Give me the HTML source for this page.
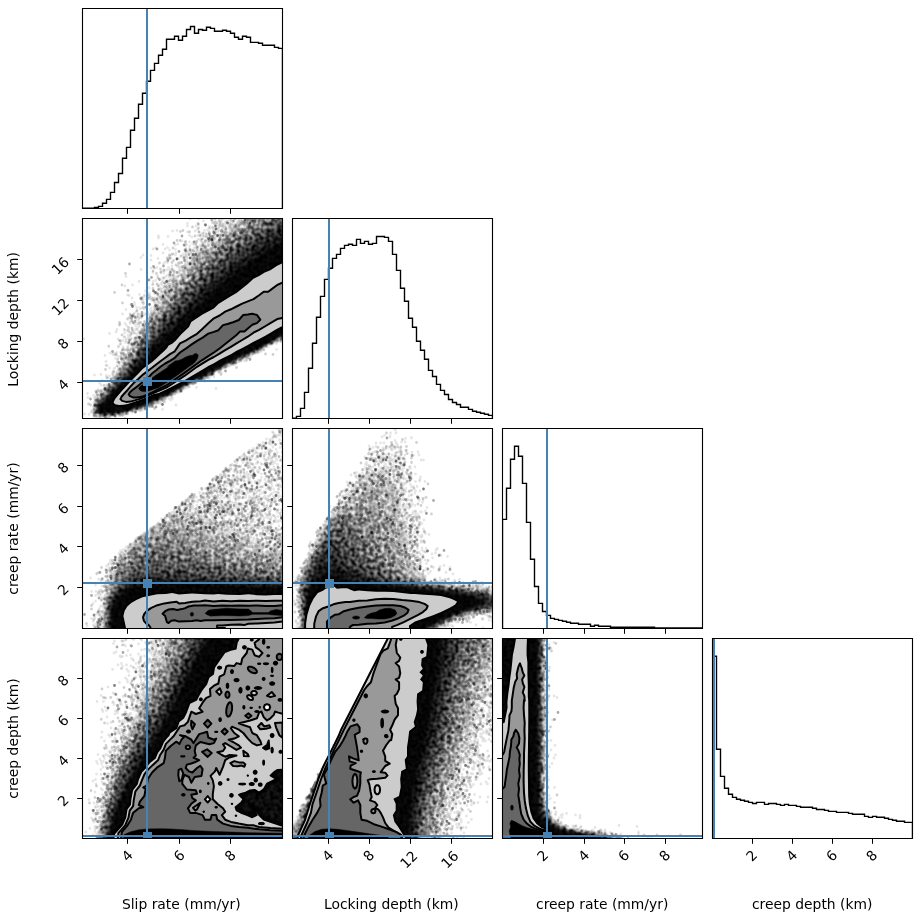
<!DOCTYPE html>
<html lang="en"><head><meta charset="utf-8"><title>Corner plot</title>
<style>html,body{margin:0;padding:0;background:#fff}body{width:922px;height:920px;overflow:hidden}svg{display:block}</style>
</head><body>
<svg width="922" height="920" viewBox="0 0 922 920" font-family="'DejaVu Sans','Liberation Sans',sans-serif" font-size="13.889px">
<rect width="922" height="920" fill="#fff"/>
<defs>
<clipPath id="cp00"><rect x="82.5" y="8.5" width="200" height="200"/></clipPath>
<clipPath id="cp10"><rect x="82.5" y="218.5" width="200" height="200"/></clipPath>
<clipPath id="cp11"><rect x="292.5" y="218.5" width="200" height="200"/></clipPath>
<clipPath id="cp20"><rect x="82.5" y="428.5" width="200" height="200"/></clipPath>
<clipPath id="cp21"><rect x="292.5" y="428.5" width="200" height="200"/></clipPath>
<clipPath id="cp22"><rect x="502.5" y="428.5" width="200" height="200"/></clipPath>
<clipPath id="cp30"><rect x="82.5" y="638.5" width="200" height="200"/></clipPath>
<clipPath id="cp31"><rect x="292.5" y="638.5" width="200" height="200"/></clipPath>
<clipPath id="cp32"><rect x="502.5" y="638.5" width="200" height="200"/></clipPath>
<clipPath id="cp33"><rect x="712.5" y="638.5" width="200" height="200"/></clipPath>
<filter id="bl" filterUnits="userSpaceOnUse" x="70" y="200" width="650" height="650" color-interpolation-filters="sRGB"><feGaussianBlur in="SourceGraphic" stdDeviation="1.1" result="b"/><feTurbulence type="fractalNoise" baseFrequency=".27" numOctaves="1" seed="3" result="t"/><feColorMatrix in="t" type="matrix" values="0 0 0 0 0  0 0 0 0 0  0 0 0 0 0  2.2 0 0 0 -0.6" result="n"/><feComposite in="b" in2="b" operator="arithmetic" k1="-1" k2="1" k3="0" k4="0" result="q"/><feComposite in="q" in2="n" operator="arithmetic" k1="1" k2="0" k3="0" k4="0" result="m"/><feComposite in="b" in2="b" operator="arithmetic" k1="1.20" k2="-0.20" k3="0" k4="0" result="p"/><feComposite in="p" in2="m" operator="arithmetic" k1="0" k2="1" k3="2.40" k4="0"/></filter><clipPath id="sc20"><path d="M78 636.5L78 584.8 295 414.2 295 636.5Z"/></clipPath><clipPath id="hc30"><path d="M235.4 807.2L241 802.7 243.3 799.3 238.8 794.8 241 793.7 245.6 792.5 250.1 790.3 254.6 789.7 259.1 792.5 263.7 789.1 267 783.5 271.6 781.2 276.1 779 270.4 775.6 273.8 772.2 277.2 769.9 288.5 769.3 288.5 826.4 282.5 825.9 277.2 824.2 270.4 821.9 263.7 819.7 259.1 815.1 255.7 809.5 253.5 808.3 256.9 815.1 252.3 817.4 246.7 815.1 241 812.9 236.5 810.6Z"/></clipPath><clipPath id="sc31"><path d="M407.7 600L274.5 860 520 860 520 600Z"/></clipPath>
</defs>
<g clip-path="url(#cp10)">
<g fill="#000" fill-rule="evenodd" filter="url(#bl)"><path d="M113 417.5L101 417.8 94 415.5 92.6 414 92 411 92.4 407 93.4 404 97.6 396 100.5 392 105.3 387 111.1 382 113 379.5 139.8 330 150.4 312 171.4 282 180.4 271 193 257.1 209.5 241 220 231.6 231 223 254 212.5 262 212.5 288 212.5 288.5 212.5 288.5 217 288.5 239 288.5 331 288.5 333 288.5 335 287 336.9 261 350.8 237 362 211 375.8 192.8 384 176 393.7 172.9 395 169 397.7 154.8 404 148 407.7 143.6 409 143 409.6 136.8 411 136 411.7 130.2 413 129 413.8 126.7 414 126 414.7 118.4 416 117 416.7 113.5 417Z" fill-opacity="0.055"/><path d="M112 417.3L102 417.5 97 416.3 94 414.8 92.6 413 92.2 411 92.6 408 94.5 403 100 393.5 104.8 388 110.6 383 113.2 380 140.4 331 151.9 312 173 282.3 184.1 269 200 252.3 220 233.6 230.9 225 250 214 255 212.5 259 212.5 286 212.5 288 212.5 288.5 212.5 288.5 213 288.5 217 288.5 240 288.5 258 288.5 331 288.5 333 288.5 334.9 287 336.6 259 351.6 236.7 362 213 374.6 192.5 384 170 396.7 150 406.4 145 408.6 125 414.6Z" fill-opacity="0.058"/><path d="M111 417.1L102 417.1 98 416.3 94 414.4 93 413 92.5 411 94.4 404 100 394.3 105.4 388 111.1 383 113.7 380 141 332.2 153 312.9 174 283.8 186 269.5 200.8 254 221 235.1 231.4 227 252 214 256.8 212.5 259 212.5 286 212.5 288 212.5 288.5 212.5 288.5 217 288.5 245 288.5 330 288.5 332 288.5 334.8 287 336.3 259 351.3 236.3 362 213 374.3 192.1 384 168 397.5 147 407.5 125 414.3Z" fill-opacity="0.073"/><path d="M115 416.1L110 416.9 103 416.9 95.5 415 93.4 413 92.8 411 94.4 405 100.1 395 106 388.2 111.8 383 114.3 380 142 333 151 318.8 168 295 178.9 281 197 261 221.3 238 232.8 229 255.4 214 257.5 213 261 212.6 285 212.5 288.4 212.5 288.5 216 288.5 233 288.5 243 288.5 329 288.5 332 288.5 334.5 260 350.5 236 362 212 374.5 192 383.9 168 397.3 147 407.2 124 414.3Z" fill-opacity="0.091"/><path d="M114 416L110 416.6 102 416.6 95 414.3 93.8 413 93.2 411 95 404.6 101 394.9 115 380 143.1 334 152.2 320 164 303.8 179 284.6 198 263.9 216 246.5 230 234.8 244 225.1 257 216.5 260 215 281 212.5 288 212.5 288.5 216 288.5 234 288.5 243 288.5 329 288.5 332 288.5 334.3 260 350.2 236 361.7 212 374.2 192 383.6 169 396.5 148 406.5 144 408.1 124 414.1Z" fill-opacity="0.113"/><path d="M112 416.1L102 416.3 98 415.3 95.3 414 93.6 411 95.3 405 101.8 395 115 381 154 320.7 171 298.3 180 287.5 200.1 266 215.6 251 226 241.9 238 232.9 261 218.3 281 213 286 212.6 288 213.1 288.5 217 288.5 233 288.5 244 288.5 329 288.5 331 288.5 334 286 336.1 260 350 236 361.5 213 373.5 192 383.4 169 396.2 148 406.3 124 413.8Z" fill-opacity="0.135"/><path d="M110 416.1L102 416 96 414 94.9 413 94 411 94.5 408 95.8 405 102 395.8 115.8 381 154 323.8 177 294.6 209 261.2 222 249.2 234.8 239 249 229.3 262 221.4 281 214.4 286 213.6 288 214.3 288.5 218 288.5 234 288.5 244 288.5 328 288.5 331 288.5 333.7 285.7 336 259.5 350 237 360.7 213 373.3 191 383.7 169 396 148 406 124 413.6Z" fill-opacity="0.157"/><path d="M115 415L106 415.8 99.1 415 96 413.5 94.7 412 94.4 410 94.9 408 96.9 404 102 396.9 117.4 380 156.8 323 178 297 213 261.4 224 251.5 235 242.7 250 232.4 264 224 281.2 216 286 214.9 287 214.9 288 215.7 288.5 244 288.5 328 288.5 333.4 287 335 259 350 237 360.5 213 373 191 383.4 168.5 396 149.6 405 145 407.1 125.2 413Z" fill-opacity="0.186"/><path d="M113 415L103 415.4 97.6 414 96 412.9 94.9 411 96 406.4 103 396.7 117.6 381 157 326 179.5 299 214.5 264 225.8 254 235.9 246 252 235 265.2 227 281.8 218 285 216.9 287 216.9 288 219.6 288.5 232 288.5 244 288.5 327 288.5 333 286.5 335 260.4 349 236 360.7 212.5 373 192 382.6 168 396 146.9 406 124.3 413Z" fill-opacity="0.228"/><path d="M110 415L102 414.9 96.9 413 95.9 412 95.4 410 97 405.7 103 397.9 119.6 380 159 327.6 182.1 301 216 267.8 237.4 250 254 238.6 271.4 228 283 221.7 285 221.3 286 221.8 287 224.8 288.5 244 288.5 328 288.5 332 288 333.7 259.8 349 236 360.3 211.8 373 192 382.3 169.2 395 146.2 406 123.1 413Z" fill-opacity="0.279"/><path d="M113 414.1L104 414.5 100 413.9 96.8 412 96.1 410 96.5 408 98 405.4 104 398.1 122.2 379 153 339.9 176 313.7 186 303 213 277 232.8 260 250.7 247 273 232.8 280 229.1 282 229 283 229.6 287 234.1 288.5 238.8 288.5 242 288.5 328 288.5 331.9 288 333.2 259 349 237 359.4 213 372 191 382.4 168.5 395 147.4 405 125.3 412Z" fill-opacity="0.341"/><path d="M117 413L109 413.9 102 413.7 97.8 412 97 410.9 96.9 409 98 406.6 103 400.6 124.2 379 153 344.3 179.4 316 189 306.3 220 277.1 244 258 275 237.8 277 237.1 280 236.8 286 237.2 288 238.2 288.5 241 288.5 259 288.5 328 288.5 330.8 288 332.6 260 348 236 359.4 212 372 192 381.4 169.4 394 159.2 399 143.7 406 123.6 412Z" fill-opacity="0.448"/><path d="M110 413.1L103 413 101 412.6 98.4 411 98 408.8 100 405.6 108 397 127.7 378 156 345.8 182 320.1 223 282.2 246 264.3 273 246.5 284 240.8 287 239.8 288 240.2 288.5 248 288.5 326 288.5 330 287.7 332 258.5 348 236 358.6 212.5 371 192 380.6 168.1 394 146.9 404 124.7 411Z" fill-opacity="0.688"/></g>
<g transform="translate(82.5 218.5) scale(.5)" fill="none" stroke="#000" stroke-width="5.56" stroke-linecap="round"><g stroke-opacity="0.10"><path d="M0 0m117 78h0m63-53h0m-19 27h0m38-7h0m-8 6h0m-5 2h0m28-6h0m24-16h0m4-1h0m-18 17h0m4 1h0m10-4h0m7 3h0m-5 4h0m5-1h0m-1 4h0m1 1h0m-108 19h0m33-16h0m4 5h0m0 13h0m2 4h0m-27 18h0m-8 10h0m21-18h0m2 13h0m6-15h0m-7 21h0m10 2h0m3-1h0m-5 3h0m11 5h0m4-56h0m1 7h0m-3 2h0m2 2h0m3 8h0m18-9h0m0 5h0m-2 2h0m2 3h0m-1 4h0m3-6h0m-1 4h0m15-25h0m8-1h0m0 2h0m6-3h0m1 3h0m0 2h0m5-2h0m-3 7h0m6 0h0m-17 6h0m2 10h0m-1 1h0m4-10h0m0 6h0m-2 7h0m15-6h0m-6 4h0m-46 3h0m3 0h0m-6 5h0m1 0h0m0 2h0m5 2h0m14-8h0m-9 7h0m-3 3h0m7 0h0m-13 6h0m4-1h0m-5 4h0m-7 9h0m25-11h0m2-1h0m-8 9h0m10-1h0m8-25h0m-2 14h0m9-2h0m2-12h0m2 0h0m5 5h0m-7 7h0m-4 8h0m6-4h0m1 3h0m-1 2h0m3 5h0m-144 40h0m6 5h0m-96 82h0m77-50h0m-5 20h0m20-20h0m0 8h0m13-13h0m4 18h0m0 10h0m-43 8h0m41-3h0m-4 3h0m8-6h0m-10 13h0m8-3h0m-16 7h0m1 9h0m7 5h0m10-3h0m32-120h0m-5 7h0m-8 8h0m15 10h0m9-18h0m1 1h0m9 0h0m15-7h0m0 5h0m-2 4h0m-24 5h0m-4 4h0m15-7h0m-1 6h0m-9 5h0m8 4h0m10-8h0m0 7h0m1 1h0m-48 5h0m1 4h0m4 0h0m2 0h0m15-7h0m-5 6h0m-9 1h0m4 4h0m3 0h0m3-2h0m-20 16h0m-3 3h0m28-13h0m-5 11h0m3-2h0m12-22h0m-3 6h0m2 4h0m21-9h0m-11 6h0m10-2h0m-28 9h0m3 1h0m4 3h0m14 5h0m4 1h0m10-47h0m14-8h0m0 1h0m-15 15h0m6 5h0m5 4h0m24-23h0m-90 62h0m-3 2h0m5 2h0m5-2h0m6 0h0m-4 4h0m1 3h0m0 1h0m8 1h0m-19 11h0m5-1h0m-7 3h0m9-4h0m6 2h0m-3 2h0m-16 4h0m1 2h0m11 2h0m-14 13h0m4 7h0m131-237h0m12-4h0m9 7h0m-25 13h0m12-11h0m0 3h0m4-1h0m5 3h0m4 3h0m-6 4h0m15-20h0m7 2h0m-3 4h0m-5 5h0m-4 1h0m-2 5h0m6-1h0m-6 4h0m16-6h0m9 2h0m-51 12h0m-6 4h0m0 4h0m1 1h0m13-2h0m1 4h0m1-14h0m9-1h0m5 3h0m-13 5h0m3 1h0m2 1h0m-22 11h0m4-1h0m-1 4h0m1 6h0m23-13h0m4 3h0m-15 8h0m22-24h0m24 3h0m-24 21h0m12-4h0m15-46h0m4 0h0m-1 2h0m2 3h0m9-7h0m-5 5h0m-2 1h0m13-8h0m1 0h0m4 8h0m5-2h0m-31 11h0m9-5h0m11 3h0m11-3h0m-10 9h0m6 2h0m18-24h0m-1 4h0m6-1h0m2 1h0m9 2h0m-14 12h0m-39 15h0m3 10h0m1 0h0m2 5h0m-69 15h0m4 1h0m2 9h0m-1 1h0m3-10h0m11 5h0m-16 6h0m-7 12h0m1 15h0m124-99h0m10 2h0m15 234h0m1 2h0m-4 3h0m-348 14h0m3 14h0m31-21h0m-18 20h0m-5 5h0m19 6h0m9-30h0m3 0h0m3-1h0m1 4h0m3 2h0m-11 7h0m4 2h0m9-3h0m-8 5h0m-4 5h0m1 1h0m4-3h0m-3 10h0m1 0h0m1 1h0m4-7h0m-1 5h0m6-12h0m-38 15h0m4 2h0m8 4h0m4-6h0m0 5h0m0 1h0m-3 8h0m5-5h0m-21 11h0m2-1h0m-5 12h0m10-6h0m1 1h0m2 4h0m4-1h0m-29 9h0m-14 11h0m-24 21h0m16-5h0m1 3h0m0 2h0m3 7h0m4-4h0m4 0h0m1 1h0m5-7h0m-13 16h0m-7 4h0m0 4h0m37-56h0m0 2h0m7-3h0m-2 2h0m5 2h0m-11 5h0m3-1h0m-4 3h0m9-5h0m-2 9h0m85 39h0m-1 1h0m16-9h0m-1 7h0m34-25h0m8-4h0m4-1h0m-3 2h0m37-20h0m-24 12h0m-23 15h0m-11 27h0m-183 18h0m23 3h0m20 10h0m19-10h0m1 0h0m18 7h0m30-19h0m161-79h0m-2 4h0m27-15h0m3 0h0m29-20h0m-1 7h0m3-1h0m28-15h0m-6 3h0m-44 21h0m3-2h0m-68 33h0m19 22h0"/><path d="M0 0m87 116h0m65-81h0m19 1h0m44-35h0m19-2h0m11 13h0m-56 12h0m25 10h0m-8 18h0m-2 2h0m10 1h0m11-30h0m-6 12h0m22-8h0m6 1h0m-1 7h0m-26 14h0m15-9h0m2 4h0m8 0h0m-3 8h0m0 1h0m-101 6h0m-4 22h0m24-14h0m5 18h0m12-14h0m-9 8h0m4 0h0m-23 34h0m9-10h0m-3 2h0m17 10h0m1 0h0m9-3h0m-7 2h0m38-56h0m-2 6h0m-23 14h0m3 0h0m10-1h0m16-16h0m11-5h0m9 2h0m9 1h0m-14 5h0m5-1h0m-1 3h0m-1 1h0m3-1h0m1 2h0m-21 4h0m-1 5h0m11-5h0m0 4h0m-1 3h0m1 4h0m6-9h0m6 3h0m-5 1h0m8 7h0m-45 1h0m-9 8h0m4 3h0m5 0h0m6-6h0m-21 16h0m20-1h0m2 5h0m5 5h0m8-22h0m0 3h0m5-1h0m13-7h0m8 5h0m-2 4h0m3 3h0m-27 1h0m1 9h0m13-3h0m2 0h0m-150 25h0m28-9h0m1 26h0m5 6h0m0 9h0m-11 11h0m6 1h0m2 1h0m-23 18h0m3-4h0m5 2h0m3-7h0m3 10h0m11 0h0m-19 7h0m-4 4h0m14 0h0m-2 2h0m-1 3h0m-23 7h0m-12 19h0m10 3h0m21-18h0m1 3h0m6-7h0m-1 9h0m-17 2h0m1 5h0m-4 3h0m10-1h0m11-3h0m-4 10h0m5-2h0m-1 1h0m6-5h0m3 4h0m23-113h0m-1 1h0m-14 12h0m22 5h0m11-22h0m10-5h0m1 4h0m7-6h0m3-1h0m1 3h0m0 2h0m1 9h0m-29 7h0m12-4h0m-3 3h0m5 3h0m-10 2h0m9 3h0m2-12h0m2 13h0m6-3h0m-52 7h0m-3 10h0m8 0h0m9-5h0m0 4h0m4 1h0m7-1h0m-27 15h0m3 0h0m19-9h0m7 7h0m0 3h0m-6 5h0m13-31h0m2 6h0m0 1h0m13-6h0m1-1h0m5 0h0m-27 25h0m10-1h0m-2 6h0m6-1h0m13-2h0m7-54h0m13-2h0m-3 3h0m-12 3h0m13 10h0m-5 3h0m6 6h0m31-23h0m7-2h0m-51 34h0m4 0h0m5 4h0m-59 37h0m6-7h0m-17 20h0m20-8h0m2 4h0m7-10h0m1 15h0m-31 4h0m3 1h0m-3 7h0m-1 5h0m-1 4h0m8 3h0m-6 5h0m3 0h0m123-242h0m29-2h0m-12 7h0m13-3h0m-19 8h0m2 1h0m-8 6h0m-4 7h0m19-15h0m0 1h0m6 2h0m2 0h0m-5 4h0m7-2h0m-5 4h0m8-19h0m6 8h0m13 0h0m4-6h0m-12 12h0m-11 5h0m3 0h0m1 4h0m10-11h0m3 2h0m7 4h0m1 7h0m-54 3h0m2 4h0m6-5h0m-5 8h0m10-6h0m5-1h0m-20 15h0m8 2h0m-7 11h0m23-14h0m-9 14h0m21-21h0m-2 1h0m14-9h0m0 9h0m-15 8h0m5-1h0m-4 9h0m7 4h0m13-13h0m8-34h0m21-9h0m-3 3h0m3 2h0m-22 5h0m1 9h0m2 3h0m19-10h0m5 10h0m7-23h0m12 0h0m-11 10h0m26-9h0m-24 16h0m6 7h0m-1 1h0m-40 12h0m27-7h0m-27 16h0m0 1h0m-52 12h0m0 13h0m15-11h0m-10 13h0m-5 5h0m0 2h0m-9 2h0m0 7h0m5-2h0m3 1h0m7 1h0m20-31h0m1 2h0m8-1h0m8 4h0m-48 29h0m127-84h0m15-4h0m-10 242h0m5 1h0m-347 41h0m2 8h0m23-37h0m10 3h0m-22 11h0m4-1h0m12-2h0m1 11h0m5-1h0m11-28h0m2 1h0m3 2h0m-8 6h0m0 3h0m5 1h0m23-13h0m-1 3h0m1 4h0m-26 12h0m4 0h0m-1 8h0m4-5h0m-28 9h0m3 11h0m-10 15h0m5 4h0m3-13h0m7 1h0m-7 12h0m11-5h0m0 1h0m13-22h0m-7 7h0m-52 20h0m0 21h0m11 0h0m4 0h0m-5 8h0m-25 13h0m3 2h0m0 6h0m5 6h0m31-56h0m4 3h0m3-1h0m-8 13h0m2 1h0m116 29h0m35-24h0m1 4h0m32-21h0m-2 5h0m-22 10h0m6 7h0m-192 56h0m-5 7h0m14-5h0m4 3h0m3 0h0m1 0h0m-13 2h0m0 2h0m24 1h0m16-10h0m5 6h0m34-19h0m-2 1h0m-1 3h0m3-1h0m7-6h0m130-67h0m17-3h0m5 0h0m24-17h0m31-17h0m-3 3h0m0 2h0m24-16h0m-2 5h0m-37 13h0m13-1h0m0 4h0m-70 29h0m5 1h0m0 3h0m125-55h0"/><path d="M0 0m117 102h0m35-63h0m58-29h0m0 5h0m22-15h0m10 5h0m-15 10h0m3 7h0m-20 5h0m-4 19h0m0 8h0m2-2h0m23-18h0m2-7h0m11-3h0m-8 11h0m-5 7h0m-7 9h0m0 1h0m16-11h0m-5 13h0m-89 5h0m-25 14h0m30 7h0m14-19h0m-28 38h0m42-4h0m-7 3h0m-3 5h0m4-3h0m1 3h0m6-1h0m-20 17h0m7-3h0m8-8h0m0 2h0m1-6h0m7 3h0m-3 7h0m25-48h0m-3 5h0m7-3h0m-8 5h0m5 1h0m-3 5h0m6-3h0m-5 5h0m6 6h0m17-28h0m3-2h0m-8 9h0m4 5h0m14-10h0m-3 3h0m-2 7h0m3-3h0m-16 5h0m1 2h0m-4 1h0m-1 3h0m5-1h0m18-2h0m2 1h0m-8 4h0m4 0h0m-2 6h0m-40 2h0m-3 14h0m12-13h0m-1 4h0m3-3h0m-5 6h0m4 6h0m8-5h0m0 3h0m-31 4h0m9 9h0m18-4h0m-11 9h0m10-7h0m8-21h0m9 4h0m2-2h0m-11 6h0m2 1h0m7-1h0m6-8h0m2 8h0m2-2h0m-19 10h0m13-2h0m-9 13h0m-122 15h0m-13 49h0m3-29h0m14 15h0m0 5h0m-50 57h0m31-20h0m11-18h0m9 7h0m4-3h0m6-3h0m2 4h0m-22 9h0m-7 8h0m19-12h0m7 6h0m-47 19h0m18-4h0m-1 6h0m3 15h0m12-25h0m-10 6h0m10 6h0m18-1h0m-22 5h0m18 0h0m-9 5h0m0 2h0m12 0h0m3 2h0m22-118h0m-9 23h0m2 1h0m10 0h0m16-26h0m-7 10h0m20-9h0m6 1h0m-21 16h0m18-3h0m0 9h0m-53 8h0m-2 11h0m30-11h0m-8 8h0m8 0h0m-31 15h0m15 3h0m11-13h0m-9 10h0m6-2h0m-6 6h0m12-1h0m5-26h0m-1 2h0m1 0h0m5-1h0m1-2h0m-8 6h0m13-1h0m5-4h0m-9 13h0m2-1h0m-1 3h0m4 0h0m-14 9h0m10-3h0m16-8h0m2-1h0m3 2h0m-7 10h0m21-55h0m-9 5h0m5-1h0m-5 17h0m-4 3h0m19-13h0m16-11h0m3 7h0m4-1h0m-40 25h0m0 2h0m-60 33h0m-3 2h0m14-7h0m6 2h0m3 9h0m-13 6h0m1 4h0m-9 8h0m12-9h0m11-5h0m-8 10h0m5-2h0m10-4h0m-32 21h0m2-1h0m-3 3h0m15-3h0m113-227h0m10 5h0m0 3h0m16-3h0m-15 5h0m-6 12h0m8-1h0m-1 3h0m2-14h0m2 1h0m9 5h0m4 0h0m-9 6h0m12-19h0m4 6h0m10-8h0m4 2h0m7-1h0m-26 11h0m0 3h0m14-4h0m-1 5h0m14-2h0m-5 5h0m0 1h0m4-1h0m2 1h0m-61 16h0m12 1h0m4-10h0m2 2h0m-2 4h0m2 6h0m4-2h0m-9 10h0m2 5h0m2-11h0m10 0h0m-6 9h0m-4 6h0m18-28h0m2 4h0m8 4h0m2 3h0m5-11h0m2 0h0m-6 12h0m9-6h0m-22 8h0m4 2h0m1-1h0m1 13h0m20-13h0m25-45h0m6 1h0m-9 7h0m10 0h0m-14 14h0m2-11h0m9 5h0m12-16h0m6 1h0m-12 4h0m9 3h0m8 1h0m1 1h0m7-2h0m-11 8h0m11-3h0m2 3h0m-56 22h0m1 0h0m3 1h0m1 4h0m-58 28h0m9-9h0m5-2h0m-8 7h0m0 7h0m11-1h0m-28 2h0m1 1h0m0 5h0m5-2h0m-6 8h0m17-11h0m2 0h0m0 7h0m12-23h0m-1 1h0m5 5h0m0 6h0m10-11h0m82-47h0m19 229h0m-344 16h0m-8 18h0m2 20h0m7 5h0m18-44h0m9 2h0m-13 14h0m14-2h0m-10 7h0m14-3h0m16-22h0m-11 5h0m20-7h0m-1 4h0m8-4h0m-31 38h0m-18 23h0m3-8h0m7 8h0m-55 3h0m15 11h0m9-10h0m6 1h0m0 15h0m0 5h0m-8 7h0m2-4h0m-37 20h0m25-13h0m-11 14h0m-1 1h0m1 2h0m6-1h0m-2 6h0m42-53h0m4-1h0m-16 17h0m92 34h0m0 4h0m2-1h0m3 3h0m18-9h0m3 2h0m3-3h0m62-43h0m-5 6h0m5-3h0m-47 27h0m-177 37h0m-1 3h0m-4 5h0m16 4h0m5 3h0m2 5h0m12-5h0m3 2h0m2 1h0m10-8h0m3 3h0m9-3h0m15-3h0m22-8h0m22-7h0m26 6h0m181-111h0m-10 7h0m14-9h0m5-1h0m-33 17h0m3-4h0m4 4h0m4-4h0m0 2h0m-69 30h0m-5 7h0m134-70h0"/></g><g stroke-opacity="0.19"><path d="M0 0m86 110h0m146-98h0m0 7h0m-31 5h0m-6 20h0m30-9h0m10-1h0m6 15h0m-60 10h0m-7 14h0m-4 6h0m5 0h0m7 5h0m-38 15h0m-3 6h0m7 5h0m31-22h0m0 13h0m-16 3h0m19 1h0m25-44h0m-10 14h0m6 3h0m26-21h0m17 0h0m-13 14h0m-3 4h0m-11 10h0m4 0h0m-36 8h0m13 3h0m11 6h0m4 1h0m-13 1h0m14-16h0m9 6h0m11-6h0m-6 27h0m-166 33h0m16 21h0m36-10h0m-42 49h0m0 5h0m28-21h0m9 5h0m2 2h0m-23 2h0m23 9h0m4-2h0m-41 37h0m16-27h0m0 5h0m7-3h0m-6 6h0m26-4h0m-1 3h0m-25 22h0m25 0h0m31-116h0m-8 9h0m42-19h0m-3 3h0m3 0h0m0 3h0m-17 22h0m2-12h0m2 3h0m-36 15h0m7 5h0m1 2h0m7-2h0m-27 10h0m5 8h0m22-3h0m-2 2h0m11-15h0m25-8h0m-13 13h0m1 1h0m-2 2h0m39-40h0m2 1h0m5 1h0m-27 5h0m-3 11h0m18 1h0m27-25h0m-43 39h0m-48 29h0m-15 14h0m-3 6h0m11-1h0m25-26h0m-33 37h0m13 8h0m-14 5h0m1 8h0m135-240h0m6-3h0m8 4h0m24 0h0m4 1h0m4-5h0m-18 20h0m20-6h0m-43 15h0m10 18h0m14-11h0m0 2h0m8-7h0m5 4h0m-4 2h0m-12 7h0m12 1h0m25-24h0m14-12h0m29-11h0m-18 23h0m-35 4h0m4 13h0m-65 26h0m-3 4h0m20 0h0m14-11h0m-34 39h0m131-95h0m22 238h0m-3 3h0m-1 4h0m6-2h0m-357 58h0m39-39h0m-18 10h0m11-4h0m3 1h0m3 3h0m2 0h0m14-21h0m2 0h0m-1 9h0m-22 20h0m-18 26h0m1-1h0m19-5h0m20-17h0m-53 57h0m-32 32h0m18-27h0m4-2h0m-8 16h0m-1 2h0m33-43h0m6 3h0m91 39h0m2 2h0m1 3h0m22-15h0m-163 50h0m3-11h0m64-1h0m48-13h0m8 4h0m164-82h0m49-37h0m-107 58h0m9-7h0m18 0h0m104-40h0"/><path d="M0 0m231 10h0m-11 7h0m-24 9h0m18 1h0m-25 17h0m17 3h0m27-20h0m9 8h0m-14 11h0m-1 6h0m12-11h0m7 3h0m-66 27h0m-29 48h0m3-30h0m2 12h0m1 7h0m6 11h0m18-6h0m48-50h0m-8 1h0m2 1h0m-6 3h0m11 0h0m16-12h0m-21 20h0m1 3h0m5 0h0m-8 2h0m7 0h0m19-2h0m0 4h0m-55 6h0m-1 27h0m7-3h0m14-6h0m12-6h0m14-2h0m-3 3h0m-15 3h0m-4 4h0m-137 24h0m40 26h0m0 1h0m-22 12h0m0 23h0m12-11h0m2 7h0m-12 14h0m-20 28h0m5 4h0m-10 7h0m26-20h0m-3 5h0m15 9h0m18-115h0m21 12h0m19-9h0m5-2h0m-3 7h0m3 1h0m5-2h0m-28 12h0m11-6h0m-2 11h0m6 2h0m7-4h0m-44 8h0m2 6h0m-3 2h0m19 1h0m2 12h0m0 7h0m5-24h0m12-4h0m-3 6h0m-1 3h0m-2 6h0m27-43h0m-1 15h0m26 1h0m-8 6h0m-20 7h0m11-2h0m2 4h0m-63 43h0m14-4h0m1 0h0m-20 7h0m6-2h0m2 6h0m11-1h0m-11 3h0m15-4h0m-27 19h0m5-7h0m-5 15h0m16-12h0m121-222h0m-3 21h0m15-10h0m16-9h0m12 6h0m-16 18h0m-23 7h0m12 3h0m-16 7h0m0 9h0m29-21h0m2 11h0m9-15h0m3 6h0m2-5h0m0 5h0m-2 6h0m-16 12h0m37-51h0m6 3h0m0 4h0m-14 6h0m-3 4h0m0 7h0m20-8h0m8-4h0m-11 8h0m0 1h0m29-14h0m3-5h0m-10 9h0m7 7h0m-8 6h0m-90 48h0m-1 2h0m-10 6h0m27-4h0m-201 178h0m2 20h0m4 0h0m-5 5h0m5-3h0m10-25h0m24 2h0m2 1h0m-6 1h0m-22 12h0m3 13h0m1 0h0m-24 10h0m-1 8h0m14-13h0m2-1h0m-1 9h0m-34 29h0m-19 24h0m12-9h0m2 9h0m-33 28h0m54-53h0m104 36h0m75-29h0m-19 4h0m-200 67h0m10 0h0m51-6h0m174-80h0m101-48h0m4 9h0m13-21h0"/></g><g stroke-opacity="0.34"><path d="M0 0m94 91h0m89-42h0m40-2h0m17 7h0m-91 7h0m22 23h0m-29 12h0m-4 22h0m24-23h0m31-29h0m12-3h0m10 0h0m14 19h0m-14 9h0m-10 8h0m-16 9h0m-98 36h0m26 17h0m2 27h0m0 2h0m-14 7h0m-7 3h0m17 29h0m18-106h0m21-1h0m10 7h0m-14 53h0m53-52h0m17-10h0m-99 93h0m7-2h0m8-6h0m-16 38h0m16-8h0m157-237h0m8-1h0m-46 38h0m0 7h0m-2 2h0m6-2h0m1 11h0m20 2h0m50-57h0m10 7h0m-90 65h0m29-11h0m-7 1h0m19-3h0m106 185h0m-337 24h0m27 12h0m25-18h0m-19 14h0m-18 27h0m-47 46h0m2 6h0m7-1h0m-11 21h0m31-52h0m8 73h0m60-13h0m182-92h0m-21 16h0m49-23h0"/><path d="M0 0m199 35h0m4 18h0m-27 54h0m-1 6h0m32-48h0m6 7h0m-9 12h0m33-22h0m5 4h0m5 0h0m-36 49h0m27-24h0m6 0h0m-145 81h0m3 37h0m3-3h0m-11 37h0m12-4h0m2 8h0m43-96h0m14-5h0m9-10h0m-1 10h0m-12 9h0m28-24h0m8 0h0m4-7h0m7 17h0m-60 54h0m105-164h0m9-3h0m-6 11h0m4-3h0m18-12h0m0 1h0m1 0h0m-21 16h0m45-7h0m0 12h0m4-5h0m17-34h0m2 15h0m19-16h0m22 5h0m-287 252h0m19-12h0m13 2h0m-10 13h0m-5 5h0m-19 10h0m-5 7h0m-20 44h0m-9 10h0m-28 19h0m11 3h0m1 0h0m-4 10h0m214-52h0m-215 60h0m-18 21h0m18-9h0m23 6h0m94-24h0m7 1h0"/></g><g stroke-opacity="0.52"><path d="M0 0m221 72h0m5 0h0m-2 19h0m-124 85h0m0 19h0m42-50h0m4 3h0m32-5h0m-44 29h0m12 2h0m15-17h0m105-142h0m24-6h0m-31 34h0m76-34h0m-19 20h0m12 10h0m-269 287h0m13-6h0m88 52h0m73-50h0m-36 23h0m62-35h0m43-22h0"/><path d="M0 0m246 13h0m-57 68h0m26-2h0m0 12h0m31 10h0m-9 4h0m-118 90h0m-5 43h0m54-112h0m10 37h0m-39 38h0m27-6h0m101-174h0m3 13h0m-18 6h0m22 3h0m7-9h0m13 8h0m31-39h0m-59 54h0m23 6h0m-185 187h0m-59 90h0m61 47h0"/></g></g>
<path d="M113.5 402.6L115.2 399.1 118.3 395.2 121.7 391.3 126.1 386.5 130.4 381.7 134.3 377.8 138.3 373.7 143 368.7 147 365.7 152 362.2 156.5 358.3 160.4 354.6 164.3 351.1 167 348.3 168.7 345.4 172.2 343.7 175.7 340.7 181.1 334.4 189 327 191.3 322 202.6 314.6 213.9 308.4 218.4 303.9 225.2 299.7 230.9 296.3 236.5 292.9 242.2 288.4 247.8 283.9 253.5 278.8 259.1 275.9 264.8 272.6 270.4 270.3 277.2 265.8 284 262.5 284 325 282.3 325.9 276.1 329.3 270.4 332.7 264.8 336.1 259.1 338.9 253.5 341.7 247.8 345.1 242.2 348 236.5 350.8 230.9 354.2 225.2 357 219.6 359.8 213.9 363.2 208.3 366 202.6 369.4 184.8 380 167.4 389.1 158.7 393 153.9 393.9 148.7 396.3 143.5 398.4 138.3 400.4 133 402.2 127.8 403.9 123.5 404.8 119.1 405 115.2 404.3Z" fill="#fff" fill-rule="evenodd"/>
<path d="M113.5 402.6L115.2 399.1 118.3 395.2 121.7 391.3 126.1 386.5 130.4 381.7 134.3 377.8 138.3 373.7 143 368.7 147 365.7 152 362.2 156.5 358.3 160.4 354.6 164.3 351.1 167 348.3 168.7 345.4 172.2 343.7 175.7 340.7 181.1 334.4 189 327 191.3 322 202.6 314.6 213.9 308.4 218.4 303.9 225.2 299.7 230.9 296.3 236.5 292.9 242.2 288.4 247.8 283.9 253.5 278.8 259.1 275.9 264.8 272.6 270.4 270.3 277.2 265.8 284 262.5 284 325 282.3 325.9 276.1 329.3 270.4 332.7 264.8 336.1 259.1 338.9 253.5 341.7 247.8 345.1 242.2 348 236.5 350.8 230.9 354.2 225.2 357 219.6 359.8 213.9 363.2 208.3 366 202.6 369.4 184.8 380 167.4 389.1 158.7 393 153.9 393.9 148.7 396.3 143.5 398.4 138.3 400.4 133 402.2 127.8 403.9 123.5 404.8 119.1 405 115.2 404.3Z" fill="#cccccc" fill-rule="evenodd" stroke="#000" stroke-width="4" stroke-linejoin="round" paint-order="stroke"/>
<path d="M120.4 399.1L121.7 396.5 124.3 393.5 127.8 389.7 131.3 385.7 134.3 382.4 138.3 378.9 143 374.6 147 371.5 152 367.8 156.5 364.3 160.4 361.3 165.2 357.7 170 354.1 174.8 351.3 180 343.4 185.7 340.6 191.3 337.2 197 333.8 202.6 328.7 208.3 323.3 213.9 318.3 219.6 315.5 225.2 311.6 230.9 309.3 236.5 306.5 242.2 303.6 247.8 301.4 253.5 299.1 259.1 295.2 263.7 291.8 268.2 291.8 272.7 288.4 277.2 285 282.3 282.7 284 281 284 317 282.3 318 277.2 319.1 270.4 323.1 264.8 326.5 259.1 329.9 253.5 332.7 247.8 336.7 242.2 340 236.5 343.4 230.9 346.8 225.2 350.2 219.6 353.6 213.9 357 208.3 359.8 202.6 363.4 197 366.8 184.8 375.7 167.4 387 158.7 390.9 153.9 392.8 148.7 395.2 143.5 397.4 139.1 399.1 134.8 400.4 130.4 401.6 126.1 401.9 122.2 400.9Z" fill="#999999" fill-rule="evenodd" stroke="#000" stroke-width="2" stroke-linejoin="round"/>
<path d="M128.7 394.3L130 392.2 133 389.6 136.5 387 140.9 383.5 145.2 380 148.7 377.2 152 373.5 156.5 370 160.4 366.8 165.2 363.5 170 360.9 174.8 357.8 180 352.5 185.7 348.7 191.3 344.6 197 340.8 202.6 337.6 208.3 333.6 213.9 331.9 218.4 330.2 223 325.1 227.5 324 233.1 322.3 238.8 320 243.3 314.9 247.8 314.6 252.3 313.8 256.9 314.9 260.3 319.7 256.9 323.1 252.3 324.8 249 327.6 244.4 331.6 239.9 331.6 236.5 335 230.9 339.5 225.2 344 219.6 348.5 213.9 352.5 208.3 356.1 202.6 359.8 197 363.8 184.8 372.6 167.4 384.8 158.7 389.1 153.9 391.7 148.7 394.1 143.5 396.1 140 397 136.5 397.6 133 397.4 130 396.1Z" fill="#666666" fill-rule="evenodd" stroke="#000" stroke-width="2" stroke-linejoin="round"/>
<path d="M138.7 388.3L140 386.5 142.6 384.8 147 382.2 152 378.1 156.5 374.8 160.4 372.2 165.2 369.1 170 366.1 167.4 366.5 171.7 363.5 175.2 360.9 178.7 360.4 182.2 359.1 185.7 357 189.1 355.7 192.6 355.2 195.2 353.5 197.4 353.9 198.3 355.7 197.4 358.7 195.2 361.7 192.6 364.3 189.1 366.5 184.8 369.7 180.4 373 176.1 376.1 171.7 379.1 167.4 382.2 163 384.8 158.7 387.4 156.5 388.3 152.2 389.7 148.7 390.9 145.2 391.5 141.7 391.3 139.6 390Z" fill="#000000" fill-rule="evenodd" stroke="#000" stroke-width="0.5" stroke-linejoin="round"/>
<path d="M147 218.5V418.5M82.5 381H282.5" stroke="#4682b4" stroke-width="2" fill="none"/>
<rect x="143" y="377" width="9" height="9" fill="#4682b4"/>
</g>
<g clip-path="url(#cp20)">
<g clip-path="url(#sc20)"><g fill="#000" fill-rule="evenodd" filter="url(#bl)"><path d="M288.5 634.5L108 634.5 106.3 634.5 104 634.5 101.6 634 101.3 633 102.7 604 106.7 587 108.8 582 114.9 569 127.8 546 131 542.4 132 542.3 136 538.2 137 538.2 141 534.2 142 534.2 145 531.2 146 531.2 150 527.2 151 527.2 160 519.2 161 519.2 164 516.3 165 516.3 169 512.3 170 512.3 174 508.7 176.5 508 192 511.4 223 523.8 251.5 537 269 543.6 288.5 549.7 288.5 552 288.5 564 288.5 573 288.5 587.2 288.5 590 288.5 633 288.5 634.5Z" fill-opacity="0.055"/><path d="M288.5 634.5L108 634.5 104 634.5 102.3 634 101.9 633 103.4 604 107.5 587 112.8 575 123.6 555 131.4 543 136 538.6 137 538.5 141 534.5 142 534.4 145 531.5 146 531.4 150 527.5 151 527.4 155 523.5 156 523.5 160 519.6 161 519.6 164 516.7 165 516.7 169 512.9 172 512.4 190 516.2 221 528.5 247 540 268 547.4 287 551.8 288.5 553 288.5 555.7 288.5 570 288.5 590 288.5 632 288.5 634Z" fill-opacity="0.058"/><path d="M288.5 634.5L109 634.5 104.2 634.5 102.8 634 102.5 633 104 604 108.1 588 114.7 573 124.9 555 136.4 539 141 534.8 142 534.8 145 531.8 146 531.8 150 527.8 151 527.8 155 523.9 156 523.8 159 521.1 169 518.5 173 518.5 188 521.7 244 544.2 267 551.6 284 555.2 287 557 288.5 563.6 288.5 569 288.5 583 288.5 592 288.5 632 288.5 634.5Z" fill-opacity="0.073"/><path d="M288.5 634.5L110 634.5 105 634.5 103.4 634 103.1 633 104.7 604 109 588 116.2 572 126 555.4 139 539.2 143 535.5 156 527 169 525.1 174 525.2 186 527.8 229 544.9 243 549.7 265 556.1 281 559.4 283 560.4 288.5 566.2 288.5 568.3 288.5 571 288.5 589 288.5 633 288.5 634.5Z" fill-opacity="0.091"/><path d="M288.5 634.5L110 634.5 105.3 634.5 104.1 634 103.8 633 105.4 604 109.9 588 118 570.9 127 556.2 141 540.6 144 538.3 157 532 162 531.7 175 532.5 184 534.6 228 551.6 251 558.1 277 563.8 288 567.8 288.5 569.8 288.5 572 288.5 591 288.5 633 288.5 634.5Z" fill-opacity="0.113"/><path d="M288.5 634.5L110 634.5 106 634.5 104.7 634 104.4 633 106.1 604 110.6 589 117 575.5 129 556.7 142 543.7 145 541.6 157 537.4 166 538.5 181 541.5 202 549.7 226 558.1 250.7 564 270.9 568 288 570.1 288.5 571.4 288.5 575 288.5 591 288.5 633 288.5 634.5Z" fill-opacity="0.135"/><path d="M288.5 634.5L111 634.5 106.6 634.5 105.4 634 105.1 633 106.8 604 111.3 590 119 575.5 132.1 559 145 548.8 148 547.2 158 544.8 170 546.5 179 548.3 199.2 555 226.6 563 269 570.9 288.5 572.8 288.5 573.8 288.5 584 288.5 591 288.5 633 288.5 634.5Z" fill-opacity="0.157"/><path d="M288.5 634.5L116 634.5 110 634.5 107.2 634.5 106 634 105.7 633 107.4 605 112 590.8 118 581.2 123 574.6 136 562.8 147 556.1 154 553.5 160 553 175 555 227 567.5 263 573.1 288 575 288.5 576 288.5 580.7 288.5 585.4 288.5 595 288.5 634 288.5 634.5Z" fill-opacity="0.186"/><path d="M288.5 634.5L118 634.5 110 634.5 107.9 634.5 106.6 634 106.3 633 108.1 605 113 591.1 123 578.6 142 565.9 146 564.3 156 561.5 161 561.3 175 562.8 222 571.2 240 573.8 264 576.4 287 577.7 288.5 578.7 288.5 580.2 288.5 582 288.5 587 288.5 633 288.5 634.5Z" fill-opacity="0.228"/><path d="M288.5 634.5L117 634.5 109 634.5 107.3 634 107 633 108.9 605 114 592 124 581.6 137 575.6 147 572 159 571 167 571.1 239 578.3 288.5 581.1 288.5 581.8 288.5 583.3 288.5 589 288.5 633 288.5 634.2Z" fill-opacity="0.279"/><path d="M288.5 634.5L109.9 634.5 108.3 634 107.9 633 109.9 606 115 593.4 125 584.2 128 582.6 147 576.8 167 576.7 212 579.2 239 581.4 288.5 583 288.5 583.5 288.5 585.2 288.5 591.5 288.5 632.4Z" fill-opacity="0.341"/><path d="M288.5 634.5L111.5 634.5 109.3 634 108.9 633 110.4 610 111.8 604 116 595.2 124 588 129 585 147 580 181 580.2 239 583.6 288.5 584.8 288.5 585.3 288.5 586.9 288.5 592 288.5 632 288.5 634Z" fill-opacity="0.448"/><path d="M288.5 634L288.5 634.5 288 634.5 113 634.5 110.8 634 110.3 633 111.8 610 113 605.7 117 597.6 119.5 595 126 589.8 130 587.7 146 583.7 188 583.3 239 586 288.5 586.9 288.5 587.3 288.5 589 288.5 591Z" fill-opacity="0.688"/></g></g>
<g transform="translate(82.5 428.5) scale(.5)" fill="none" stroke="#000" stroke-width="5.56" stroke-linecap="round"><g stroke-opacity="0.10"><path d="M0 0m82 242h0m35-25h0m-2 4h0m-7 5h0m2 1h0m-8 12h0m-11 3h0m1-2h0m7 3h0m13-11h0m-7 9h0m5 0h0m48-60h0m22-6h0m-1 4h0m3-3h0m1 1h0m-6 6h0m35-44h0m2 1h0m-14 8h0m9-4h0m5 5h0m6-14h0m14-7h0m3 7h0m8-5h0m-27 9h0m4-1h0m2 0h0m4-1h0m-5 7h0m15-8h0m0 2h0m-4 5h0m12-4h0m-57 28h0m5-1h0m20-5h0m-3 5h0m-27 2h0m3 10h0m-1 3h0m2 1h0m3 1h0m2-5h0m2 2h0m3 1h0m7-7h0m6-4h0m-1 4h0m-3 3h0m8 4h0m1-28h0m2 6h0m4 2h0m4 1h0m11-9h0m6 5h0m-4 2h0m-6 5h0m7-5h0m3 5h0m-23 5h0m-3 3h0m5 0h0m1 10h0m10-15h0m11 7h0m-12 1h0m-82 17h0m-27 16h0m-2 6h0m10-6h0m-1 4h0m10-11h0m0 1h0m3 3h0m0 3h0m4 0h0m-2 1h0m4-1h0m4-16h0m1 0h0m1 1h0m-3 3h0m29-7h0m-9 3h0m3 4h0m-18 3h0m-1 11h0m13-3h0m2 3h0m4 0h0m-5 4h0m10-3h0m3 2h0m-62 14h0m1 2h0m18-11h0m-1 5h0m10 1h0m-23 22h0m21-9h0m-9 2h0m18-18h0m8-1h0m1 6h0m-2 4h0m7-13h0m0 5h0m-18 11h0m25 5h0m2 0h0m-7 8h0m24-61h0m-11 10h0m7-4h0m15-2h0m-5 5h0m-16 9h0m17-2h0m10 2h0m-9 9h0m11-5h0m3-21h0m7-1h0m4 12h0m5-14h0m1 4h0m4 2h0m3 6h0m4 1h0m-29 9h0m11-6h0m-10 8h0m1 6h0m7-5h0m-1 3h0m9-9h0m12 0h0m-8 8h0m5-3h0m-2 2h0m3 1h0m-58 9h0m4 3h0m21-2h0m-3 6h0m-11 6h0m-6 8h0m7 3h0m7-6h0m1 0h0m9 4h0m2-21h0m8 4h0m10-5h0m0 3h0m1-1h0m-13 17h0m5-5h0m-12 6h0m11 7h0m6-13h0m6 9h0m6-1h0m96-202h0m15-8h0m-9 16h0m12 1h0m14 0h0m-68 16h0m-23 22h0m11-7h0m-3 6h0m3-2h0m1 2h0m14-3h0m-46 17h0m-6 13h0m5-1h0m-2 5h0m10-11h0m1 0h0m2 0h0m2 2h0m10-19h0m-3 6h0m6-2h0m5 2h0m8 6h0m2 2h0m7-5h0m1 3h0m-28 12h0m12-1h0m5-6h0m2 0h0m3 0h0m6-1h0m-9 7h0m1 4h0m20-56h0m13 0h0m3 2h0m-2 8h0m1 1h0m-21 4h0m7 7h0m9-3h0m6 1h0m3 3h0m5-22h0m17-3h0m2 11h0m4-5h0m-25 14h0m15-6h0m-4 10h0m12-5h0m4-2h0m-2 2h0m-52 12h0m6 0h0m2 3h0m-2 4h0m-2 3h0m3-2h0m-3 3h0m1 1h0m-1 1h0m13-10h0m9-4h0m-4 5h0m-9 4h0m-12 7h0m5 0h0m-3 9h0m12-6h0m-2 12h0m22-31h0m16 7h0m-3 7h0m8 0h0m-18 15h0m11-8h0m35-107h0m-19 7h0m2 6h0m-4 5h0m14-7h0m2 0h0m3 2h0m4-4h0m-9 11h0m0 1h0m-13 14h0m13-13h0m5 6h0m3-1h0m-7 9h0m-5 10h0m12-6h0m-23 25h0m2-2h0m0 6h0m12-14h0m4 5h0m4-6h0m0 10h0m1 0h0m-19 11h0m7-5h0m-10 10h0m5 1h0m17-6h0m-7 3h0m0 9h0m-3 5h0m11-4h0m-10 6h0m3 1h0m-20 8h0m2 5h0m1 5h0m8-1h0m3-2h0m4-1h0m4 3h0m-145 12h0m9-3h0m-4 1h0m-6 9h0m13-10h0m-1 1h0m-15 14h0m1 3h0m4 9h0m5-6h0m2 4h0m17-12h0m-7 11h0m2 3h0m16-23h0m10-3h0m8-3h0m-4 10h0m-9 8h0m-2 12h0m11-14h0m2 2h0m2 12h0m3 0h0m-58 2h0m-4 5h0m11-6h0m-2 5h0m-8 7h0m1 2h0m7-5h0m13-5h0m4-2h0m2-1h0m1 5h0m0 7h0m-14 11h0m-1 4h0m7-6h0m5-4h0m2 3h0m-12 9h0m18-23h0m7-7h0m0 3h0m-9 11h0m16-10h0m1 9h0m3 1h0m-13 7h0m15-3h0m-6 5h0m12 1h0m1 3h0m7-59h0m11 14h0m12-13h0m4 8h0m-31 10h0m0 3h0m10-4h0m5 0h0m12 2h0m-4 10h0m1-1h0m13-23h0m4-2h0m7 5h0m4 0h0m1 6h0m9 0h0m-30 5h0m7 1h0m2-3h0m3 1h0m-4 2h0m-8 6h0m6 3h0m3-2h0m9-10h0m1 10h0m8-2h0m3-2h0m-61 18h0m16-8h0m-10 17h0m3 7h0m3-1h0m5-5h0m12 4h0m2-23h0m6 2h0m3 3h0m-9 5h0m25-10h0m-2 7h0m-7 5h0m13 2h0m-27 8h0m7-2h0m2-1h0m11-2h0m0 1h0m7 0h0m-115 20h0m2-1h0m-9 8h0m15-7h0m3 3h0m2 5h0m1-5h0m-12 10h0m1 1h0m18 4h0m-7 4h0m15-27h0m-3 3h0m-3 7h0m2 0h0m12-3h0m-3 6h0m16-12h0m2-1h0m-6 3h0m-1 9h0m-13 4h0m2 0h0m-2 10h0m14-12h0m6 12h0m-61 5h0m10 2h0m-2 3h0m6 0h0m-2 3h0m3-6h0m4 4h0m9 3h0m-28 6h0m1 3h0m6 2h0m1 8h0m17-12h0m-8 14h0m11-6h0m1 0h0m14-24h0m-9 7h0m4 2h0m16-6h0m-2 6h0m7 1h0m1 1h0m-21 6h0m1 8h0m5-1h0m-2 4h0m10-6h0m2-6h0m3 2h0m-9 7h0m7 1h0m6 4h0m2-60h0m8-3h0m6 15h0m3-9h0m9-6h0m-24 16h0m1 1h0m-1 7h0m13-8h0m8 1h0m7 4h0m-10 3h0m-2 4h0m-3 2h0m23-30h0m1 5h0m2 0h0m5 2h0m-7 2h0m21-6h0m-3 3h0m-16 11h0m5-1h0m2 6h0m4 7h0m10-2h0m-60 8h0m9-1h0m1 2h0m0 1h0m-6 9h0m10-4h0m-1 1h0m-16 10h0m15-4h0m-7 6h0m-7 1h0m13 4h0m2-11h0m0 2h0m11 1h0m3 8h0m33-26h0m0 2h0m-8 8h0m-21 7h0m2 0h0m0 2h0m0 6h0m6 4h0m7-13h0m3 4h0m12-115h0m6-2h0m-3 9h0m15 5h0m-12 12h0m5-3h0m12 1h0m1-1h0m-8 8h0m9 2h0m-3 12h0m-16 8h0m9 2h0m13 5h0m-27 9h0m1 1h0m-2 8h0m18-15h0m9 3h0m-1 11h0m-24 9h0m3-3h0m6-4h0m0 6h0m2-2h0m5-1h0m9-1h0m-8 13h0m2 0h0m-17 8h0m9-1h0m-1 9h0m12-9h0m-7 3h0m5 6h0m1 0h0m4-6h0m-20 8h0m6 4h0m-7 6h0m18-9h0m2 5h0m-9 8h0m2 0h0m5-3h0m-384 55h0m12-9h0m27-10h0m-4 14h0m-13 11h0m28-47h0m11-4h0m2 0h0m-3 3h0m-2 3h0m5 2h0m4-2h0m2 0h0m-26 12h0m1 1h0m10 3h0m5-12h0m-1 2h0m3 5h0m0 1h0m16-24h0m2 0h0m4 9h0m0 6h0m10-10h0m7-1h0m-1 6h0m1 5h0m-22 4h0m5 0h0m3 3h0m1 9h0m2-1h0m14-2h0m-63 7h0m5-3h0m-4 10h0m10 4h0m19-7h0m-13 4h0m-9 7h0m2 1h0m3 0h0m-2 2h0m-3 3h0m31-14h0m-56 25h0m5 0h0m-1 10h0m7-5h0m-15 8h0m4 0h0m-2 3h0m8 3h0m5-4h0m-5 10h0m-19 5h0m8 28h0m14-7h0m9-54h0m-1 4h0m2 9h0m2 1h0m78-69h0m13 0h0m-10 13h0m17-19h0m6 0h0m17-2h0m-2 14h0m9-5h0m22-10h0m2 11h0m-23 10h0m38-21h0m4 2h0m7 5h0m-15 10h0m8 3h0m5-4h0m-213 132h0m2-18h0m14-2h0m-7 5h0m8-2h0m4-3h0m-15 18h0m6 4h0m224-143h0m-11 3h0m13-2h0m8 6h0m-4 9h0m14 1h0m12-19h0m2 22h0m21-16h0m13 8h0m-5 8h0m8-10h0m11 13h0m-1 1h0m5-30h0m0 2h0m10 4h0m0 5h0m19-7h0m-3 5h0m-1 2h0m1 2h0m-12 7h0m-8 3h0m-3 3h0m18-4h0m5-7h0m1 5h0m-51 25h0m42-12h0m2-1h0m7 16h0m10-45h0m-1 11h0m11-11h0m6 1h0m1 1h0m2-3h0m-18 16h0m-6 2h0m1 1h0m7-5h0m-1 2h0m1 1h0m-7 8h0m10-4h0m1 7h0m3-3h0m4 3h0m-7 6h0m-13 3h0m2 2h0m22-7h0m-6 13h0"/><path d="M0 0m79 247h0m16-16h0m11-8h0m8-6h0m0 3h0m-1 3h0m-6 4h0m10 1h0m-23 6h0m-2 2h0m5 0h0m6 4h0m-6 5h0m14-7h0m5-5h0m44-51h0m13-5h0m3 1h0m36-37h0m-10 6h0m4-3h0m33-21h0m-18 13h0m-3 4h0m19-4h0m1 3h0m-6 4h0m-34 11h0m-5 4h0m-9 4h0m7 2h0m-2 3h0m17-8h0m0 5h0m-9 8h0m-8 4h0m12-8h0m0 3h0m-1 7h0m21-22h0m8-2h0m2 12h0m1-9h0m2 7h0m2 1h0m1 2h0m8-1h0m-24 10h0m0 1h0m1 3h0m14-5h0m11-7h0m-9 13h0m-107 26h0m-11 5h0m16 3h0m30-28h0m-11 6h0m7 4h0m10-6h0m8-7h0m3 2h0m-12 8h0m12 2h0m-18 12h0m8-6h0m6 2h0m-53 14h0m3 2h0m-5 7h0m5 2h0m7-12h0m4 13h0m11 1h0m-27 12h0m18-11h0m-5 7h0m14-2h0m-14 9h0m1 1h0m10-1h0m16-29h0m2 1h0m2-2h0m12 11h0m1 3h0m-20 8h0m-5 5h0m2-1h0m-6 5h0m17-6h0m3-1h0m15-56h0m3 2h0m6 0h0m-2 4h0m-2 6h0m8-12h0m6 0h0m-6 15h0m-2 2h0m-9 9h0m5 2h0m2 2h0m4-14h0m0 4h0m7 2h0m8 1h0m3-17h0m13-4h0m2 3h0m12 9h0m-18 4h0m4-2h0m0 1h0m-3 2h0m-10 9h0m8-4h0m9 0h0m-2 3h0m4 2h0m5 0h0m-56 8h0m-2 1h0m3 2h0m0 2h0m6 3h0m6 2h0m1-12h0m6-2h0m0 6h0m8-6h0m-5 6h0m5-2h0m-6 8h0m4 0h0m0 2h0m-23 6h0m2-1h0m7-1h0m-4 6h0m16-1h0m3 6h0m7-26h0m5-4h0m2 5h0m-9 7h0m1 2h0m13-8h0m8 1h0m5 0h0m-19 13h0m-4 6h0m17-7h0m129-214h0m7 1h0m-49 33h0m10-11h0m1 1h0m6 6h0m10-12h0m20-10h0m-25 19h0m2 1h0m1 5h0m15-6h0m0 3h0m-61 16h0m4 1h0m-29 19h0m8-5h0m18-7h0m-3 11h0m8 0h0m-46 13h0m8-1h0m-2 13h0m5-6h0m-12 8h0m4 6h0m20-20h0m15-4h0m-18 12h0m5-1h0m5-2h0m-4 4h0m-10 5h0m20-4h0m7 2h0m-9 2h0m26-55h0m9-1h0m4 13h0m-22 7h0m0 7h0m7-2h0m0 3h0m10-10h0m-2 3h0m4-2h0m15-9h0m-2 3h0m19-7h0m6-3h0m-27 18h0m4 6h0m0 2h0m1 0h0m-36 3h0m2 6h0m6-7h0m-4 10h0m-7 4h0m20 1h0m-8 3h0m-5 8h0m39-23h0m13 6h0m1 3h0m-21 4h0m-5 5h0m10-5h0m-2 5h0m16-3h0m1 8h0m1 4h0m8-111h0m17-7h0m3 4h0m-14 9h0m-9 12h0m20 5h0m3 9h0m-13 3h0m-8 16h0m7-1h0m1 4h0m2 2h0m-13 7h0m27-4h0m-17 18h0m4 1h0m-4 6h0m17 10h0m-27 7h0m24-1h0m-7 9h0m-142 7h0m3-2h0m2 0h0m-6 7h0m-2 2h0m11 0h0m11-8h0m0 5h0m5-1h0m1-2h0m2 3h0m-2 5h0m-26 4h0m4 2h0m8-1h0m-3 6h0m-6 3h0m-1 1h0m7-1h0m17-5h0m3 9h0m-1 1h0m2-19h0m9 2h0m9-14h0m3 7h0m-5 6h0m-13 6h0m-3 12h0m5 0h0m4-3h0m13 1h0m-52 5h0m4 1h0m6 1h0m-5 5h0m-5 3h0m27-5h0m-3 3h0m5-2h0m-24 10h0m1-2h0m0 2h0m5-1h0m-4 4h0m-3 10h0m25-9h0m-15 4h0m0 4h0m13-6h0m6-19h0m-2 1h0m3 1h0m5-6h0m0 2h0m0 7h0m5-1h0m-5 5h0m8-12h0m10 2h0m2 4h0m1 4h0m1 1h0m-31 10h0m23-4h0m-2 2h0m6 4h0m6-50h0m-1 2h0m3-1h0m-2 7h0m8-4h0m8-10h0m6 6h0m-4 2h0m11 6h0m-30 2h0m3 1h0m4 1h0m15 1h0m0 1h0m3-2h0m5-2h0m-4 5h0m14-18h0m-5 6h0m6 5h0m-6 2h0m8 5h0m-1 7h0m12-9h0m5-4h0m-1 7h0m2 0h0m-58 9h0m-2 6h0m5-2h0m9-1h0m-7 12h0m4-2h0m1 1h0m19-10h0m-3 3h0m2-1h0m-6 9h0m-21 2h0m-2 1h0m3 1h0m-2 2h0m7 2h0m11-4h0m3 10h0m14-18h0m6 2h0m1-1h0m2 1h0m4-11h0m2 4h0m6 1h0m1 2h0m-23 14h0m8-5h0m12 7h0m3 2h0m-121 5h0m-2 5h0m4 0h0m2 2h0m2-6h0m3 6h0m2 0h0m-10 6h0m-2 2h0m15-9h0m1 0h0m12-3h0m-4 3h0m-10 15h0m16-5h0m4-9h0m3-3h0m0 1h0m1 0h0m3-3h0m-1 9h0m8-11h0m-1 2h0m2 1h0m3-1h0m-3 3h0m10-4h0m-3 4h0m-4 4h0m1 1h0m-12 9h0m-9 9h0m22-10h0m8 1h0m0 11h0m-60 4h0m0 12h0m17-10h0m0 7h0m-16 12h0m0 2h0m3 5h0m11-7h0m19-17h0m-2 5h0m2-3h0m2 2h0m-5 2h0m5 3h0m12-12h0m-1 4h0m5-2h0m4 4h0m-25 11h0m3 2h0m6-1h0m4 1h0m-14 4h0m0 3h0m4 1h0m19-10h0m0 4h0m1 1h0m5 1h0m9-55h0m-3 1h0m7-3h0m-10 8h0m2 6h0m8-6h0m0 1h0m6-7h0m8 1h0m-9 4h0m2 1h0m0 4h0m0 1h0m10-3h0m0 1h0m-24 5h0m9 5h0m-6 4h0m12-5h0m7 0h0m4-1h0m-5 9h0m17-27h0m8 6h0m7 4h0m-25 12h0m15 2h0m0 5h0m2-11h0m10-3h0m-58 17h0m-1 13h0m12-7h0m8-6h0m-3 4h0m8-5h0m6 2h0m-15 12h0m-10 2h0m-3 5h0m10-5h0m10 3h0m-5 7h0m1 3h0m4-2h0m0 1h0m18-18h0m5-3h0m-2 4h0m4-7h0m9-1h0m6 7h0m-29 5h0m7 3h0m6-1h0m-8 7h0m-5 3h0m15-12h0m1 5h0m8-4h0m1 0h0m-3 3h0m16-109h0m3 1h0m0 6h0m2 0h0m3-12h0m8 2h0m1 0h0m-9 5h0m-10 7h0m9 2h0m-12 7h0m7 4h0m13-12h0m-21 17h0m10-2h0m-12 12h0m22-2h0m-16 12h0m8-6h0m-14 14h0m9-6h0m17-4h0m-19 15h0m-6 12h0m21-13h0m3-1h0m2 4h0m-5 11h0m-2 11h0m-11 6h0m3 9h0m2 1h0m-5 4h0m13-13h0m-4 2h0m1 1h0m2 0h0m4 1h0m-4 2h0m1 3h0m-10 9h0m0 3h0m-7 1h0m0 4h0m-1 3h0m4-7h0m5 0h0m-4 4h0m9-11h0m-1 4h0m10-3h0m-8 12h0m-1 1h0m-343 26h0m-3 2h0m-16 13h0m23-1h0m-23 14h0m7 0h0m-3 2h0m15-6h0m-1 5h0m6-39h0m14 0h0m1 0h0m2-13h0m3 0h0m-2 8h0m5 1h0m-7 4h0m6-3h0m1 0h0m-23 5h0m5 3h0m7-4h0m-1 6h0m4 0h0m5-1h0m11 10h0m13-30h0m-31 36h0m-9 4h0m1 0h0m-3 7h0m-2 2h0m19 3h0m-3 1h0m17-18h0m-71 42h0m9 0h0m7-2h0m13-9h0m8-1h0m-8 9h0m6-3h0m-1 2h0m-13 16h0m11-9h0m-8 11h0m7 1h0m-4 11h0m-9 15h0m-8 4h0m4 0h0m1 2h0m14-7h0m-6 4h0m3 0h0m3 2h0m10-53h0m2 12h0m83-82h0m-14 16h0m44-12h0m-19 15h0m26-4h0m12 6h0m18-4h0m-5 7h0m1 5h0m15-30h0m1 7h0m6-3h0m15 14h0m-233 129h0m13-2h0m4-2h0m22-13h0m-22 19h0m10-4h0m212-144h0m15 1h0m6 1h0m2 26h0m16-21h0m0 5h0m12-9h0m-2 5h0m3 1h0m-15 7h0m-2 10h0m-20 6h0m34 0h0m6 7h0m12-34h0m0 1h0m4-2h0m2 2h0m0 4h0m7-8h0m6 8h0m-2 1h0m5-4h0m5 5h0m-25 4h0m6-1h0m-2 10h0m6-2h0m6 5h0m1 1h0m6-6h0m19-22h0m-4 5h0m4 0h0m-11 4h0m14-11h0m0 3h0m13 3h0m-12 5h0m4-2h0m8 5h0m-17 7h0m1 3h0m2 2h0m-1 2h0m-39 12h0m41-7h0m14-30h0m12 3h0m-1 7h0m3 1h0m4-13h0m7 10h0m3-2h0m-24 13h0m9-6h0m-8 8h0m-4 5h0m17-11h0m-2 11h0m2 0h0m-12 9h0m8 8h0m8-14h0m-6 4h0m6 7h0"/><path d="M0 0m87 237h0m-11 7h0m0 1h0m11 1h0m21-26h0m0 2h0m10-4h0m-5 3h0m5 1h0m-13 3h0m1 1h0m1 5h0m-12 2h0m-5 4h0m5-1h0m-2 2h0m6-4h0m4 0h0m-4 4h0m3 1h0m-9 5h0m0 1h0m1 0h0m0 1h0m13-9h0m7-1h0m2 1h0m-11 3h0m4 0h0m57-62h0m3-5h0m1 1h0m5-1h0m-1 1h0m9 4h0m-7 4h0m38-45h0m-6 5h0m-4 9h0m33-31h0m-1 13h0m-13 3h0m-2 3h0m-1 10h0m1 0h0m4-3h0m5 1h0m14-4h0m2 6h0m-50 5h0m-12 6h0m20-2h0m-2 7h0m-7 9h0m-6 7h0m28-29h0m2 0h0m-1 1h0m-2 2h0m0 5h0m14 2h0m-4 4h0m5 0h0m5 1h0m-20 6h0m12-1h0m-9 4h0m5 6h0m5-2h0m4-12h0m14 5h0m-15 3h0m7 0h0m-6 4h0m12-4h0m-1 5h0m-108 18h0m4-1h0m-13 14h0m10-12h0m11 4h0m1 0h0m-8 8h0m20-24h0m2 3h0m4-3h0m5 8h0m4-4h0m-17 10h0m-3 9h0m7 4h0m5-10h0m7 0h0m3-2h0m-3 7h0m5 0h0m-2 2h0m-54 6h0m4 3h0m0 1h0m3 3h0m0 12h0m1 8h0m9-2h0m-2 4h0m18-28h0m-3 3h0m8-5h0m-9 10h0m7 0h0m-7 10h0m11 0h0m-3 4h0m11-9h0m-4 7h0m4 3h0m21-55h0m5 0h0m-12 12h0m14-13h0m6-1h0m-2 5h0m-4 8h0m8-4h0m7 1h0m-29 9h0m4 1h0m15 0h0m7-2h0m-9 8h0m9-3h0m9-17h0m10-7h0m-3 3h0m-10 7h0m0 1h0m27-8h0m-6 11h0m-14 5h0m6 0h0m7 0h0m3-2h0m-2 10h0m6-2h0m-5 6h0m5-3h0m-54 18h0m18-12h0m1 4h0m-9 6h0m9-4h0m-18 10h0m-2 13h0m12-15h0m1 9h0m22-25h0m4 7h0m-7 7h0m14-14h0m1 2h0m-1 5h0m8-6h0m2-1h0m-6 11h0m-24 18h0m8-3h0m3 0h0m15-6h0m77-181h0m5 0h0m9-11h0m18-12h0m8 6h0m2-10h0m14-3h0m0 6h0m-31 12h0m27 0h0m4-1h0m-90 39h0m-2 5h0m8 0h0m8-14h0m8 2h0m0 8h0m-2 3h0m-34 12h0m0 1h0m-2 5h0m3-1h0m6-2h0m-19 11h0m-6 1h0m1 2h0m9 4h0m1-4h0m9-2h0m1 1h0m-2 2h0m4-1h0m16-20h0m9 0h0m8 1h0m0 4h0m2-1h0m-6 2h0m2 0h0m-17 9h0m5 0h0m-13 6h0m6 0h0m12-10h0m0 3h0m15-49h0m6 4h0m0 5h0m18-12h0m-11 9h0m-15 11h0m8 6h0m11-6h0m19-9h0m0 1h0m6 2h0m7-8h0m7-3h0m-5 10h0m-22 9h0m-30 22h0m8-3h0m3 1h0m4-10h0m1 4h0m11 1h0m-8 6h0m1 1h0m0 2h0m4-6h0m-13 19h0m-5 3h0m6-2h0m11-9h0m0 1h0m-9 10h0m30-20h0m-13 8h0m10-2h0m10 7h0m-4 5h0m14 2h0m22-120h0m1 3h0m-15 13h0m8 0h0m-13 17h0m19-1h0m-19 30h0m-1 3h0m1 4h0m7 1h0m15-11h0m2 14h0m-26 1h0m9 11h0m13 20h0m2-4h0m-21 6h0m8 0h0m10 12h0m-148 12h0m8 1h0m1 4h0m11-6h0m-11 19h0m5 2h0m3-13h0m-1 5h0m0 2h0m13 4h0m7-25h0m-1 4h0m9 2h0m0 2h0m6-3h0m-3 4h0m14-1h0m-20 10h0m4 4h0m17-6h0m-5 2h0m-8 7h0m8 0h0m-56 6h0m8 2h0m-6 9h0m1 2h0m13-13h0m5 5h0m2 1h0m-8 3h0m0 5h0m7 0h0m7-3h0m-29 5h0m6 1h0m3 4h0m-9 4h0m9-1h0m6-4h0m2 7h0m0 2h0m5-4h0m22-24h0m-11 6h0m1 2h0m6 1h0m4 2h0m2-13h0m0 6h0m7 1h0m-7 8h0m4 0h0m10-7h0m-24 13h0m9-5h0m9 5h0m4 8h0m7-57h0m5 7h0m5 0h0m7-10h0m3 1h0m-6 3h0m10 1h0m-25 12h0m12 10h0m8-12h0m7 5h0m0 4h0m0 5h0m3-26h0m12 0h0m-1 7h0m8-5h0m5-5h0m-21 18h0m4 4h0m-6 1h0m6 0h0m1 1h0m5 0h0m2 6h0m9-10h0m4 1h0m-10 8h0m-49 3h0m7-1h0m-7 10h0m6 4h0m20-10h0m-8 5h0m7 3h0m-24 19h0m11-7h0m11-7h0m1 5h0m8-8h0m5-1h0m1 0h0m12-11h0m5 2h0m6 2h0m0 9h0m-16 5h0m-8 4h0m0 7h0m3-1h0m3-1h0m19-6h0m-12 5h0m12 3h0m-113 1h0m-2 5h0m-6 6h0m1 0h0m12-10h0m2 2h0m7 0h0m2 4h0m-12 3h0m-18 7h0m1 2h0m6 4h0m8-6h0m-14 14h0m12-2h0m6-12h0m-3 6h0m12-7h0m-5 14h0m8-5h0m-7 3h0m8-26h0m5 0h0m-4 4h0m0 1h0m0 3h0m3 2h0m15-10h0m-4 22h0m-7 6h0m7-2h0m3-9h0m0 1h0m6 0h0m-8 8h0m-41 17h0m1-4h0m2 1h0m2-1h0m-4 6h0m13-8h0m4-7h0m0 12h0m5 3h0m-19 8h0m-6 4h0m13-10h0m6-1h0m-5 10h0m4 5h0m16-28h0m-3 3h0m3 0h0m0 3h0m11-7h0m6 7h0m-23 17h0m13-2h0m1 7h0m8-15h0m0 4h0m8-2h0m-2 5h0m-11 3h0m16-54h0m8 11h0m15-13h0m2 1h0m-11 6h0m-12 12h0m2 3h0m-6 6h0m9-3h0m12-8h0m2 4h0m3-5h0m-7 10h0m13-25h0m7 5h0m-2 3h0m-3 1h0m6 0h0m8-7h0m11-1h0m4 1h0m-13 9h0m-17 8h0m1 0h0m3 8h0m9-4h0m-3 4h0m11-12h0m9-1h0m-3 8h0m-59 19h0m15-6h0m2 3h0m-2 2h0m1 3h0m8 1h0m4-1h0m-27 4h0m-2 6h0m13 3h0m16-7h0m8-18h0m3 5h0m-4 3h0m3 0h0m3 0h0m12-7h0m2 3h0m6-1h0m-1 6h0m-20 5h0m1 8h0m-1 5h0m7-11h0m1 4h0m6-1h0m6-4h0m-13 8h0m8 6h0m3-1h0m5-114h0m15-4h0m1-7h0m-14 21h0m0 8h0m23-7h0m-25 33h0m1 3h0m9 1h0m0 6h0m3-1h0m2 2h0m2 8h0m-14 8h0m-3 1h0m15-1h0m-13 11h0m12-4h0m1 1h0m-2 2h0m8-12h0m3 1h0m3 5h0m-9 8h0m-11 2h0m-3 1h0m10 9h0m-2 4h0m6-11h0m6-1h0m-2 18h0m4-4h0m2 1h0m0 8h0m-351 28h0m0 9h0m-24 12h0m1-1h0m9 10h0m5 7h0m1 4h0m34-62h0m2 0h0m-8 10h0m5-2h0m-3 6h0m-17 7h0m12 8h0m8-10h0m-1 2h0m-5 6h0m23-19h0m4 1h0m9-8h0m4 4h0m-11 16h0m4 1h0m-47 12h0m-1 2h0m12-3h0m-7 11h0m-2 1h0m15-9h0m-3 10h0m-14 10h0m33-13h0m-65 21h0m11 10h0m10-11h0m3 4h0m-24 18h0m4-2h0m4 1h0m3 10h0m-16 7h0m15 5h0m4 0h0m5 3h0m-12 3h0m1-1h0m1 11h0m12 0h0m16-49h0m67-73h0m-5 8h0m18-9h0m-22 31h0m33-23h0m20 6h0m8-3h0m-25 11h0m41-21h0m13 4h0m4-1h0m-22 16h0m37-7h0m11-13h0m3 6h0m-25 19h0m16-7h0m-217 114h0m3 6h0m12-4h0m2 8h0m1-1h0m6-1h0m-17 10h0m7-5h0m6 6h0m-14 3h0m16-4h0m210-142h0m1 0h0m-1 6h0m19-12h0m-3 2h0m13-3h0m-15 14h0m4-1h0m11 1h0m-5 7h0m-9 4h0m12 0h0m11-26h0m4 2h0m7-1h0m6 6h0m-3 6h0m4-2h0m5 3h0m-25 10h0m-5 4h0m19-6h0m1 5h0m8 0h0m2 0h0m-31 12h0m45-28h0m2 1h0m8-8h0m3-1h0m3-2h0m2 1h0m-20 23h0m2 4h0m8-7h0m20-18h0m-5 7h0m19-9h0m1-1h0m5 2h0m-5 4h0m-7 1h0m3 4h0m-14 4h0m-1 3h0m-2 3h0m5-3h0m6-2h0m-13 13h0m3-1h0m15-8h0m1 9h0m7-1h0m-55 3h0m9 15h0m11-13h0m-5 8h0m10 5h0m8-12h0m2 0h0m3-3h0m13 2h0m-7 6h0m10 11h0m16-50h0m-2 4h0m9-1h0m10-1h0m-11 7h0m7 4h0m-14 6h0m-4 4h0m13-7h0m3 10h0m1 16h0"/></g><g stroke-opacity="0.19"><path d="M0 0m117 215h0m-31 30h0m25-27h0m5-1h0m-9 9h0m-11 6h0m7 7h0m77-64h0m32-30h0m12-13h0m15-12h0m2 10h0m1 7h0m-5 7h0m5 3h0m-47 17h0m0 3h0m20-3h0m-5 7h0m17-11h0m-5 13h0m4-4h0m5 5h0m2-4h0m6-1h0m7 2h0m-10 12h0m-98 18h0m1 1h0m16-10h0m12 4h0m11-8h0m-13 14h0m-7 13h0m22-10h0m-60 17h0m15 9h0m14-8h0m0 14h0m28-10h0m-10 15h0m4 4h0m42-58h0m-11 10h0m-1 4h0m10 0h0m12-11h0m18-3h0m-25 14h0m5 2h0m0 8h0m7-1h0m-40 10h0m7 0h0m4 11h0m4 5h0m5 9h0m28-21h0m-20 12h0m23-5h0m84-181h0m11-2h0m15-11h0m11-3h0m-1 5h0m15 14h0m-87 25h0m-1 5h0m11-3h0m-37 21h0m16-9h0m-8 3h0m1 4h0m-11 18h0m17-4h0m8-22h0m10 3h0m-8 1h0m24-8h0m-23 19h0m-1 2h0m38-48h0m8 8h0m-19 7h0m5 10h0m24-14h0m-1 12h0m9-28h0m21 23h0m-47 17h0m3 21h0m8-9h0m16 4h0m43-109h0m-12 25h0m15 2h0m4 17h0m-18 9h0m14 8h0m-5 31h0m2-7h0m6 12h0m1 7h0m-143 19h0m-7 9h0m18-10h0m10-4h0m-13 14h0m6-1h0m-18 4h0m10-1h0m-12 8h0m6 3h0m13-10h0m-2 13h0m23-15h0m0 1h0m3 9h0m13-4h0m-58 22h0m7-4h0m7 7h0m-8 16h0m28-16h0m14-9h0m2 4h0m0 4h0m-9 3h0m3 2h0m6 1h0m13-49h0m8 3h0m15-5h0m8 10h0m-22 7h0m-8 12h0m14-1h0m16-1h0m3-27h0m28 1h0m-55 39h0m2-1h0m7-4h0m12 10h0m-28 5h0m7 0h0m-7 1h0m7 4h0m5 7h0m15-9h0m3 0h0m2-21h0m0 13h0m10 1h0m-5 4h0m9 4h0m-5 8h0m7-8h0m15-4h0m-119 16h0m1 0h0m-2 5h0m0 5h0m12-11h0m-2 3h0m12-1h0m2 6h0m-13 7h0m13-1h0m0 3h0m25-10h0m4 1h0m-22 9h0m-27 14h0m0 3h0m-7 5h0m3 1h0m18-8h0m6 11h0m-10 14h0m4 3h0m1 0h0m0 1h0m19-31h0m12 6h0m3 0h0m-12 4h0m4-2h0m8 6h0m-19 4h0m3 0h0m-12 10h0m49-59h0m1-1h0m4 9h0m4 6h0m-11 7h0m-15 9h0m11-6h0m19-9h0m-3 11h0m3-2h0m16-20h0m-8 10h0m5-4h0m7-10h0m-1 6h0m4 7h0m5 1h0m-22 14h0m22-13h0m2 3h0m-8 8h0m-46 10h0m15 3h0m33-5h0m-6 3h0m7-2h0m2-2h0m2 0h0m1 1h0m2 0h0m-12 11h0m8-2h0m-21 7h0m-3 1h0m30-116h0m8 19h0m-7 9h0m8-2h0m6 17h0m6 12h0m-20 22h0m2 7h0m14 8h0m7-3h0m-8 12h0m11 5h0m-20 9h0m-6 9h0m19-9h0m-358 43h0m12 6h0m-10 17h0m9-5h0m-1 10h0m5 1h0m12-50h0m10-4h0m9-1h0m-16 18h0m-9 8h0m11 1h0m7-14h0m2 1h0m11-15h0m18-3h0m-4 4h0m4 3h0m0 16h0m6-5h0m-55 17h0m6 3h0m3 6h0m4-9h0m6 5h0m-21 9h0m1-1h0m-1 13h0m41-29h0m-43 32h0m-9 12h0m-14 4h0m6 15h0m-20 18h0m29-17h0m1 7h0m10-38h0m81-57h0m19-6h0m8-1h0m27 1h0m17 5h0m7-4h0m14 9h0m11-11h0m2-1h0m-11 16h0m-225 126h0m29-13h0m5 13h0m215-135h0m17 23h0m6-27h0m18 2h0m7-3h0m-4 11h0m-2 9h0m0 8h0m-33 11h0m66-34h0m7 0h0m3 7h0m-23 12h0m20-9h0m-9 13h0m27-24h0m4-2h0m-16 25h0m20-10h0m-5 3h0m9-3h0m4 6h0m2 6h0m-29 7h0m10 4h0m23-36h0m8-2h0m-6 9h0m9 31h0m9-4h0"/><path d="M0 0m114 218h0m-16 26h0m2 3h0m73-77h0m6 13h0m28-36h0m40-27h0m-10 16h0m4 3h0m0 9h0m-53 10h0m5-1h0m14-4h0m4 1h0m-3 5h0m7-2h0m-27 17h0m4 8h0m12-12h0m-4 2h0m34-6h0m3-1h0m8-2h0m-22 16h0m11 1h0m12-4h0m-6 7h0m-111 23h0m10-1h0m-1 3h0m-2 4h0m24-13h0m15-3h0m-11 9h0m0 6h0m13-3h0m-49 9h0m10 2h0m10 12h0m-14 6h0m47-20h0m-3 3h0m5 3h0m-9 11h0m20-35h0m13-15h0m-21 18h0m0 5h0m3-3h0m23 10h0m9-27h0m10-2h0m-6 5h0m-9 3h0m7 1h0m14 3h0m-19 8h0m8-1h0m-9 6h0m17-10h0m1 8h0m0 3h0m-46 7h0m2 8h0m12-7h0m1 2h0m0 3h0m-8 8h0m-2 13h0m9-6h0m29-9h0m9-5h0m99-170h0m26-25h0m-17 10h0m26 6h0m-12 8h0m10-5h0m0 1h0m-64 12h0m-26 24h0m13-12h0m7 0h0m5 1h0m-1 4h0m-2 3h0m-28 20h0m-1 1h0m-16 1h0m-5 14h0m17-9h0m30-15h0m-18 13h0m12-3h0m3 3h0m-3 3h0m1 1h0m12-5h0m2 5h0m3-53h0m5 5h0m10-5h0m-1 12h0m1 3h0m22-16h0m24 13h0m-21 8h0m18 0h0m1 9h0m-5 9h0m-10 21h0m15-11h0m-1 12h0m25-112h0m-15 11h0m5 0h0m9-9h0m4 27h0m-22 10h0m9 8h0m-1 1h0m7 2h0m-17 27h0m15 2h0m9-10h0m-23 17h0m4 6h0m-2 4h0m11-1h0m2-9h0m12 3h0m-5 7h0m-8 12h0m13 3h0m-155 14h0m11-3h0m4-3h0m12 2h0m-18 18h0m3-1h0m6-5h0m2 5h0m3 2h0m16-23h0m11 2h0m8 9h0m-20 2h0m-24 20h0m-9 6h0m9-2h0m4-7h0m13 3h0m15 1h0m-14 4h0m4 4h0m5-4h0m-1 5h0m7-12h0m-12 21h0m-2 7h0m12 0h0m18-55h0m23-2h0m3-1h0m-7 21h0m4 2h0m14-11h0m-37 27h0m26-8h0m1 6h0m-25 9h0m9 4h0m-11 5h0m27-7h0m-7 5h0m4 3h0m5 2h0m7-28h0m-1 4h0m12 7h0m-4 15h0m15-7h0m-103 18h0m1-2h0m8 1h0m0 3h0m-17 8h0m4 4h0m19-19h0m6 4h0m3 0h0m6-3h0m8 4h0m-7 1h0m13 3h0m-2 9h0m2 4h0m-59 18h0m17-8h0m-6 15h0m-1 6h0m23-14h0m3 20h0m40-52h0m-2 8h0m10 6h0m-5 8h0m9-4h0m13-27h0m0 5h0m7 3h0m11 6h0m2-2h0m-18 14h0m13-4h0m-48 13h0m6-2h0m-12 12h0m18-9h0m-2 5h0m-1 4h0m4-1h0m-2 18h0m19-24h0m9-2h0m-3 4h0m5 8h0m10 3h0m32-105h0m-1 5h0m-14 28h0m7 7h0m3 10h0m-15 5h0m-4 22h0m8-7h0m0 9h0m3 5h0m5-2h0m-7 6h0m7 7h0m5 2h0m-22 13h0m8 1h0m3 2h0m10 0h0m-344 41h0m-9 12h0m5 8h0m26-48h0m2 5h0m-19 3h0m14 1h0m10-1h0m-5 10h0m12-24h0m7 8h0m-7 12h0m-1 9h0m-31 2h0m-3 12h0m13 1h0m-11 6h0m-15 16h0m-3 10h0m-22 28h0m5 20h0m27-30h0m-6 8h0m2 0h0m-13 13h0m6 1h0m103-99h0m24-18h0m1 4h0m11 3h0m30-8h0m19 3h0m-2 8h0m5 15h0m-207 108h0m12-1h0m1 4h0m-4 3h0m4 2h0m9-11h0m-19 20h0m4-1h0m225-142h0m17-7h0m3 7h0m-5 19h0m33-26h0m-3 2h0m6 20h0m-3 4h0m-20 5h0m2 3h0m6 6h0m32-37h0m15-2h0m-19 19h0m5-3h0m0 13h0m11-8h0m16-20h0m2-3h0m-1 4h0m-2 5h0m-6 5h0m31-9h0m-15 6h0m7-3h0m-41 37h0m34 3h0m23-38h0m17-10h0m-13 27h0m10 1h0m-7 15h0m-9 6h0"/></g><g stroke-opacity="0.34"><path d="M0 0m112 221h0m87-72h0m20-17h0m1 13h0m-4 6h0m-18 29h0m46-27h0m0 14h0m-83 17h0m4 6h0m18 0h0m-28 16h0m16-6h0m-41 21h0m6-2h0m15-1h0m-1 3h0m49-30h0m-15 11h0m36-15h0m10 25h0m-39 15h0m24 20h0m152-218h0m-4 6h0m-93 63h0m-3 5h0m12-5h0m13 4h0m13 1h0m24-42h0m6 2h0m-9 11h0m39-2h0m4 5h0m-27 18h0m-3 20h0m26-25h0m21-58h0m-2 19h0m10 35h0m-7 3h0m7 11h0m7-3h0m-150 25h0m3 7h0m23-6h0m-24 27h0m13-3h0m13-1h0m12 2h0m-42 6h0m17 8h0m4 5h0m3-2h0m-8 13h0m14 1h0m7-26h0m-4 12h0m10-4h0m11-7h0m-2 15h0m27-49h0m11 1h0m-23 30h0m12-2h0m-3 7h0m1 9h0m2 15h0m35-16h0m-109 34h0m9 0h0m8-3h0m-20 11h0m12 3h0m19-17h0m14-2h0m2 7h0m4 17h0m-35 14h0m16-8h0m12-2h0m11 6h0m-11 8h0m-12 8h0m16-1h0m23-45h0m-7 9h0m14 3h0m13-1h0m3-11h0m15-6h0m5 24h0m-14 16h0m24 0h0m13-76h0m-1 63h0m4 13h0m-6 4h0m-338 51h0m1 5h0m15-18h0m-3 9h0m11-5h0m13-1h0m8-16h0m8 22h0m12-10h0m-56 27h0m-9 22h0m-14 21h0m-2 28h0m-1 20h0m2-1h0m4 17h0m253-154h0m7 30h0m62-16h0m11 16h0m-21 2h0m10 4h0m24-6h0m13 5h0"/><path d="M0 0m169 174h0m14 1h0m33-39h0m-22 25h0m14-1h0m2 22h0m34-26h0m-82 28h0m-1 2h0m21-1h0m-14 24h0m22-21h0m24 1h0m-25 19h0m38-18h0m7-3h0m4 4h0m5 39h0m-14 4h0m111-189h0m-8 3h0m22-14h0m2 17h0m10-11h0m-56 23h0m-22 20h0m4 1h0m-29 31h0m14-9h0m-4 13h0m2-1h0m21-7h0m1 3h0m26-52h0m46 8h0m5 17h0m-57 16h0m25-4h0m-25 17h0m8-3h0m8-4h0m40-12h0m21-90h0m7 18h0m-10 53h0m-13 16h0m-122 57h0m7-3h0m1-8h0m20-19h0m5 13h0m18-5h0m-54 25h0m19 4h0m-24 19h0m36-10h0m15 4h0m8 12h0m28-32h0m2-6h0m2 4h0m27-21h0m-8 13h0m1 10h0m-36 10h0m17-2h0m1 6h0m-2 3h0m-2 10h0m7-18h0m6 2h0m-89 41h0m30-16h0m20 5h0m-2 2h0m-6 16h0m0 1h0m3 0h0m-26 6h0m2 10h0m14-10h0m2 3h0m7 14h0m22-49h0m23 8h0m-5 12h0m17 6h0m-39 22h0m-7 8h0m52-5h0m26-92h0m-18 11h0m25 25h0m-19 25h0m20 7h0m-26 14h0m8 19h0m-349 43h0m31-30h0m4 13h0m-6 8h0m29-12h0m-19 13h0m-17 20h0m-39 34h0m31-10h0m-5 17h0m-40 31h0m19 1h0m20-23h0m87-71h0m93-23h0m-190 127h0m-2 7h0m5-5h0m-5 10h0m4-2h0m233-139h0m43 6h0m15 0h0m4-11h0m-6 24h0m57 6h0"/></g><g stroke-opacity="0.52"><path d="M0 0m189 167h0m11-15h0m34 6h0m2 9h0m-18 11h0m-56 17h0m4 17h0m15-2h0m30-14h0m26-9h0m130-148h0m-116 80h0m85-33h0m27-3h0m-18 11h0m4 15h0m0 9h0m32-91h0m-85 99h0m-41 29h0m-4 5h0m-1 6h0m25 5h0m-9 8h0m57-49h0m-6 53h0m48-21h0m-110 37h0m45 13h0m11 12h0m63-36h0m5-46h0m18 0h0m1 37h0m-18 33h0m-1 7h0m-3 22h0m16-4h0m-327 26h0m7 10h0m26-2h0m29-16h0m-80 136h0m-15 9h0m313-148h0m30 12h0"/><path d="M0 0m205 151h0m-19 7h0m19 5h0m-9 7h0m4 7h0m9 24h0m1 11h0m19-22h0m18 8h0m-10 2h0m119-145h0m-101 56h0m17-4h0m96-33h0m-25 17h0m-18 21h0m42 1h0m17-10h0m-116 47h0m14-22h0m-14 45h0m12-6h0m32-4h0m26 12h0m-35 42h0m51 27h0m33-110h0m12 12h0m-15 15h0m16 38h0m-22 6h0m7 16h0m10 10h0m-309 28h0m-20 19h0m4 13h0m9-1h0m168-41h0m-208 132h0m246-109h0m85-7h0m-14 16h0m43-29h0m1-1h0m-4 8h0"/></g></g>
<path d="M126 628L124.7 622.1 123.4 616 124.7 610.8 127.3 606.4 131.2 603 136.4 599.9 142.5 597.3 140 597.8 148.7 596.1 157.4 594.3 166 593.9 172.1 593 179 594.6 185.1 593.9 192.1 593.4 200.7 593.9 205 594.3 213.7 594.6 218 593.9 226.7 594.8 239.7 594.9 248.4 594.3 257.1 595.2 265.7 595.4 274.4 594.9 282.5 594.9 290 595 290 640 126 640Z" fill="#fff" fill-rule="evenodd"/>
<path d="M126 628L124.7 622.1 123.4 616 124.7 610.8 127.3 606.4 131.2 603 136.4 599.9 142.5 597.3 140 597.8 148.7 596.1 157.4 594.3 166 593.9 172.1 593 179 594.6 185.1 593.9 192.1 593.4 200.7 593.9 205 594.3 213.7 594.6 218 593.9 226.7 594.8 239.7 594.9 248.4 594.3 257.1 595.2 265.7 595.4 274.4 594.9 282.5 594.9 290 595 290 640 126 640Z" fill="#cccccc" fill-rule="evenodd" stroke="#000" stroke-width="4" stroke-linejoin="round" paint-order="stroke"/>
<path d="M150.4 627.3L148.7 625.1 146.1 623.4 143.9 620.8 143 617.3 144.3 613.8 146.9 610.8 151.3 607.8 157.4 605.2 164.3 603.4 170.4 602.4 176.4 601.7 179 603.4 185.1 603 192.1 601.7 200.7 601.3 205 600.4 213.7 601.5 222.4 600.8 231 601.3 239.7 600.8 248.4 601.1 257.1 600.7 265.7 601 274.4 600.8 282.5 600.7 290 600.6 290 621 282.5 621.5 274.4 622.5 265.7 623 257.1 623.4 248.4 623.8 244 625.1 239.7 624.4 231 624.7 222.4 625.6 217.1 625.6 217.1 627.9 225 627.9 225 640 151 640Z" fill="#999999" fill-rule="evenodd" stroke="#000" stroke-width="2" stroke-linejoin="round"/>
<path d="M162.6 613.8L165.2 611.2 168.6 609.5 173 609.1 177.3 609.9 181.6 609.1 185.1 608.2 188.6 606.5 193.8 605.6 200.7 605.6 205 605.3 213.7 605.9 222.4 605.4 231 605.7 239.7 605.6 248.4 605.8 257.1 605.4 265.7 606 274.4 606 282.5 605.2 290 605 290 617 282.5 617.3 274.4 618.2 265.7 618.6 257.1 619 248.4 619.5 239.7 619.7 231 619.9 222.4 620.1 213.7 620.3 205 620.3 200.7 621 196.4 620.3 192.1 621 185.1 621.2 179 621.6 174.7 620.3 171.2 620.8 168.6 623 166.9 622.1 166 619 165.2 616Z" fill="#666666" fill-rule="evenodd" stroke="#000" stroke-width="2" stroke-linejoin="round"/>
<path d="M190.2 614.3L190.8 612.8 191.9 612.3 193.1 612.8 193.6 614.3 193.1 615.7 191.9 616.3 190.8 615.7ZM205.1 613.4L207.7 610.8 212 609.9 216.4 609.9 208.5 610.4 213.7 609.5 218 609.1 226.7 608.2 231 608.6 239.7 608.9 248.4 609.1 251.9 611.7 252.5 612.6 260.5 612.6 268.3 612.6 270.9 610.8 276.1 609.5 282.5 610.4 290 610 290 616 282.5 615.6 274.4 615.1 269.2 614.4 268.3 614.3 260.5 614.3 252.5 614.3 248.4 615.6 239.7 616 231 615.7 222.4 615.6 213.7 616 209.3 615.6 212 616 207.7 615.1Z" fill="#000000" fill-rule="evenodd" stroke="#000" stroke-width="0.5" stroke-linejoin="round"/>
<path d="M147 428.5V628.5M82.5 583H282.5" stroke="#4682b4" stroke-width="2" fill="none"/>
<rect x="143" y="579" width="9" height="9" fill="#4682b4"/>
</g>
<g clip-path="url(#cp21)">
<g fill="#000" fill-rule="evenodd" filter="url(#bl)"><path d="M420 634.5L306 634.5 304 634.5 301 634.5 300.2 634 299.5 626 299.2 601 297.3 583 298.5 579 303.5 567 322.6 529 326.6 522 332.5 514 355 485.3 365 476 376 470.7 383 470.9 387 471.7 389.5 474 395.1 482 399.4 496 404.7 530 408.5 549 411.8 561 415.2 570 422.5 578 427 581.3 444 584.1 473 586.5 498.5 589.5 498.5 591 498.5 594 498.5 595 498.5 606 498.5 609 498.5 610.6 480 612.8 461.1 618 455.8 620 443.4 626 428 634.5 424 634.5 420.6 634.5Z" fill-opacity="0.055"/><path d="M419 634.5L307 634.5 302 634.5 300.4 634 299.9 605 297.9 583 303.7 568 322.7 530 329 519.7 355 486.7 365 477.6 375 472.9 379 472.8 386 474.4 393.1 483 397.3 496 402.6 529 407.7 552 413.8 570 421.5 578 426 581.5 430 582.4 448.3 585 498.5 589.9 498.5 591.2 498.5 596 498.5 605 498.5 608 498.5 609.5 498.5 610.3 480 612.4 459.8 618 443 625.8 427 634.5Z" fill-opacity="0.058"/><path d="M419 634.5L413 634.5 308 634.5 305 634.5 302 634.5 300.7 634 300.2 604 298.5 583 304.2 568 324 528.5 327 523.5 333 515.5 356 489.3 366 481.5 374 478.5 377 478 382 479.3 386 482.8 388.8 487 392.6 498 398.6 529 404.2 550 411.4 569 414.3 573 422.7 580 427 582.4 447 585.2 498.5 590.6 498.5 592 498.5 596 498.5 604 498.5 608 498.5 608.9 479.6 612 459 617.8 443.6 625 427 634.1Z" fill-opacity="0.073"/><path d="M418 634.5L412 634.5 309 634.5 305 634.5 302 634.5 301.1 634 300.6 604 299 584 300 580 305.8 566 324 529.6 328 523.2 334 515.7 341 509.1 360 495 372 489.2 377 488.8 379 490.3 380.5 493 383.7 501 391.2 531 396 544 399.8 553 404.9 563 409.5 571 412 573.6 422.8 581 427 582.9 447 585.6 498.5 591.2 498.5 592 498.5 597 498.5 604 498.5 607.4 498.5 608.3 481 611.3 460 617 443 624.8 426.4 634Z" fill-opacity="0.091"/><path d="M417 634.5L309 634.5 304 634.5 302.4 634.5 301.5 634 301.1 604 299.7 587 300.1 582 305 569 324 531 329 523.4 337 514.6 356 505.9 366 503.3 372 502.7 373.6 504 374.6 506 383.8 535 389.6 547 400 564 406.2 572 409.4 575 426 583.3 498.5 591.9 498.5 592.7 498.5 594.1 498.5 598 498.5 603 498.5 606.7 498.5 607.6 480.3 611 459 616.9 443.6 624 425.5 634Z" fill-opacity="0.113"/><path d="M416 634.5L309 634.5 304 634.5 301.9 634 301.5 603 300.5 588 301.2 582 305.8 569 325 530.7 330 523.9 337 516.6 341 515.4 354 513.7 359.4 515 367 519.1 369.7 523 377.2 542 385.1 554 396.6 568 404.1 575 408 577.6 426 583.9 498.5 592.9 498.5 593.7 498.5 595 498.5 598.3 498.5 603 498.5 606.1 498.5 606.9 478.4 611 460 616 442.5 624 424.6 634Z" fill-opacity="0.135"/><path d="M415 634.5L309 634.5 304 634.5 302.4 634 302 603 301.2 588 302.2 582 306 570.5 325.9 531 330 525.8 337 518.7 340 517.9 348 518.3 351 518.9 352.7 520 363.7 534 370.9 548 380.2 559 393.9 572 406 579.7 426 584.5 468 589.5 498 593.7 498.5 594.2 498.5 595.8 498.5 599 498.5 603 498.5 605.5 498.5 606.4 477 610.9 459 615.9 443.4 623 423.8 634 421 634.5Z" fill-opacity="0.157"/><path d="M413 634.5L310 634.5 305 634.5 302.8 634 302.1 588 305 576 308 568.5 326 533.9 329 529.7 337 522.3 340 521.4 346 522.6 348.5 524 353 531 361.9 548 364.6 552 377.1 564 382.1 568 391.9 575 401.8 580 407.6 582 426 585.1 468 590.1 498.5 594.7 498.5 595.5 498.5 596.6 498.5 603 498.5 604.9 498.5 605.8 476 610.7 459 615.5 442.4 623 423 634 420 634.5Z" fill-opacity="0.186"/><path d="M419 634.5L411 634.5 311 634.5 305 634.5 303.3 634 303 632 303 589 303.6 585 308 571 323 542.9 328 536.8 332 533.6 338 530.9 341 530.3 342.8 531 348 537.5 356.4 552 362.3 558 373.4 567 381 572 391 577.4 402.8 582 408 583.2 468 590.8 489 594 498.5 595.9 498.5 597.7 498.5 603 498.5 604.1 498.5 605.2 475 610.5 457 615.7 442 622.7 422.3 634Z" fill-opacity="0.228"/><path d="M418 634.5L411 634.5 311 634.5 305 634.5 303.9 634 303.6 605 304.6 587 309 572.7 317 558.2 326 543.8 328 542.5 331 541.9 340 542.8 343 545.8 350 557 353.2 560 365 568.4 372 572.5 380 576.6 389 579.7 405 583.8 463.8 591 495.4 596 498.5 597 498.5 597.5 498.5 599 498.5 603 498.5 604.2 498.5 604.7 473 610.4 456 615.5 441 622.6 430 628.6 421.3 634Z" fill-opacity="0.279"/><path d="M417 634.5L311 634.5 305.9 634.5 304.6 634 304.2 632 304.2 605 306 588 311 573.9 319 560.7 327 549.3 329 548.5 334 551.2 343 563 346 565.5 363.1 575 378 580.4 403 584.7 423 586.8 469 592.7 496.1 598 498.5 599 498.5 600 498.5 602 498.5 603.1 470 610.5 454 615.6 430 627.8 420.3 634Z" fill-opacity="0.341"/><path d="M415 634.5L311 634.5 307.4 634.5 306 634.4 305.4 634 304.9 632 305 604 307 590.5 312 578.9 315 574.6 323 565.6 327 562.4 330 561.5 339 568.5 343 570.8 359 577.8 374 581.9 381 583.2 425.4 588 463.2 593 479 596.1 485.6 599 488.1 601 488.3 602 487.7 603 485 605 454 614.8 429 627.4 419.1 634Z" fill-opacity="0.448"/><path d="M417 634.1L409 634.5 313 634.5 307 634.1 306 632 306 605.7 308 593.5 309 590.4 314 582.6 316 580.3 324 574.1 326 573.2 328 573.1 357 582.4 380 585.2 423.7 589 453.1 593 465.5 595 476 597.7 478.9 599 480.8 601 480.9 603 478.3 605 452 614.3 430 625.6 419.3 633Z" fill-opacity="0.688"/></g>
<g transform="translate(292.5 428.5) scale(.5)" fill="none" stroke="#000" stroke-width="5.56" stroke-linecap="round"><g stroke-opacity="0.10"><path d="M0 0m119 119h0m34-84h0m14 1h0m16-7h0m-24 23h0m19 3h0m17-40h0m0 2h0m12-8h0m19 11h0m12-2h0m0 1h0m-51 18h0m9-1h0m3 2h0m3-3h0m7-3h0m-4 18h0m12-7h0m1 4h0m10-3h0m2 6h0m9-2h0m-91 20h0m2 5h0m-11 10h0m10-2h0m0 1h0m15-14h0m11-6h0m2-2h0m-9 6h0m14 1h0m-28 14h0m3 1h0m26-7h0m-4 4h0m3 0h0m1 3h0m-59 7h0m5 10h0m8-4h0m10-4h0m-8 6h0m2-1h0m1 2h0m1 1h0m-6 3h0m9-3h0m2-1h0m1 3h0m-20 6h0m-9 12h0m2 0h0m21-11h0m-1 2h0m-6 2h0m11 0h0m7-23h0m9 3h0m0 3h0m-9 1h0m2 7h0m7-1h0m11-9h0m2-2h0m-6 6h0m0 1h0m12 4h0m1 0h0m-28 2h0m5 3h0m2 4h0m-2 3h0m11-8h0m7 0h0m5-2h0m-1 3h0m-1 5h0m11-56h0m1 3h0m-7 12h0m8-4h0m-3 10h0m6-1h0m1 8h0m3-6h0m12-3h0m-13 6h0m5 3h0m8-4h0m2 2h0m7-22h0m1 9h0m-3 6h0m14 3h0m11-1h0m-10 3h0m1 0h0m-51 12h0m-1 2h0m8-5h0m12 7h0m-1 5h0m12 1h0m-20 7h0m-3 6h0m7-3h0m-6 6h0m11-13h0m8 4h0m-8 5h0m1 1h0m12-20h0m12-4h0m-13 6h0m30-6h0m-21 20h0m-6 2h0m14-7h0m-132 19h0m0 10h0m12-8h0m-3 4h0m9 2h0m-29 18h0m-11 16h0m3 3h0m-3 9h0m-5 3h0m14-24h0m10-1h0m3 0h0m7-3h0m7 1h0m2 1h0m-12 7h0m6 0h0m-5 2h0m-2 1h0m-15 8h0m4 6h0m21-3h0m4 1h0m-68 25h0m0 2h0m-14 22h0m11-4h0m1-1h0m-1 5h0m-6 8h0m4-3h0m23-47h0m-6 9h0m12-6h0m3 4h0m-19 11h0m1 3h0m4 1h0m18-1h0m12-20h0m14 2h0m2 8h0m0 6h0m10 30h0m2-109h0m2 8h0m8-3h0m0 2h0m3 3h0m3 1h0m5 0h0m-16 4h0m-1 3h0m-1 1h0m-1 6h0m13-7h0m12-3h0m5-8h0m0 1h0m11-1h0m6-9h0m-2 5h0m12-4h0m-13 14h0m11 11h0m3-3h0m-54 8h0m-3 5h0m10 0h0m13-4h0m-6 8h0m-2 4h0m5-5h0m3 1h0m-20 9h0m11-1h0m1 5h0m1-2h0m10 1h0m4-12h0m21-5h0m6-2h0m0 4h0m-28 10h0m2 15h0m12 0h0m8-15h0m2 2h0m-2 11h0m1-4h0m11-52h0m12 0h0m-10 9h0m11-14h0m2 3h0m5-3h0m5 6h0m-4 4h0m-22 7h0m4 1h0m1 3h0m1-1h0m15-2h0m-5 8h0m3 0h0m-4 2h0m1 0h0m-1 2h0m6-2h0m1-2h0m1 1h0m6 1h0m6-27h0m-1 6h0m4-2h0m-6 4h0m4 0h0m-3 3h0m5-1h0m22-6h0m-1 4h0m-29 12h0m2 2h0m5 0h0m-1 8h0m11-8h0m7 8h0m-54 14h0m16-9h0m8-2h0m-8 11h0m-16 10h0m5-3h0m2-3h0m5 2h0m-13 12h0m17-15h0m0 2h0m1 4h0m11-5h0m1 1h0m-2 5h0m-4 8h0m12-25h0m-5 5h0m18-9h0m7 13h0m1-1h0m-19 10h0m-2 3h0m9-1h0m3-4h0m13-2h0m-9 11h0m4-4h0m4-3h0m-118 10h0m0 11h0m16-10h0m5-2h0m-3 3h0m-12 13h0m-6 7h0m1 3h0m2-1h0m3 3h0m11-12h0m-3 7h0m9 5h0m11-23h0m10-6h0m1 5h0m-9 15h0m-8 5h0m19-2h0m2-1h0m-8 7h0m2-1h0m-1 2h0m-49 11h0m29-5h0m0 6h0m-14 8h0m15 13h0m11-28h0m14 2h0m3 0h0m-6 4h0m-11 17h0m11-6h0m7 11h0m11-59h0m-3 6h0m-1 1h0m2-3h0m8 7h0m6-15h0m-2 8h0m-9 13h0m2 0h0m11-3h0m-3 2h0m2 6h0m8 0h0m1-2h0m6-18h0m3 0h0m-4 2h0m8 5h0m17-10h0m-8 7h0m7 0h0m-25 9h0m4 0h0m11-3h0m-4 7h0m-11 6h0m11 0h0m8-7h0m-2 2h0m1 3h0m4 2h0m6-5h0m-55 15h0m10-2h0m-4 6h0m2-2h0m1 5h0m11-11h0m2 4h0m4-3h0m-12 10h0m8-4h0m-21 6h0m8 1h0m-8 12h0m7 2h0m5-8h0m7 7h0m13-26h0m1 3h0m7-5h0m-4 2h0m4 9h0m5-11h0m3 0h0m1 6h0m-1 3h0m-20 5h0m-2 7h0m1 7h0m22-12h0m1 4h0m11-191h0m2 6h0m3 44h0m-2 8h0m-5 11h0m16-10h0m-14 35h0m10 2h0m-7 1h0m14-6h0m-2 27h0m-16 6h0m-2 4h0m1 2h0m14 6h0m4-14h0m-13 19h0m1 5h0m8 14h0m-12 6h0m22-1h0m-16 16h0m7 0h0m26 12h0m-263 23h0m9 0h0m-2 10h0m6-7h0m-19 16h0m-14 28h0m5-12h0m0 2h0m-1 4h0m7 1h0m-13 9h0m2 0h0m12-1h0m-9 10h0m5 4h0m-15 13h0m11-12h0m4 9h0m-1 7h0m-3 5h0m3-1h0m-5 9h0m4 0h0m8-4h0m-5 3h0m1 1h0m-2 17h0m4-3h0m-3 1h0m3 2h0m124-103h0m39-23h0m-8 12h0m-11 6h0m12 7h0m5 4h0m12-25h0m6 5h0m-5 3h0m3 1h0m6-6h0m3 3h0m5 3h0m-24 13h0m4 1h0m7 4h0m5-15h0m5 1h0m2 0h0m4 1h0m-5 5h0m13-20h0m4-3h0m12 5h0m1 4h0m-20 9h0m12-2h0m12 5h0m-53 13h0m36-1h0m2 1h0m-3 12h0m15-9h0m1-4h0m6 0h0m-2 2h0m-9 5h0m6 4h0m0 2h0m-22 5h0m7 8h0m5 2h0m11-12h0m5 2h0m-237 92h0m-2 5h0m4 5h0m242-153h0m-5 9h0m9 4h0m-2 6h0m47 7h0m-53 16h0m13 5h0m5-15h0m0 4h0m-20 15h0m13 4h0m2-1h0m12 6h0m17-24h0m-7 19h0m1 1h0m-3 5h0m7-2h0m3 1h0m11-6h0m-4 3h0m15-27h0m9 26h0m0 4h0m50 3h0m-76 3h0m19-1h0m6 1h0m14 2h0m9-2h0m9 3h0m-1 2h0m5 3h0m1-10h0m2 6h0m8-4h0m-1 6h0m-1 47h0m-5 3h0m9-2h0m1 1h0m4-54h0m4 4h0m6 1h0m-10 51h0m16 4h0m-84 14h0m1 0h0m-16 9h0m-12 4h0m17-9h0m-1 4h0m8 2h0m29-18h0m3-5h0m-6 10h0m-20 8h0m6 0h0m32-14h0m1 0h0m13-4h0m27 0h0m6 2h0m-4 5h0"/><path d="M0 0m109 107h0m4 9h0m66-99h0m-12 12h0m9 0h0m5 10h0m-17 8h0m-3 1h0m8 6h0m5 1h0m22-46h0m0 27h0m1 6h0m-10 11h0m28-13h0m-1 5h0m11-18h0m-7 25h0m11-2h0m-4 3h0m-80 4h0m4 3h0m-1 23h0m3 4h0m6-30h0m9 4h0m10-2h0m7 1h0m-25 17h0m3 0h0m5 4h0m0 1h0m6-10h0m2 12h0m3-4h0m-49 8h0m6 3h0m-6 4h0m12-6h0m11-1h0m0 5h0m-12 5h0m-5 9h0m-9 7h0m20-4h0m1 4h0m2-2h0m4-22h0m5 4h0m11-1h0m12-2h0m-7 7h0m-7 7h0m-1 3h0m-7 4h0m1 6h0m24-14h0m-1 4h0m-8 6h0m-3 4h0m6-2h0m1 0h0m4 1h0m14-59h0m-4 7h0m5 0h0m7-9h0m-3 7h0m3-2h0m-2 6h0m5 0h0m1-2h0m1 0h0m3 3h0m-15 13h0m-3 5h0m8-13h0m-2 2h0m9 12h0m10-28h0m6 3h0m10 14h0m-47 12h0m5 7h0m-9 6h0m20-7h0m4-1h0m6-1h0m-1 3h0m-8 8h0m6-4h0m1 2h0m-14 17h0m14-12h0m-7 13h0m17-24h0m5 6h0m5-8h0m6 0h0m-5 5h0m-11 11h0m7-4h0m-1 3h0m-7 7h0m14-11h0m7 12h0m-148 14h0m-1 5h0m-4 2h0m5 11h0m13 0h0m6-4h0m-38 12h0m1 11h0m10-7h0m-1 4h0m1 15h0m-6 3h0m15-26h0m7 2h0m-14 2h0m19-6h0m-1 4h0m6 5h0m2-1h0m-1 5h0m-11 8h0m-10 3h0m7 0h0m17-8h0m1 9h0m-64 32h0m0 13h0m-20 11h0m6 9h0m1-11h0m2 0h0m-2 11h0m28-57h0m3 0h0m-6 6h0m10-3h0m2 2h0m-2 6h0m-19 4h0m11-1h0m19 1h0m-3 3h0m-7 8h0m25-27h0m2 14h0m-6 15h0m-37 2h0m5 3h0m53 7h0m12-107h0m-1 6h0m1 1h0m11-4h0m-1 8h0m3 2h0m3-3h0m-21 13h0m20-7h0m-1 11h0m22-16h0m14-3h0m1 3h0m-29 9h0m4 6h0m1 2h0m11-11h0m11 1h0m-1 2h0m1 4h0m3 7h0m-48 10h0m-5 3h0m7-12h0m0 9h0m14 2h0m-4 3h0m-22 14h0m13-8h0m2 0h0m5 6h0m7 0h0m2-26h0m18 5h0m3 2h0m5 8h0m-25 3h0m13-2h0m-1 2h0m-8 6h0m6 1h0m8-6h0m-1 3h0m-1 6h0m28-57h0m-7 10h0m-2 2h0m7-6h0m2 2h0m9-9h0m-5 2h0m2 1h0m8-2h0m-4 2h0m-5 6h0m7 0h0m-22 5h0m3 6h0m7-2h0m-8 6h0m11-4h0m3 1h0m6-5h0m4-1h0m-14 10h0m9 0h0m18-21h0m-10 4h0m16 5h0m-17 7h0m7 9h0m6 0h0m9-5h0m-45 16h0m6 4h0m3-12h0m9 1h0m-9 7h0m4 1h0m-21 12h0m14 2h0m7-5h0m-1 3h0m6 0h0m-5 8h0m17-16h0m22-13h0m-12 6h0m13 7h0m-28 6h0m1 2h0m8-6h0m16 8h0m-110 7h0m-2 8h0m4 1h0m1-2h0m-8 14h0m1 0h0m1 10h0m23-30h0m7 9h0m1 2h0m13-6h0m3 1h0m0 6h0m5 1h0m-19 4h0m3 2h0m-7 5h0m13-8h0m9 10h0m-51 16h0m2-3h0m12-2h0m0 1h0m-19 13h0m9 4h0m7-2h0m6 4h0m17-17h0m8-4h0m-19 11h0m15 1h0m14-1h0m-2 2h0m-11 10h0m8 3h0m16-62h0m3 3h0m-11 11h0m25-15h0m-10 9h0m3 2h0m9-1h0m-24 6h0m0 3h0m13 4h0m4 1h0m3 1h0m14-25h0m1 1h0m6-1h0m-11 8h0m1 7h0m8 0h0m8-4h0m2 4h0m-10 6h0m-4 3h0m0 3h0m-2 4h0m16-15h0m0 3h0m9-1h0m-12 8h0m7 3h0m-55 3h0m-1 11h0m3-1h0m18-9h0m-2 2h0m5 7h0m4 3h0m0 1h0m-26 3h0m8 1h0m-2 3h0m1 2h0m6-6h0m3 6h0m3-3h0m7-4h0m5-15h0m1 0h0m-3 1h0m3 2h0m6-3h0m3 6h0m0 1h0m0 4h0m7-2h0m4-2h0m-7 7h0m-4 4h0m-2 3h0m-5 7h0m8-4h0m0 1h0m0 5h0m16-15h0m-9 13h0m26-182h0m-7 39h0m0 23h0m14 33h0m-21 20h0m1 1h0m5 1h0m-5 5h0m1-1h0m-1 15h0m3 0h0m-3 5h0m0 3h0m4 0h0m6 6h0m-3 3h0m1 8h0m-8 11h0m10 4h0m0 4h0m8-3h0m20 3h0m-266 28h0m16-16h0m-10 7h0m8-1h0m-10 7h0m10-4h0m-15 17h0m2-1h0m-6 16h0m7 0h0m0 1h0m-12 9h0m-3 2h0m8-4h0m10-21h0m-8 29h0m-5 9h0m-2 4h0m6 5h0m-4 9h0m-4 4h0m10-5h0m-1 1h0m-1 6h0m-1 4h0m-5 6h0m1-1h0m4-1h0m4 6h0m-5 4h0m-2 2h0m1 3h0m3 2h0m134-120h0m20 8h0m4-2h0m-5 7h0m-13 6h0m4 4h0m16-5h0m2 1h0m-3 2h0m0 3h0m2 0h0m11-24h0m-3 3h0m15-4h0m11 2h0m3-1h0m-10 11h0m9 0h0m-2 2h0m0 2h0m1 6h0m3-15h0m4 1h0m6 6h0m16-13h0m2 6h0m-25 11h0m9-1h0m3 1h0m-2 5h0m9 3h0m-5 1h0m7-3h0m3 6h0m-46 16h0m11-10h0m7 2h0m-3 2h0m34-4h0m-13 6h0m0 3h0m5-1h0m-22 6h0m31 3h0m-240 85h0m10 1h0m-2 9h0m0 1h0m4 3h0m242-147h0m-9 6h0m9-3h0m4 6h0m-10 3h0m1 5h0m12-1h0m18-21h0m-6 10h0m17-5h0m13 2h0m-15 20h0m0 2h0m-44 2h0m3 10h0m7-1h0m-1 2h0m-2 1h0m2 3h0m16-9h0m-4 4h0m-9 17h0m3-6h0m7 8h0m22-10h0m-8 8h0m8-3h0m-4 4h0m-1 2h0m5-2h0m11 3h0m15-20h0m-7 19h0m11-3h0m9-5h0m1 8h0m32 1h0m-75 2h0m24 1h0m15-2h0m3 1h0m14 5h0m3 7h0m3-1h0m13-12h0m5 2h0m2 3h0m-13 4h0m7 2h0m6 4h0m-40 48h0m8-1h0m4-2h0m-2 2h0m6 1h0m9-3h0m9-10h0m1 4h0m-5 6h0m7-2h0m7-62h0m16 8h0m6 3h0m-6 6h0m2 0h0m-11 38h0m-2 7h0m20-9h0m-92 31h0m-10 10h0m23-20h0m-5 5h0m16-4h0m8-6h0m-7 4h0m-15 15h0m35-8h0m5-10h0m18 2h0m2 0h0m17-3h0"/><path d="M0 0m117 93h0m0 18h0m44-73h0m-8 6h0m14 2h0m13 0h0m24-44h0m2 1h0m-22 11h0m15 18h0m-6 6h0m12-14h0m2 4h0m-4 10h0m3 1h0m-14 12h0m7 2h0m1-10h0m5-3h0m0 15h0m1-1h0m6-6h0m6-21h0m24 27h0m-96 18h0m0 6h0m3 5h0m6-23h0m12 6h0m6-1h0m5 3h0m-24 10h0m-1 4h0m20-6h0m-4 6h0m14 4h0m-59 4h0m9 4h0m-7 2h0m21-3h0m-5 4h0m-5 3h0m-12 11h0m7-2h0m8-1h0m0 1h0m2 0h0m5 0h0m-1 4h0m2 3h0m15-26h0m-9 9h0m10-1h0m9-9h0m2 9h0m2 0h0m-1 4h0m-20 2h0m3 0h0m-1 7h0m2-2h0m-6 7h0m28-8h0m-8 8h0m8-4h0m0 1h0m-3 4h0m6-56h0m11 1h0m1 0h0m1 0h0m-4 8h0m17-11h0m-4 8h0m0 1h0m-20 9h0m-3 1h0m13 1h0m-8 1h0m5 0h0m-2 3h0m1 0h0m18-6h0m-7 6h0m2-1h0m-4 5h0m9-2h0m12-26h0m-5 14h0m5 6h0m-4 3h0m2 4h0m-32 2h0m2 0h0m16 15h0m-22 1h0m4 0h0m-1 2h0m2 9h0m1 0h0m15-11h0m2 1h0m4 0h0m-10 9h0m5-1h0m9-17h0m17-4h0m13 14h0m-10 6h0m2 5h0m-141 12h0m8-6h0m3 1h0m-2 9h0m12-1h0m-18 5h0m2 0h0m-3 14h0m7-14h0m8 6h0m2 1h0m-2 4h0m-34 17h0m-1 9h0m1-5h0m1 7h0m4 1h0m10-19h0m7 4h0m1 3h0m1-10h0m9-1h0m5 4h0m-10 5h0m-17 10h0m20 2h0m-4 4h0m-52 25h0m-5 8h0m2 10h0m-7 7h0m7-4h0m-3 3h0m-14 14h0m5-6h0m6 1h0m5 5h0m14-56h0m-3 6h0m4 1h0m5 4h0m2-11h0m3-1h0m-11 17h0m40-14h0m5 8h0m-6 6h0m2 4h0m13-5h0m-58 16h0m-4 5h0m13-2h0m-13 14h0m53-14h0m9 15h0m14-107h0m5 5h0m11-3h0m-2 3h0m-12 4h0m1 2h0m4-1h0m8-2h0m1 2h0m-2 2h0m15-20h0m0 3h0m-3 6h0m2-1h0m2 3h0m3 3h0m17-8h0m-8 2h0m3 2h0m3-2h0m1 4h0m-28 5h0m5 3h0m4-3h0m-2 6h0m0 8h0m-31 2h0m5 4h0m-1 5h0m4-7h0m10 6h0m-28 13h0m7 0h0m3 3h0m9-9h0m-3 11h0m20-23h0m6 6h0m18-8h0m-1 2h0m-19 20h0m17-7h0m6 6h0m-11 4h0m-4 3h0m14 1h0m6-56h0m4 0h0m10-2h0m10 1h0m-10 3h0m-15 8h0m4 1h0m6 6h0m2 0h0m8 1h0m-5 3h0m8 2h0m6-29h0m1 1h0m0 1h0m10-3h0m6 7h0m-11 12h0m0 3h0m7-1h0m-41 11h0m11 1h0m-11 8h0m16-4h0m11-4h0m-14 13h0m3 1h0m11-5h0m-7 3h0m4-1h0m3 3h0m-20 13h0m15-11h0m16-13h0m3 2h0m-4 5h0m12-8h0m1 0h0m8 10h0m-28 4h0m0 6h0m12-6h0m0 1h0m2 5h0m8-4h0m-7 6h0m-107 26h0m25 0h0m15-17h0m1 4h0m-15 4h0m3 2h0m0 2h0m8-5h0m4 0h0m2 0h0m3 0h0m11-1h0m-31 10h0m6 3h0m3-3h0m3 4h0m0 2h0m-3 4h0m-34 9h0m-2 4h0m21-8h0m4 5h0m-10 6h0m-18 6h0m2 2h0m24-1h0m14-15h0m-6 17h0m-1 10h0m6-6h0m2 0h0m10 1h0m22-48h0m2-1h0m4-4h0m1 2h0m3-3h0m6 7h0m-22 7h0m9 4h0m-8 3h0m15-7h0m-5 4h0m11-3h0m1 7h0m4-25h0m0 1h0m6 2h0m7 1h0m-10 8h0m17-13h0m-2 10h0m-2 5h0m-4 6h0m-5 4h0m-3 5h0m11-1h0m7-13h0m7 2h0m-12 12h0m-36 8h0m-3 5h0m9-1h0m1 3h0m-20 13h0m11-2h0m-1 7h0m7-13h0m3 0h0m-2 13h0m13 0h0m1-29h0m4 3h0m6 2h0m-10 3h0m2 0h0m3-2h0m0 2h0m9 0h0m4-8h0m13 0h0m-13 6h0m1 6h0m5-2h0m6 0h0m1 3h0m-30 2h0m1 2h0m-2 9h0m7 2h0m7-6h0m4-1h0m7-4h0m4-3h0m-10 12h0m12 2h0m10-183h0m3 85h0m6-10h0m-10 29h0m2 0h0m-10 11h0m6 0h0m1 10h0m4 2h0m-7 5h0m10 6h0m4 9h0m-18 12h0m11-5h0m2 9h0m3 2h0m-14 12h0m12 6h0m-243 33h0m12-27h0m3 2h0m5 3h0m-15 12h0m5 1h0m4-6h0m-9 13h0m-3 18h0m-14 9h0m3-7h0m-1 1h0m-1 8h0m20-20h0m-20 36h0m7-2h0m-3 4h0m3 0h0m3 2h0m-18 3h0m10 5h0m6 1h0m-3 2h0m-4 6h0m-6 3h0m4 4h0m7-1h0m3 14h0m111-113h0m17 6h0m0 5h0m-1 6h0m10-15h0m11-4h0m-2 9h0m10-8h0m-4 3h0m1 4h0m5 1h0m-5 6h0m13-6h0m-2 6h0m-27 3h0m1 5h0m21-6h0m-7 15h0m6 11h0m23-39h0m-13 7h0m23-9h0m3 2h0m2 1h0m-28 11h0m6 7h0m7-3h0m-11 10h0m19-8h0m3 1h0m-1 3h0m17-22h0m-4 10h0m5-6h0m13-4h0m1 3h0m-5 3h0m-2 2h0m13 0h0m-28 9h0m12 0h0m-4 9h0m10-12h0m2 1h0m2 0h0m7-2h0m-4 14h0m-45 6h0m2 1h0m22 7h0m21-12h0m2 8h0m-24 9h0m9-2h0m-8 8h0m20 0h0m5 2h0m-240 78h0m12-8h0m-7 14h0m5-6h0m-4 18h0m238-154h0m5 4h0m-6 5h0m5 6h0m24-12h0m-29 21h0m4 0h0m28 6h0m-28 2h0m7 7h0m-9 1h0m3 3h0m11 4h0m-18 2h0m2 4h0m1 0h0m10 1h0m2 1h0m-4 8h0m8-4h0m4 1h0m36-20h0m-21 13h0m0 10h0m2-6h0m19-3h0m-8 2h0m-1 4h0m3 2h0m18-2h0m-41 6h0m33-2h0m8 2h0m20 3h0m2 1h0m1 0h0m15 7h0m5-10h0m5-1h0m3 3h0m-17 55h0m10-4h0m12 1h0m5-60h0m8 8h0m2 2h0m-7 3h0m7 0h0m-8 44h0m5 2h0m-3 3h0m3-1h0m0 2h0m2 0h0m4-6h0m-1 2h0m4 1h0m-87 18h0m-14 5h0m7 3h0m6 0h0m5-12h0m13 0h0m-13 4h0m7-2h0m5 0h0m12-9h0m-9 11h0m2 0h0m16-8h0m4 4h0m2 2h0m15 8h0m13-11h0m19 3h0m-18 14h0"/></g><g stroke-opacity="0.19"><path d="M0 0m158 52h0m62-30h0m-22 6h0m7 9h0m6 0h0m-18 14h0m14 4h0m10-8h0m0 5h0m-67 8h0m0 20h0m5-17h0m5-3h0m6 1h0m6 10h0m-18 4h0m24 11h0m-44 12h0m6-1h0m-1 22h0m2-2h0m1 1h0m16-25h0m8-1h0m8 2h0m2-1h0m6 1h0m-6 3h0m0 2h0m2 4h0m-16 8h0m-3 8h0m12-10h0m-3 6h0m45-58h0m1 1h0m0 3h0m-4 16h0m4 2h0m-12 6h0m6-4h0m6-1h0m24-12h0m-16 4h0m8 12h0m-36 8h0m17 8h0m-17 4h0m8 8h0m-2 5h0m28-29h0m-118 34h0m-16 21h0m20 3h0m-30 12h0m2 5h0m-15 16h0m5 3h0m16-27h0m9 20h0m13-4h0m-6 5h0m-56 29h0m-4 3h0m6 2h0m10-3h0m-6 5h0m36-11h0m11 4h0m18-80h0m9-5h0m10 0h0m0 2h0m-10 19h0m0 1h0m8 7h0m18-27h0m0 6h0m12-2h0m9 1h0m-25 16h0m11-2h0m-9 3h0m14-6h0m-35 17h0m-6 25h0m11 0h0m14-14h0m1 0h0m0 1h0m1 0h0m11-6h0m13-3h0m-28 18h0m16-5h0m6 9h0m22-49h0m-4 4h0m8-4h0m0 3h0m-14 17h0m21-5h0m15-23h0m0 8h0m12-6h0m4-1h0m5-4h0m-5 13h0m-4 18h0m-43 7h0m12-3h0m-18 15h0m-1 13h0m9-4h0m4-2h0m27-15h0m11-5h0m-7 23h0m10 1h0m2-3h0m0 5h0m-108 2h0m-6 27h0m28-28h0m2 4h0m15 3h0m8-3h0m-8 17h0m4 9h0m-47 15h0m11-11h0m1 17h0m10-3h0m11-7h0m-8 7h0m14 9h0m4 2h0m13-54h0m4 8h0m9-5h0m-4 5h0m3 0h0m8 0h0m-4 4h0m5 0h0m7 4h0m7-15h0m6-2h0m-1 4h0m3 3h0m9-11h0m6 0h0m3 10h0m-26 6h0m8 7h0m10-3h0m-37 19h0m12-4h0m1 2h0m-18 22h0m-1 2h0m14-9h0m4 2h0m1 8h0m12-15h0m0 1h0m1 11h0m13-7h0m9-208h0m23 83h0m-10 29h0m-10 11h0m6 3h0m-9 28h0m30-11h0m-29 38h0m14 16h0m-13 10h0m16 12h0m-243 22h0m-7 10h0m17-30h0m4 4h0m-4 6h0m-8 7h0m4-1h0m0 9h0m6 0h0m-17 12h0m-5 8h0m-8 13h0m6-6h0m9 25h0m-15 26h0m0 15h0m151-119h0m27 23h0m-8 7h0m27-18h0m0 12h0m23-13h0m16-4h0m-8 1h0m1 5h0m-18 5h0m13 6h0m14-2h0m0 7h0m-32 8h0m4-1h0m-11 7h0m9 6h0m12 10h0m13-6h0m-6 4h0m-219 93h0m8-1h0m228-148h0m8 28h0m21-1h0m16-23h0m-39 28h0m7 3h0m-2 8h0m-7 11h0m11-4h0m15 9h0m14-27h0m-9 29h0m21-4h0m9 5h0m11-2h0m-43 3h0m37 6h0m7 4h0m26-9h0m-17 59h0m23 0h0m23-60h0m12 6h0m8 2h0m-21 51h0m-76 23h0m8-9h0m34-4h0m3 5h0m12-10h0m1 1h0m41 9h0"/><path d="M0 0m111 113h0m60-75h0m-18 12h0m-1 1h0m6 0h0m24-8h0m-12 9h0m10-2h0m8-41h0m0 27h0m11-3h0m-12 7h0m21 8h0m9-11h0m11-1h0m-1 8h0m-90 25h0m4 13h0m41-23h0m-5 8h0m-12 6h0m-5 13h0m1 1h0m-25 8h0m-16 16h0m8-3h0m8 8h0m9-3h0m5-1h0m-5 7h0m9-17h0m24-1h0m-12 4h0m3 5h0m44-49h0m1 17h0m8-17h0m3 7h0m13-9h0m-8 24h0m-36 17h0m8-9h0m0 6h0m-12 14h0m28-21h0m4 10h0m12-5h0m3 3h0m-20 11h0m12-3h0m-13 12h0m-118 8h0m-3 7h0m11-7h0m-17 10h0m4 10h0m-8 19h0m-13 12h0m32-21h0m-13 20h0m3 6h0m7-3h0m-66 53h0m-1 4h0m39-52h0m2 3h0m2 3h0m-5 5h0m6-2h0m-6 12h0m1 7h0m28-26h0m8 2h0m-53 48h0m72-115h0m1 5h0m-4 5h0m18-11h0m-3 9h0m4 10h0m3 7h0m11-19h0m0 8h0m20-6h0m-25 17h0m22-3h0m-33 15h0m2 12h0m8-15h0m10 1h0m-6 5h0m5 6h0m12-15h0m9 1h0m-27 15h0m9 2h0m-12 11h0m23-13h0m0 3h0m3 3h0m22-39h0m9-7h0m-1 4h0m-24 14h0m18-7h0m12 1h0m-2 4h0m16 0h0m10-1h0m-45 13h0m4 3h0m9-6h0m-4 14h0m2 0h0m5-4h0m-20 16h0m24-11h0m-6 12h0m14-26h0m5 9h0m7-11h0m-14 23h0m9-6h0m-3 4h0m11 1h0m2 8h0m-108 15h0m20-6h0m-3 21h0m15-23h0m3 5h0m7 3h0m-13 3h0m5 1h0m-11 14h0m9-5h0m19 1h0m-40 19h0m8 6h0m7-14h0m5-5h0m-6 14h0m18-11h0m5 11h0m-22 7h0m20-5h0m-2 10h0m23-46h0m15-9h0m2 0h0m-26 27h0m7-6h0m2 4h0m3-8h0m1 0h0m10-4h0m-10 10h0m0 1h0m22-13h0m16-8h0m-20 19h0m-30 7h0m10 8h0m-14 14h0m6 1h0m0 1h0m6 6h0m18-10h0m-3 1h0m12-17h0m21 10h0m-20 9h0m14-7h0m2 2h0m1 11h0m11-70h0m0 16h0m11 14h0m-14 25h0m-207 17h0m0 2h0m-2 5h0m-10 20h0m-11 14h0m-10 47h0m2 11h0m1 11h0m141-97h0m15-1h0m3 17h0m20-22h0m11-5h0m11 0h0m-20 23h0m26-21h0m3 0h0m7-1h0m14 3h0m2 5h0m0 4h0m-26 3h0m-2 11h0m2 1h0m11-1h0m10-11h0m-34 27h0m12-9h0m7-2h0m12 5h0m-7 12h0m-219 79h0m7 5h0m235-121h0m-5 15h0m22-13h0m-22 20h0m11 14h0m-11 6h0m1 2h0m5 2h0m39-25h0m9 27h0m3-3h0m6-6h0m29 8h0m-45 5h0m12 3h0m30-1h0m29 0h0m3 2h0m-15 50h0m11-4h0m12-39h0m5 0h0m17-9h0m-19 13h0m3 39h0m11-6h0m5 0h0m-122 38h0m22-11h0m21-8h0m19-4h0m-25 24h0m38-23h0m1 2h0m40-4h0"/></g><g stroke-opacity="0.34"><path d="M0 0m155 41h0m34-22h0m50 35h0m-78 10h0m12-7h0m-7 27h0m15-4h0m-39 15h0m-6 18h0m18-12h0m5 4h0m3 5h0m19-5h0m2 4h0m13-38h0m27 2h0m-39 40h0m25-7h0m7-13h0m1 5h0m20-9h0m-129 34h0m10 3h0m-15 13h0m-21 23h0m7-4h0m12 0h0m16 1h0m-17 20h0m-50 36h0m15-4h0m54-10h0m8-74h0m18-5h0m-4 7h0m-1 14h0m19-17h0m-7 13h0m16 2h0m3 3h0m-24 22h0m1 1h0m-9 7h0m35-16h0m5 8h0m8-33h0m8 49h0m7 0h0m-62 7h0m33 6h0m9-2h0m-13 16h0m2 17h0m21-40h0m12 6h0m-19 10h0m28 9h0m5-17h0m17 7h0m1 7h0m-45 10h0m6 3h0m5 1h0m-9 24h0m25-2h0m20-4h0m30-70h0m-19 29h0m-230 141h0m-3 33h0m116-118h0m42 14h0m7 6h0m-9 14h0m14-26h0m37 9h0m12-1h0m10 1h0m-1 30h0m17-45h0m-6 24h0m22 25h0m7-3h0m31-21h0m46 25h0m5-1h0m-74 9h0m83 50h0m15-43h0m0 44h0m10 0h0m-97 22h0m23-6h0m-8 2h0m22 4h0"/><path d="M0 0m170 47h0m6-3h0m6 7h0m-35 9h0m9 2h0m-22 41h0m15-15h0m22 8h0m-3 19h0m44-55h0m-25 25h0m8-1h0m29-11h0m-37 27h0m25-12h0m-17 20h0m1 0h0m9 11h0m14-28h0m16 12h0m2-2h0m-20 12h0m1 6h0m-119 28h0m-1 1h0m10-10h0m-16 22h0m16-6h0m0 13h0m-6 8h0m-3 21h0m47-76h0m-18 23h0m42-8h0m-31 19h0m-4 19h0m16-3h0m-7 11h0m31-8h0m13-40h0m23 10h0m9-10h0m6 9h0m-21 20h0m-22 36h0m-24 11h0m-5 4h0m-30 14h0m15-10h0m6 25h0m29-23h0m41-26h0m-7 17h0m8-16h0m23 3h0m-32 19h0m3 13h0m-24 7h0m7 3h0m43-23h0m9 1h0m-10 11h0m-11 7h0m20 10h0m8-106h0m30 5h0m-33 79h0m54 21h0m-284 41h0m-11 23h0m13 2h0m-8 56h0m181-116h0m-8 13h0m13-3h0m3 7h0m28-14h0m-4 3h0m7-4h0m2 5h0m0 2h0m-23 45h0m33-23h0m-2 27h0m50-54h0m-22 27h0m-7 23h0m71 17h0m34 51h0m13-6h0m7 0h0m-13 3h0m18-3h0m-60 16h0"/></g><g stroke-opacity="0.52"><path d="M0 0m172 58h0m-6 24h0m23-24h0m-2 5h0m20 2h0m0 11h0m-12 16h0m-102 59h0m-53 82h0m16-34h0m74-74h0m-8 7h0m51 18h0m31 13h0m-7 20h0m-39 25h0m-19 9h0m44 6h0m17-32h0m-9 19h0m45-15h0m-50 26h0m27 11h0m31-6h0m6-19h0m-211 51h0m-25 70h0m187-53h0m10 26h0m44-25h0m0 5h0m79 27h0m-15 9h0m35-3h0m-2 8h0m-11 60h0"/><path d="M0 0m115 109h0m48-44h0m18-2h0m-47 32h0m-13 19h0m38-21h0m21 3h0m-3 16h0m39-43h0m-6 24h0m2 0h0m22 5h0m-129 42h0m9 0h0m-45 41h0m31-1h0m-52 56h0m81-84h0m81-4h0m6-14h0m-27 46h0m-22 58h0m34-50h0m23 46h0m38-113h0m-12 16h0m20 108h0m-251 109h0m110-98h0m39-5h0m59-3h0m9 57h0m14-41h0m92 51h0m30 13h0"/></g></g>
<path d="M306.1 639.9L306.1 623.4 307.4 614.7 310 606 313.4 599.1 317.8 593 323 590.8 325.6 588.7 334 586.5 336.9 588.7 342.1 588.2 347.3 588.2 350 589.5 354.3 591.3 358.7 590.4 367.4 591.3 376 591.7 384.7 591.7 393.4 592.1 402.1 593 410.7 593.9 415 593.9 423.7 594.8 432.4 595.2 441 596.1 449.7 598.2 454 600 457.1 601.7 454.9 604.7 449.7 607.8 441 612.1 432.4 615.6 423.7 618.6 415 621.6 409 625.6 409 639.9Z" fill="#fff" fill-rule="evenodd"/>
<path d="M306.1 639.9L306.1 623.4 307.4 614.7 310 606 313.4 599.1 317.8 593 323 590.8 325.6 588.7 334 586.5 336.9 588.7 342.1 588.2 347.3 588.2 350 589.5 354.3 591.3 358.7 590.4 367.4 591.3 376 591.7 384.7 591.7 393.4 592.1 402.1 593 410.7 593.9 415 593.9 423.7 594.8 432.4 595.2 441 596.1 449.7 598.2 454 600 457.1 601.7 454.9 604.7 449.7 607.8 441 612.1 432.4 615.6 423.7 618.6 415 621.6 409 625.6 409 639.9Z" fill="#cccccc" fill-rule="evenodd" stroke="#000" stroke-width="4" stroke-linejoin="round" paint-order="stroke"/>
<path d="M313.9 639.9L314.3 623.4 316 616.4 318.6 611.2 323 608.2 328.2 606.5 333.4 604.3 338.6 603 345.5 602.1 350 602.1 358.7 600.8 367.4 600.4 376 599.3 384.7 598.7 393.4 598.9 402.1 600 410.7 600.8 419.4 602.1 424.6 603.9 427.7 606 426.4 609.1 422.9 612.1 417.7 615.1 410.7 618.6 403.8 622.1 396.9 625.1 392.1 626.9 392.1 639.9Z" fill="#999999" fill-rule="evenodd" stroke="#000" stroke-width="2" stroke-linejoin="round"/>
<path d="M327.3 639.9L326.9 621.6 330.8 617.3 335.1 614.7 338.6 614.3 343.8 611.2 350 609.5 358.7 607.8 367.4 606.5 376 605.6 384.7 605.2 393.4 605.2 400.3 606 405.5 607.8 408.6 609.9 407.3 613 403.8 615.6 398.6 618.2 391.6 620.8 384.7 622.5 376 623.4 367.4 623.8 358.7 624.7 352.6 625.1 350 626.9 349.9 627.3 349.9 639.9Z" fill="#666666" fill-rule="evenodd" stroke="#000" stroke-width="2" stroke-linejoin="round"/>
<path d="M352.2 617.6L353.5 616.4 356.1 616 358.7 616.4 360 617.6 358.7 618.8 356.1 619.2 353.5 618.8ZM364.3 617.7L367.4 614.7 371.7 613 376 612.1 379.5 609.9 384.7 608.6 389.9 608.2 395.1 609.9 396.9 613.4 395.1 615.6 390.8 617.7 384.7 619 377.8 619 371.7 618.6 367.4 618.6Z" fill="#000000" fill-rule="evenodd" stroke="#000" stroke-width="0.5" stroke-linejoin="round"/>
<path d="M329 428.5V628.5M292.5 583H492.5" stroke="#4682b4" stroke-width="2" fill="none"/>
<rect x="325" y="579" width="9" height="9" fill="#4682b4"/>
</g>
<g clip-path="url(#cp30)">
<g fill="#000" fill-rule="evenodd" filter="url(#bl)"><path d="M288.5 844.5L107 844.5 103 844.5 101.4 844.5 98 844.5 96.3 844 96.5 839 101.5 812 107.7 785 114.7 761 130 728.9 163.6 641 166.6 634 169 632.5 193 632.5 195 632.5 213 632.5 288.5 632.5 288.5 634 288.5 842 288.5 844Z" fill-opacity="0.055"/><path d="M288.5 844.5L109 844.5 104 844.5 99 844.5 96.8 844 96.8 841 102.2 812 108.6 785 115.4 762 132.5 726 162 650.9 167.6 634 169.1 632.5 196 632.5 214 632.5 288.5 632.5 288.5 634 288.5 841 288.5 844Z" fill-opacity="0.058"/><path d="M288.5 844.5L110 844.5 100 844.5 97.3 844 97.3 841 102.7 813 109.2 786 116.2 763 132.3 730 139.4 713 147 692.8 164.6 650 168.9 634 170 632.5 172 632.5 185 632.5 194 632.5 215 632.5 288.5 632.5 288.5 635 288.5 841 288.5 844Z" fill-opacity="0.073"/><path d="M288.5 844.5L110 844.5 102 844.5 99.5 844.5 98 844 98 841 103.5 813 110 787 117.6 763 133.6 731 141 714 149.2 693 167.4 650 171.1 635 172.8 633 194 632.5 216 632.5 288.5 632.5 288.5 841 288.5 844.5Z" fill-opacity="0.091"/><path d="M288.5 844.5L111 844.5 102 844.5 98.8 844 98.7 841 104.4 813 111.3 787 118.9 764 140.3 721 170.4 651 174 638 176 635.4 182.7 633 193 632.5 209 632.5 215 632.5 288.5 632.5 288.5 842 288.5 844.5Z" fill-opacity="0.113"/><path d="M288.5 844.5L111 844.5 102 844.5 99.6 844 99.5 841 105.5 813 112.5 788 120.8 764 142 722.9 173.6 652 177.7 640 179.8 638 187.3 633 194 632.5 208 632.5 216 632.5 288.5 632.5 288.5 842 288.5 844.5Z" fill-opacity="0.135"/><path d="M288.5 844.5L112 844.5 103 844.5 100.5 844 100.4 841 106.6 813 113.6 789 122.3 765 132 746 142.5 727 176.4 654 180.8 643 188.5 634 191 632.5 194.3 632.5 208 632.5 217 632.5 288.5 632.5 288.5 842 288.5 844.5Z" fill-opacity="0.157"/><path d="M288.5 844.5L112 844.5 103.1 844.5 101.3 844 101.3 841 107.7 813 115 789.3 123.3 767 133.5 747 144.5 728 184.2 645 189.7 635 192.3 632.5 196 632.5 217 632.5 288.5 632.5 288.5 842 288.5 844.5Z" fill-opacity="0.186"/><path d="M288.5 844.5L113 844.5 104.4 844.5 102.2 844 102 841.8 108.5 814 116 790.7 124.8 768 135 748.1 147 728 186.2 649 192 634 193.9 632.5 218 632.5 288.5 632.5 288.5 842 288.5 844.5Z" fill-opacity="0.228"/><path d="M288.5 844.5L113 844.5 105.8 844.5 103.4 844 103 843.2 110 813.4 118 790.2 126.2 770 137 749.3 148.3 731 160.3 708 189.2 650 194.1 635 195.3 633 217 632.5 288.5 632.5 288.5 842 288.5 844.3Z" fill-opacity="0.279"/><path d="M288.5 844.5L112 844.5 107.2 844.5 105 844 104.4 843 111.1 815 119 793.6 129 770.6 140 750.2 151.4 732 162.7 711 192.6 651 197.8 637 199 635.5 201.8 634 212.3 632.5 217 632.5 288.5 632.5 288.5 842 288.5 844Z" fill-opacity="0.341"/><path d="M288.5 844.5L112 844.5 108.8 844.5 106.5 844 105.9 843 113 815 121 794.8 132 771.3 143 751.6 157.7 728 165.8 713 176 691.4 196.2 652 201.5 640 207.8 634 210.9 632.5 214 632.5 226 632.5 288.5 632.5 288.5 841 288.5 844Z" fill-opacity="0.448"/><path d="M288.5 844.1L288.5 844.5 288 844.5 115 844.5 109 844.2 107.7 843 114.4 817 127 788.4 139 766 148.3 750 161.2 730 169 716 179 694.3 190.7 671 207.2 640 210.8 634 212.8 632.5 217 632.5 227 632.5 288.5 632.5Z" fill-opacity="0.688"/></g>
<g transform="translate(82.5 638.5) scale(.5)" fill="none" stroke="#000" stroke-width="5.56" stroke-linecap="round"><g stroke-opacity="0.10"><path d="M0 0m84 13h0m2 2h0m10-1h0m-21 21h0m2 1h0m-1 1h0m-5 16h0m25-20h0m16-2h0m-10 13h0m5 6h0m-70 64h0m75-57h0m3 5h0m-10 4h0m12 0h0m-24 8h0m14 4h0m-46 31h0m-4 9h0m51-24h0m8 16h0m-3 4h0m-1 4h0m2 1h0m2-2h0m21-120h0m6 6h0m2 0h0m6-2h0m-11 7h0m3 3h0m0 2h0m4-5h0m-2 7h0m-5 1h0m17-18h0m8 1h0m-8 3h0m11-1h0m6 1h0m-4 4h0m7-4h0m-19 10h0m3-3h0m0 1h0m-1 12h0m10-11h0m3-3h0m4 0h0m2 6h0m4 0h0m-6 3h0m-53 18h0m13-5h0m3 4h0m3 1h0m-11 12h0m2 0h0m6-4h0m-4 4h0m4-1h0m4-1h0m-3 10h0m4-3h0m4 0h0m3-23h0m15 6h0m9-4h0m-8 6h0m4 2h0m-15 12h0m2 0h0m0 3h0m1-3h0m0 4h0m20-3h0m12-53h0m-1 1h0m10 7h0m7-4h0m-21 7h0m1 8h0m6 20h0m4 1h0m-8 9h0m-60 22h0m6-4h0m8 5h0m-15 5h0m2 11h0m7-12h0m5 1h0m1 0h0m-4 10h0m7 0h0m6-24h0m10-2h0m-9 5h0m17-7h0m0 4h0m-19 14h0m1 2h0m11 5h0m4-8h0m-46 16h0m-2 2h0m2 0h0m0 6h0m8-2h0m10-6h0m8-1h0m-2 4h0m0 8h0m-24 6h0m-2 3h0m23-7h0m8 5h0m1-10h0m16 2h0m-15 18h0m-112 27h0m7-2h0m-10 17h0m12 9h0m12-43h0m1 5h0m23-5h0m-11 4h0m-6 13h0m5-5h0m13 9h0m10-25h0m3-2h0m9 5h0m9-3h0m-8 5h0m-3 6h0m2 0h0m-9 8h0m2 0h0m3-3h0m6-2h0m2 2h0m3-3h0m-11 8h0m5 1h0m4 5h0m4-2h0m1 2h0m-38 2h0m2 0h0m2 11h0m-5 1h0m4 4h0m-4 15h0m13-29h0m3 12h0m21-12h0m-3 8h0m-23 16h0m3 4h0m7-2h0m6-11h0m2 2h0m-70 16h0m5 18h0m-9 37h0m3 4h0m4 0h0m22-60h0m9 3h0m8-1h0m-22 18h0m6 2h0m1 2h0m13-10h0m2 0h0m-1 6h0m14-10h0m3-1h0m10-9h0m4-1h0m-21 17h0m0 1h0m0 4h0m11-3h0m-11 6h0m5 0h0m-37 13h0m9-5h0m6 5h0m3-1h0m6-6h0m-4 13h0m5-2h0m3-2h0m-2 2h0m2 2h0m-25 4h0m10 1h0m-6 2h0m3 1h0m-9 8h0m4-1h0m-3 3h0m9-6h0m4-2h0m3 5h0m3 1h0m8-1h0m13-21h0m-6 2h0m2 14h0m30-114h0m0 2h0m4-4h0m-6 7h0m-4 3h0m12 2h0m11-1h0m-11 5h0m-5 5h0m-6 6h0m10 0h0m7 0h0m18-29h0m-27 31h0m3 3h0m-94 96h0m3 6h0m6 0h0m2-1h0m2 1h0m3-1h0m-2 14h0m-5 8h0m-26 7h0m-4 20h0m24-14h0m6 3h0m6-3h0m-13 12h0m11-5h0m-5 12h0m5-4h0m-2 3h0m10-54h0m9-7h0m-11 14h0m1 19h0m-35 48h0m13-4h0m10-10h0m6 6h0m-4 3h0m-19 5h0m1 1h0m8-2h0m-13 10h0m7-2h0m9-7h0m11 8h0m-23 7h0m-2 10h0m11 5h0m11-9h0m-23 15h0m12-2h0m-2 2h0m5 0h0m5 2h0m-4 3h0m17-55h0m-2 5h0m-36 73h0m1 10h0m9-24h0m3-1h0m-6 13h0m5-1h0m5 6h0m-13 6h0m11-2h0"/><path d="M0 0m64 5h0m19 0h0m-21 5h0m41-8h0m-40 27h0m4-2h0m11 23h0m2 5h0m11-31h0m26 12h0m-4 14h0m-24 12h0m18-1h0m11 2h0m-4 3h0m2 2h0m-14 14h0m-2 2h0m17-2h0m-61 36h0m40-29h0m14 3h0m-2 3h0m8-4h0m-10 11h0m13-2h0m-25 16h0m15-1h0m2 0h0m0 4h0m36-122h0m2 1h0m-2 9h0m-21 1h0m9 1h0m-5 5h0m-6 8h0m16-11h0m11 3h0m-3 5h0m6-14h0m5 2h0m6-1h0m17-10h0m-11 11h0m3 0h0m3-3h0m-1 3h0m-21 1h0m1 6h0m3 2h0m14-1h0m2 0h0m2-2h0m4 1h0m-45 10h0m2 0h0m2 2h0m8 1h0m2 5h0m0 5h0m-16 7h0m-9 4h0m-5 6h0m10-4h0m1 0h0m10-9h0m-4 4h0m7-3h0m-5 7h0m0 4h0m6-3h0m9-23h0m2-2h0m-1 7h0m1 0h0m11 7h0m6-15h0m-3 5h0m5 6h0m5 2h0m0 2h0m-28 15h0m18-8h0m15-46h0m3 3h0m11-1h0m-7 12h0m11-6h0m-3 3h0m-13 27h0m2-2h0m-64 22h0m5 9h0m7-9h0m7 1h0m0 4h0m-5 1h0m7 3h0m-2 2h0m-22 7h0m5 3h0m3 0h0m-3 2h0m9-2h0m9-6h0m2 0h0m-8 8h0m15-14h0m3-2h0m2-1h0m-7 22h0m12-3h0m-41 6h0m5 2h0m6 9h0m9-7h0m1 2h0m-2 1h0m1 3h0m-2 4h0m9-1h0m-28 5h0m13-2h0m-15 8h0m2 6h0m4-1h0m6 1h0m10-13h0m-6 5h0m7 0h0m6-1h0m-8 3h0m6 1h0m3 5h0m8-11h0m-129 18h0m13 0h0m3 11h0m4 20h0m21-36h0m1 21h0m-6 9h0m20-4h0m1 4h0m2-24h0m10-7h0m1 1h0m2 10h0m14-2h0m-21 22h0m17-10h0m1 5h0m-38 20h0m-9 15h0m9-6h0m-2 7h0m24-21h0m6-1h0m15-3h0m-3 8h0m4 0h0m-17 5h0m-3 10h0m11-7h0m0 1h0m-3 4h0m5 2h0m-59 13h0m-9 26h0m10 7h0m-22 6h0m-3 14h0m13-11h0m6-3h0m4 2h0m1 0h0m-8 6h0m24-51h0m-3 10h0m22-15h0m-2 4h0m-8 7h0m8 3h0m-21 6h0m13-1h0m8-1h0m-7 10h0m21-26h0m4 3h0m1 5h0m-8 11h0m0 2h0m-5 2h0m14-1h0m-41 9h0m2 4h0m21-4h0m-3 4h0m-19 13h0m4-2h0m-8 10h0m16-10h0m4 0h0m-8 10h0m9-1h0m22-21h0m30-97h0m-1 3h0m-12 9h0m19-10h0m7 6h0m-22 5h0m0 2h0m-5 10h0m15-2h0m-6 5h0m5-3h0m20-11h0m-32 29h0m3 8h0m-95 76h0m23-2h0m-16 24h0m10 4h0m2-4h0m4 0h0m-15 9h0m1 6h0m2-7h0m9 0h0m-7 12h0m4 0h0m-22 15h0m23-5h0m4 0h0m-2 2h0m1 2h0m6-58h0m4 3h0m-3 8h0m9-1h0m9-1h0m0 2h0m-17 10h0m3 7h0m4-2h0m0 5h0m-8 13h0m11-3h0m-2 4h0m-3 2h0m-4 1h0m3 0h0m-6 9h0m-27 21h0m10-14h0m2 1h0m-2 11h0m-6 18h0m6-11h0m7-3h0m-1 4h0m2 6h0m1 0h0m-27 11h0m-4 10h0m4 8h0m8-22h0m3 3h0m10 2h0m0 4h0m-10 12h0m-1 1h0m5-1h0m-1 8h0m4-4h0m-25 10h0m13-1h0m11 4h0m-7 4h0m6 4h0m2-2h0"/><path d="M0 0m100 1h0m18 2h0m-6 8h0m6 12h0m-38 13h0m8-2h0m28 4h0m-18 2h0m2 1h0m-12 12h0m9 2h0m-46 42h0m9-35h0m26 17h0m6-13h0m24-9h0m-27 25h0m1 4h0m0 1h0m23-14h0m5-1h0m-2 4h0m2 11h0m-44 1h0m12 23h0m1 4h0m-6 1h0m16-25h0m22 2h0m-3 10h0m-21 1h0m4 8h0m8-8h0m1 1h0m1 9h0m29-109h0m10 0h0m0 1h0m-19 2h0m0 1h0m4 1h0m5 8h0m4 4h0m13-19h0m3 9h0m-2 2h0m-3 2h0m6 5h0m12-12h0m10 0h0m0 1h0m2 11h0m-50 6h0m-4 10h0m16-4h0m-1 6h0m3-1h0m-18 9h0m-8 7h0m22-14h0m-4 14h0m5-5h0m6 2h0m-5 3h0m20-20h0m-3 3h0m3 2h0m3-9h0m5 8h0m9-5h0m-28 9h0m9-2h0m7 0h0m4 0h0m1 3h0m3 1h0m8-47h0m8 10h0m6-10h0m-14 14h0m17 1h0m-16 23h0m4 10h0m-62 12h0m-7 11h0m7-2h0m3-2h0m7-2h0m8-6h0m1 1h0m-10 8h0m4 1h0m-19 11h0m8 1h0m-6 5h0m1-1h0m15-9h0m-1 2h0m3 0h0m4 2h0m-10 4h0m9 5h0m1 0h0m2 1h0m3-23h0m6 7h0m20-8h0m4 3h0m-14 7h0m4 2h0m2 8h0m-45 8h0m3-3h0m-4 5h0m-8 5h0m4 3h0m4-4h0m0 2h0m7 2h0m5 1h0m0 1h0m7-6h0m-25 18h0m2 0h0m7 2h0m-1 2h0m7-3h0m8 1h0m-106 25h0m-2 20h0m23-34h0m18 4h0m-12 13h0m4 2h0m0 2h0m34-28h0m7 3h0m7 1h0m0 3h0m-23 12h0m2 10h0m13-13h0m-1 6h0m0 2h0m8-1h0m-1 1h0m-42 20h0m-17 3h0m0 11h0m22-10h0m-1 5h0m0 8h0m20-25h0m-9 6h0m4-3h0m3 4h0m4 3h0m7-7h0m3 2h0m-1 2h0m-10 5h0m1 2h0m-2 3h0m5-2h0m-9 9h0m2-5h0m13-6h0m4-2h0m-3 8h0m-72 22h0m17-2h0m-12 39h0m28-51h0m-13 11h0m16-8h0m1 3h0m8-6h0m4 10h0m-20 8h0m1 2h0m18 9h0m8-26h0m-2 4h0m6-4h0m14-2h0m-3 11h0m-18 4h0m11 6h0m-7 6h0m8 2h0m2-12h0m-36 18h0m2 0h0m-9 4h0m1 3h0m8-1h0m12-10h0m-23 23h0m4-7h0m3 4h0m-3 2h0m-6 2h0m17-2h0m6 8h0m9-24h0m0 1h0m6 9h0m31-112h0m3 5h0m-2 4h0m17-6h0m0 1h0m1 4h0m-22 11h0m-3 1h0m7-3h0m6 6h0m-9 8h0m7-3h0m7-4h0m0 3h0m-1 1h0m-14 10h0m7-4h0m-94 108h0m-9 9h0m22 8h0m-33 25h0m9-22h0m1 9h0m17-11h0m10 4h0m0 3h0m-17 13h0m31-52h0m-7 13h0m8-4h0m10-6h0m5-1h0m-8 11h0m3 0h0m-20 4h0m7 1h0m0 4h0m-8 5h0m16-9h0m-1 8h0m0 3h0m-16 8h0m14-5h0m0 1h0m-58 41h0m23-1h0m2-1h0m-4 6h0m7-9h0m-14 18h0m1 2h0m9-1h0m5-7h0m2 7h0m-3 17h0m5-1h0m-5 4h0m1 0h0m4 1h0m3-3h0m-18 13h0m2-3h0m1 11h0m7-15h0m2 1h0m2 2h0m-38 24h0m10 14h0m8-25h0m0 5h0m14-4h0m-14 9h0m3 10h0m3 5h0"/></g><g stroke-opacity="0.19"><path d="M0 0m87 2h0m29-2h0m-74 118h0m36-58h0m21 25h0m5-6h0m-21 19h0m-18 13h0m36-14h0m-2 19h0m11-8h0m-2 9h0m31-118h0m12 0h0m-4 3h0m-10 6h0m22-12h0m-5 6h0m1 2h0m9-4h0m1 1h0m9 9h0m3 0h0m1 5h0m-44 26h0m-11 10h0m19-9h0m6 3h0m-8 10h0m10-5h0m10-23h0m0 2h0m7 0h0m-7 9h0m8-7h0m-16 16h0m4 4h0m12-11h0m9 6h0m9-41h0m14-3h0m14-2h0m-23 11h0m20 4h0m-27 18h0m-62 33h0m23 2h0m-1 1h0m4-1h0m-13 5h0m-6 4h0m6 0h0m27-19h0m16 9h0m-20 6h0m-4 5h0m6 0h0m-38 15h0m-2 9h0m10-1h0m15-6h0m-13 17h0m1 3h0m1-1h0m17-8h0m-9 10h0m-66 10h0m10 1h0m16-3h0m-14 10h0m27-11h0m-14 16h0m9 0h0m5-2h0m-21 25h0m-4 4h0m13-2h0m9 8h0m-8 7h0m2 4h0m-59 31h0m8 23h0m23-39h0m4-6h0m4 6h0m-25 8h0m18 9h0m4 0h0m9-4h0m8 1h0m5-10h0m-46 16h0m4-1h0m11 6h0m3 6h0m-6 4h0m-7 7h0m22-4h0m-14 7h0m15 2h0m34-118h0m5 3h0m13-5h0m-14 35h0m8 4h0m-12 14h0m-69 98h0m-1 7h0m10-29h0m5-4h0m-1 23h0m2 1h0m10-3h0m1 0h0m-14 25h0m-50 33h0m11-11h0m5 8h0m3 0h0m12-6h0m-7 17h0m6-5h0m7 1h0m-10 3h0m-20 27h0m13-5h0m9-2h0m-14 21h0m9 12h0m-3 10h0m-2 4h0"/><path d="M0 0m79 5h0m1 8h0m23-15h0m13 44h0m-3 5h0m3-2h0m-77 56h0m7 18h0m56-61h0m14 19h0m-31 37h0m20-15h0m-9 19h0m14-8h0m-5 4h0m28-91h0m16-12h0m6-12h0m9-1h0m12 6h0m3 2h0m-17 5h0m17-2h0m4 10h0m-6 2h0m4 2h0m-34 1h0m-2 4h0m-1 3h0m-17 24h0m20-13h0m-7 13h0m13-29h0m12 0h0m9 2h0m-5 15h0m11-3h0m25-37h0m-18 6h0m16 9h0m-60 41h0m-6 10h0m-13 6h0m20-1h0m6-2h0m-11 9h0m13-25h0m1 1h0m-1 24h0m15 2h0m4-2h0m-30 15h0m0 7h0m10 0h0m-9 1h0m7 5h0m-9 10h0m15-30h0m17 3h0m-4 9h0m-124 68h0m55-41h0m19 17h0m-47 14h0m-10 7h0m19-13h0m5 29h0m3-30h0m3 5h0m-1 6h0m4 2h0m5-5h0m15 5h0m-19 17h0m10-4h0m-60 42h0m3-1h0m32-32h0m2 9h0m-5 4h0m2 7h0m4-6h0m2 9h0m11-26h0m4 7h0m-12 8h0m10-5h0m18-5h0m-21 14h0m-6 4h0m20-7h0m2 1h0m-2 10h0m-38 6h0m-15 11h0m9-4h0m7-8h0m9 0h0m5 4h0m-21 15h0m6 7h0m8-7h0m48-113h0m-2 29h0m11 13h0m-16 21h0m-92 110h0m16-5h0m10 6h0m5-45h0m1 2h0m6-5h0m-5 14h0m9-6h0m8 0h0m-19 23h0m29-26h0m-30 35h0m15-6h0m-9 20h0m4-2h0m-12 10h0m-4 8h0m-10 2h0m4 3h0m5-3h0m-4 15h0m8-2h0m-11 21h0m-7 28h0m-6 19h0"/></g><g stroke-opacity="0.34"><path d="M0 0m103 81h0m26-61h0m37-1h0m17-9h0m-46 57h0m-11 30h0m33 7h0m-51 31h0m11-5h0m-35 22h0m0 25h0m14-18h0m0 3h0m17-10h0m-12 25h0m12-3h0m-1 7h0m-31 3h0m-13 22h0m34-9h0m2 0h0m-3 8h0m-14 4h0m-5 7h0m0 3h0m-7 6h0m-13 21h0m10 1h0m57-124h0m5 8h0m18-1h0m-32 45h0m1 6h0m-73 79h0m-1 39h0m3 2h0m-6 7h0m29-58h0m-6 15h0m-9 12h0m15-12h0m-18 36h0m-21 21h0m-1 2h0m7-6h0m6-5h0m-27 31h0m9 22h0m-1 32h0m8-2h0"/><path d="M0 0m69 17h0m29-2h0m-17 13h0m-14 84h0m33-19h0m-6 9h0m-2 14h0m55-110h0m-14 3h0m-4 3h0m11 8h0m22-9h0m7 13h0m-25 48h0m9-4h0m29-10h0m-26 16h0m-86 60h0m0 1h0m2 6h0m27-8h0m8 4h0m10 13h0m-50 30h0m13-9h0m11 4h0m4 4h0m-30 12h0m3 15h0m38-7h0m-12 6h0m5 1h0m-17 16h0m-23 19h0m19-6h0m-4 5h0m25-21h0m28-80h0m-5 2h0m-74 108h0m-7 31h0m9 14h0m6-36h0m8 32h0m-18 37h0m-24 17h0m5 6h0m3 0h0m9-5h0m-13 16h0"/></g><g stroke-opacity="0.52"><path d="M0 0m64 94h0m56-39h0m47-24h0m6 3h0m-35 42h0m-87 63h0m35 20h0m6 4h0m22 10h0m-59 72h0m53-51h0m-49 40h0m29-16h0m-44 53h0m6 5h0m-2 58h0m9-13h0m-1 8h0m-18 52h0"/><path d="M0 0m107 67h0m5 29h0m-5 11h0m4 12h0m40-105h0m38-16h0m-48 103h0m-67 22h0m15 15h0m0 22h0m22 17h0m-52 15h0m41 40h0m42-85h0m-81 101h0m4 53h0m-34 19h0m19 24h0m-8 22h0"/></g></g>
<path d="M113.9 842.3L115 834.3 123 825.3 126.3 817.4 127.5 809.5 130.9 805 131.4 799.3 133.1 790.3 137.7 784.6 138.8 780.1 142.2 772.2 145.6 768.8 150.1 763.1 155.7 758.6 158 753 161.4 748.4 163.7 742.8 167 738.3 169.3 736 170.4 733.2 177.2 728.7 179.5 721.9 184 718.5 186.8 712.9 190.2 703.8 197 700.4 199.2 695.9 202.6 690.3 207.1 684.6 209.4 677.8 213.9 674.4 215 667.7 219.6 660.9 225.2 653 230.9 650.7 236.5 649.6 237.7 642.8 239.9 638.5 239.9 631.5 290 630 290 845Z" fill="#fff" fill-rule="evenodd"/>
<path d="M113.9 842.3L115 834.3 123 825.3 126.3 817.4 127.5 809.5 130.9 805 131.4 799.3 133.1 790.3 137.7 784.6 138.8 780.1 142.2 772.2 145.6 768.8 150.1 763.1 155.7 758.6 158 753 161.4 748.4 163.7 742.8 167 738.3 169.3 736 170.4 733.2 177.2 728.7 179.5 721.9 184 718.5 186.8 712.9 190.2 703.8 197 700.4 199.2 695.9 202.6 690.3 207.1 684.6 209.4 677.8 213.9 674.4 215 667.7 219.6 660.9 225.2 653 230.9 650.7 236.5 649.6 237.7 642.8 239.9 638.5 239.9 631.5 290 630 290 845Z" fill="#cccccc" fill-rule="evenodd" stroke="#000" stroke-width="4" stroke-linejoin="round" paint-order="stroke"/>
<path d="M117.3 842.3L118.4 833.2 125.2 825.3 128.6 817.4 129.7 810.6 133.1 806.1 133.7 800.4 135.4 791.4 139.9 785.7 141.6 781.2 144.4 774.4 147.8 769.9 152.3 765.4 158 760.3 160.3 754.7 163.7 749.6 165.9 743.9 170.4 739.4 173.8 736 180 726.4 184.5 725.3 187.9 721.9 190.2 715.1 191.3 711.7 195.8 714 202.6 711.7 199.2 708.3 202.6 702.7 206 698.2 210.5 695.9 210 689.1 213.9 685.7 218.4 683.5 219.6 676.7 224.1 674.4 226.3 666.5 228.6 665.4 234.3 666 236.5 663.1 241 664.3 242.2 658.6 246.7 653 247.8 648.4 252.3 649.6 254.6 655.2 259.1 656.9 262.5 653 259.1 649.6 255.7 647.3 254.6 642.8 259.1 639.4 260.3 631.5 290 630 288.5 713.7 282.5 713.7 278.3 712.6 275 711.5 273.8 714.9 270.4 718.3 267 720.5 263.7 717.1 261.4 711.5 259.1 712.6 256.9 718.3 250.1 720.5 243.3 722.2 238.8 723.3 243.3 725 250.1 727.3 252.3 733 256.9 735.2 260.3 740.9 261.4 744.3 256.9 745.4 252.3 743.1 247.8 738.6 243.3 733 238.8 729.6 232 726.7 230.9 728.4 234.3 733 238.8 736.3 234.3 738.6 228.6 739.7 233.1 742 238.8 745.4 241 747.7 236.5 749.9 230.9 746.5 225.2 743.1 223 744.3 225.2 747.7 223 751 217.3 752.2 221.8 755 225.2 756.7 229.7 755 236.5 755.6 228.6 757.8 225.2 760.1 223 766.9 219.6 774.8 216.2 768 215 771.4 210.5 775.9 212.8 780.4 213.9 786.1 212.8 794 212.8 799.3 217.3 803.8 223 808.3 225.2 811.7 221.8 815.1 225.2 819.7 230.9 821.9 238.8 823.6 247.8 825.3 253.5 825.3 259.1 827 270.4 828.1 288.5 828.9 290 845Z" fill="#999999" fill-rule="evenodd" stroke="#000" stroke-width="2" stroke-linejoin="round"/>
<path d="M120.7 842.3L121.8 832.1 127.5 825.3 130.9 819.7 133.1 812.9 138.8 808.3 143.3 807.2 138.8 805 139.9 801.6 144.4 795.9 145.6 789.1 143.3 787.4 146.7 785.7 147.8 779 152.3 772.2 156.9 767.7 163.7 763.1 164.8 758.6 165.9 750.7 170.4 746.2 176.1 741.7 179.5 743.9 181.7 739.4 184 737.1 180 735.2 185.7 736.3 191.3 739.7 193.6 743.1 197 737.5 199.2 734.1 207.1 731.8 208.3 737.5 213.9 739.7 216.2 738.6 213.9 743.1 209.4 744.3 200.3 742 195.8 745.4 194.7 751 195.8 755.6 193.6 757.8 199.2 760.1 194.7 762.3 191.3 763.5 186.8 764.6 185.7 768 189 771.4 192.4 772.5 197 768 200.3 765.7 202.6 769.1 201.5 775.9 194.7 777 191.3 782.7 189 777 184.5 774.8 182.3 780.4 182.3 783.8 186.8 789.5 195.8 790.3 197 793.7 191.3 794.8 192.4 798.2 195.8 800.4 191.3 803.8 187.9 808.3 190.2 812.9 195.8 812.9 202.6 815.1 204.9 819.7 210.5 819.7 211.7 815.1 216.2 815.1 217.3 819.7 223 823.6 230.9 825.9 238.8 827 247.8 827.8 259.1 829.3 270.4 830.2 288.5 831 290 845Z" fill="#666666" fill-rule="evenodd" stroke="#000" stroke-width="2" stroke-linejoin="round"/>
<path d="M123 842.3L124.1 834.6 130.9 831.7 138.8 829.8 147.8 828.9 159.1 828.7 170.4 828.9 184 829.8 191.3 830.4 202.6 831 213.9 831.5 230.9 832.1 247.8 832.7 264.8 833 288.5 833.2 288.5 842.3Z" fill="#000000" fill-rule="evenodd" stroke="#000" stroke-width="0.5" stroke-linejoin="round"/>
<g clip-path="url(#hc30)"><g filter="url(#bl)"><path d="M235.4 807.2L241 802.7 243.3 799.3 238.8 794.8 241 793.7 245.6 792.5 250.1 790.3 254.6 789.7 259.1 792.5 263.7 789.1 267 783.5 271.6 781.2 276.1 779 270.4 775.6 273.8 772.2 277.2 769.9 288.5 769.3 288.5 826.4 282.5 825.9 277.2 824.2 270.4 821.9 263.7 819.7 259.1 815.1 255.7 809.5 253.5 808.3 256.9 815.1 252.3 817.4 246.7 815.1 241 812.9 236.5 810.6Z" fill="#000" fill-opacity=".94" stroke="#000" stroke-opacity=".94" stroke-width="6"/></g></g>
<path d="M235.4 807.2L241 802.7 243.3 799.3 238.8 794.8 241 793.7 245.6 792.5 250.1 790.3 254.6 789.7 259.1 792.5 263.7 789.1 267 783.5 271.6 781.2 276.1 779 270.4 775.6 273.8 772.2 277.2 769.9 288.5 769.3 288.5 826.4 282.5 825.9 277.2 824.2 270.4 821.9 263.7 819.7 259.1 815.1 255.7 809.5 253.5 808.3 256.9 815.1 252.3 817.4 246.7 815.1 241 812.9 236.5 810.6Z" fill="none" stroke="#000" stroke-width="1.6" stroke-linejoin="round"/>
<path d="M221.5 783.5L221.1 784.4 220.1 784.8 219.2 784.4 218.8 783.5 219.2 782.5 220.1 782.1 221.1 782.5ZM228.6 779.5L228.4 779.9 228 780.1 227.6 779.9 227.5 779.5 227.6 779.1 228 779 228.4 779.1ZM232.8 795.3L232.4 796.3 231.4 796.7 230.5 796.3 230.1 795.3 230.5 794.4 231.4 794 232.4 794.4ZM232.2 803.8L232.2 803.9 232 804 231.8 803.9 231.8 803.8 231.8 803.7 232 803.7 232.2 803.7ZM236.2 815.7L236.1 815.9 236 815.9 235.8 815.9 235.7 815.7 235.8 815.5 236 815.5 236.1 815.5ZM245.1 784L244.3 784.3 242.2 784.4 240.1 784.3 239.2 784 240.1 783.8 242.2 783.7 244.3 783.8ZM253.8 784L253.2 784.8 251.8 785.1 250.3 784.8 249.7 784 250.3 783.3 251.8 783 253.2 783.3ZM257 780.1L256.6 781.1 255.7 781.6 254.9 781.1 254.5 780.1 254.9 779 255.7 778.6 256.6 779ZM261.7 784.6L261.3 785.5 260.3 785.9 259.2 785.5 258.8 784.6 259.2 783.7 260.3 783.4 261.3 783.7ZM256.6 772.2L256.2 773.3 255.2 773.8 254.1 773.3 253.7 772.2 254.1 771.1 255.2 770.6 256.2 771.1ZM248 775.6L247.9 775.7 247.8 775.7 247.7 775.7 247.7 775.6 247.7 775.5 247.8 775.4 247.9 775.5ZM264.1 762.6L264 764 263.7 764.6 263.3 764 263.2 762.6 263.3 761.1 263.7 760.5 264 761.1ZM272.8 750.1L272.6 751.8 272.1 752.5 271.7 751.8 271.5 750.1 271.7 748.5 272.1 747.8 272.6 748.5ZM281.7 751.8L281.4 752.5 280.6 752.8 279.8 752.5 279.5 751.8 279.8 751.1 280.6 750.8 281.4 751.1ZM263.8 823.6L263.1 824.1 261.4 824.3 259.7 824.1 259 823.6 259.7 823.1 261.4 822.9 263.1 823.1ZM208.6 783.5L208.5 783.8 208.3 783.9 208 783.8 207.9 783.5 208 783.2 208.3 783 208.5 783.2ZM200.8 791.4L200.7 792 200.3 792.3 200 792 199.9 791.4 200 790.8 200.3 790.5 200.7 790.8ZM184.6 794.8L184.3 795.3 183.4 795.6 182.5 795.3 182.1 794.8 182.5 794.2 183.4 794 184.3 794.2ZM216.9 807.2L216.7 807.5 216.2 807.6 215.7 807.5 215.5 807.2 215.7 807 216.2 806.9 216.7 807ZM204 811.7L203.9 811.9 203.7 812 203.6 811.9 203.5 811.7 203.6 811.6 203.7 811.5 203.9 811.6ZM184.4 756.3L183.9 756.4 182.8 756.5 181.7 756.4 181.2 756.3 181.7 756.3 182.8 756.2 183.9 756.3ZM263.1 747.9L267 745 268.7 740.5 269.3 748.4 265.9 749.6ZM221.2 667.7L220.7 668.4 219.6 668.7 218.4 668.4 218 667.7 218.4 666.9 219.6 666.6 220.7 666.9ZM233 671.6L232.7 672.7 232 673.1 231.3 672.7 231 671.6 231.3 670.6 232 670.1 232.7 670.6ZM238.6 680.1L238 680.9 236.5 681.2 235.1 680.9 234.5 680.1 235.1 679.3 236.5 679 238 679.3ZM228.3 685.7L228 687.3 227.5 687.9 226.9 687.3 226.7 685.7 226.9 684.2 227.5 683.6 228 684.2ZM241.6 690.3L241.3 691.9 240.5 692.6 239.7 691.9 239.3 690.3 239.7 688.6 240.5 687.9 241.3 688.6ZM249.3 688L248.9 689.2 247.8 689.7 246.8 689.2 246.4 688 246.8 686.8 247.8 686.3 248.9 686.8ZM261.2 688L260.2 688.6 258 688.9 255.8 688.6 254.8 688 255.8 687.4 258 687.1 260.2 687.4ZM274.2 683.5L273.6 684.4 272.1 684.7 270.7 684.4 270.1 683.5 270.7 682.6 272.1 682.2 273.6 682.6ZM264.6 679L264.3 679.7 263.7 680 263 679.7 262.7 679 263 678.2 263.7 677.9 264.3 678.2ZM272.5 669.9L272.4 671.4 272.1 672 271.9 671.4 271.8 669.9 271.9 668.5 272.1 667.9 272.4 668.5ZM273 675.8L272.8 675.9 272.1 675.9 271.5 675.9 271.2 675.8 271.5 675.7 272.1 675.7 272.8 675.7ZM277.2 663.1L276.7 664.2 275.5 664.6 274.3 664.2 273.8 663.1 274.3 662.1 275.5 661.7 276.7 662.1ZM268 663.7L267.4 664 265.9 664.2 264.5 664 263.9 663.7 264.5 663.4 265.9 663.2 267.4 663.4ZM260.2 663.7L259.9 663.9 259.1 663.9 258.4 663.9 258.1 663.7 258.4 663.5 259.1 663.5 259.9 663.5ZM269.1 647.3L268.8 647.6 268.2 647.8 267.5 647.6 267.3 647.3 267.5 647 268.2 646.9 268.8 647ZM269.1 655.8L268.8 656.1 268.2 656.2 267.5 656.1 267.3 655.8 267.5 655.5 268.2 655.3 268.8 655.5ZM245.9 647.3L245.5 648.2 244.4 648.6 243.4 648.2 243 647.3 243.4 646.4 244.4 646.1 245.5 646.4ZM252.8 640L252.5 640.4 251.8 640.6 251.1 640.4 250.8 640 251.1 639.5 251.8 639.3 252.5 639.5ZM264.4 641.7L264.2 643.2 263.7 643.8 263.1 643.2 262.9 641.7 263.1 640.1 263.7 639.5 264.2 640.1ZM201.9 699.3L201.6 700 200.9 700.3 200.2 700 199.9 699.3 200.2 698.6 200.9 698.3 201.6 698.6ZM220.9 719.7L220.7 720.7 220.1 721.1 219.6 720.7 219.3 719.7 219.6 718.6 220.1 718.2 220.7 718.6ZM244.4 707.2L244.3 708.1 243.9 708.5 243.5 708.1 243.3 707.2 243.5 706.3 243.9 706 244.3 706.3ZM251.9 707.8L251.7 707.9 251.2 707.9 250.7 707.9 250.5 707.8 250.7 707.7 251.2 707.7 251.7 707.7ZM259.8 707.2L259.8 707.5 259.7 707.7 259.6 707.5 259.6 707.2 259.6 706.9 259.7 706.8 259.8 706.9ZM258.5 711.5L258 711.8 256.9 712 255.8 711.8 255.3 711.5 255.8 711.2 256.9 711.1 258 711.2ZM281.6 699.9L281.2 700.5 280 700.8 278.9 700.5 278.5 699.9 278.9 699.2 280 699 281.2 699.2ZM217.2 731.9L216.9 732 216.2 732 215.5 732 215.2 731.9 215.5 731.8 216.2 731.7 216.9 731.8ZM273.6 735.5L273.2 736.5 272.1 737 271.1 736.5 270.7 735.5 271.1 734.4 272.1 734 273.2 734.4ZM190.1 731.5L189.6 732.2 188.5 732.5 187.4 732.2 186.9 731.5 187.4 730.8 188.5 730.5 189.6 730.8Z" fill="#000000" stroke="#000" stroke-width="2" stroke-linejoin="round"/>
<path d="M243.3 750.7L247.8 754.1 248.7 756.3 243.9 756.1ZM216.2 691.6L219.8 688.2 221.6 692.5 219.6 695ZM257 693.1L256.4 694.4 255 695.2 253.1 695.2 251.7 694.4 251.1 693.1 251.7 691.8 253.1 690.9 255 690.9 256.4 691.8ZM267 695.9L271.8 692 275 695.9 270.4 697ZM252.9 699.5L251.7 700.1 249.9 699.8 248.1 698.6 247.1 697 247.3 695.7 248.5 695.1 250.3 695.4 252 696.6 253 698.2Z" fill="#cccccc" stroke="#000" stroke-width="2" stroke-linejoin="round"/>
<path d="M230.3 763.1L234.3 761.1 239.9 762.6 243.3 762.6 245.3 764.3 244.4 766.7 241.6 765.6 237.7 766.3 233.1 766ZM190.2 747.3L189.7 748.4 188.6 749.1 187.2 749.1 186.1 748.4 185.7 747.3 186.1 746.2 187.2 745.5 188.6 745.5 189.7 746.2ZM193 807.8L200.3 802.7 197 809.5 195.3 810.6ZM178.6 769.9L181.4 768.8 183.2 773.3 181.7 780.1 179.4 781.2 178.3 775.6ZM258 726.4L261.4 723 264.2 726.4 269.3 725.3 270.4 727.6 265.9 728.7 260.3 729.3ZM275 723L282.5 722.5 282.5 737.7 279.5 735.5 276.1 727.6Z" fill="#999999" stroke="#000" stroke-width="2" stroke-linejoin="round"/>
<path d="M202 751.8L207.1 749.3 211.7 753 207.7 756.9ZM256.8 672.4L255.6 673.2 253.5 673.1 251.1 672.2 249 670.7 247.9 668.9 247.9 667.5 249.1 666.7 251.2 666.7 253.6 667.6 255.7 669.2 256.8 670.9ZM232 709.9L231 713.5 229.6 716 228.1 716.7 226.8 715.6 226.2 712.7 226.4 709.1 227.3 705.5 228.7 703 230.3 702.2 231.5 703.4 232.1 706.2ZM282.3 656.9L281.9 658.5 280.9 659.7 279.5 660.1 278.1 659.7 277 658.5 276.7 656.9 277 655.3 278.1 654.2 279.5 653.7 280.9 654.2 281.9 655.3ZM229.5 694.8L229.2 696.4 228.5 697.5 227.5 697.9 226.5 697.5 225.7 696.4 225.4 694.8 225.7 693.2 226.5 692 227.5 691.6 228.5 692 229.2 693.2ZM204 723.6L207.7 719.7 211.4 723.6 207.7 727.6ZM221.6 731.5L224.7 728.5 227.7 731.5 224.7 734.6ZM245.3 715.7L248.4 713.2 251.4 715.7 248.4 718.2ZM191.3 720.8L194.9 724.2 192.4 729.3 191.1 725.3Z" fill="#666666" stroke="#000" stroke-width="2" stroke-linejoin="round"/>
<path d="M204.9 799.3L207.7 796.1 210.5 799.3 207.7 802.5ZM270.2 707.2L269.3 709.5 267 710.4 264.8 709.5 263.9 707.2 264.8 705 267 704.1 269.3 705Z" fill="#ffffff" stroke="#000" stroke-width="2" stroke-linejoin="round"/>
<path d="M147 638.5V838.5M82.5 836H282.5" stroke="#4682b4" stroke-width="2" fill="none"/>
<rect x="143" y="832" width="9" height="9" fill="#4682b4"/>
</g>
<g clip-path="url(#cp31)">
<g clip-path="url(#sc31)"><g fill="#000" fill-rule="evenodd" filter="url(#bl)"><path d="M409 844.5L404 844.5 301 844.5 299.6 844.5 295 844.5 292 844.5 290.6 844.5 290.2 836 290.6 834 297 818.9 300.6 807 303.2 802 303.3 801 304.2 800 304.2 799 305.2 798 305.2 797 307.1 795 308.1 792 309.1 791 309.1 790 310.1 789 310.1 788 311.1 787 311.1 786 314.1 781 314.1 780 317.1 775 317.1 774 318 773 318.1 772 319 771 319.1 770 320 769 320.1 768 321 767 321 766 322 765 322 764 324 762 324 761 325 760 325 759 326 758 326 757 327 756 327 755 330 750 330 749 331 748 331 747 334 742 334 741 335 740 335 739 336 738 336 737 337 736 337 735 338 734 338 733 339 732 339 731 341 729 342 726 343 725 343 724 346 719 346 718 347 717 347 716 350 711 350 710 353 705 353 704 354 703 354 702 355 701 355 700 356 699 356 698 358 696 358 695 359 694 359 693 360 692 360 691 361 690 361 689 362 688 362 687 363 686 363 685 364 684 364 683 365 682 365 681 366 680 366 679 367 678 367 677 368 676 368 675 369 674 369 673 370 672 370 671 371 670 372 667 374 665 374 664 375 663 375 662 378 657 378 656 379 655 379 654 380 653 380 652 381 651 381 650 382 649 382 648 383 647 383 646 384 645 384 644 385 643 385 642 386 641 386 640 387 639 387 638 388 637 388 636 389 635 389 634 391 632.5 392 632.5 393 632.5 395 632.5 436 632.5 439 632.5 441 632.5 483 632.5 493 632.5 498.5 632.5 498.5 640.3 483.4 690 467.1 740 450.2 789 438.4 826 436.6 833 436.1 844.5 435 844.5 426 844.5 410 844.5Z" fill-opacity="0.055"/><path d="M408 844.5L302 844.5 295 844.5 292.2 844.5 291.3 844.5 291 836 291.9 833 297.1 821 302.2 805 305.5 797 307.3 795 309.2 790 310.2 789 310.2 788 311.2 787 311.2 786 314.2 781 314.2 780 317.1 775 317.1 774 318.1 773 318.1 772 319.1 771 319.1 770 320.1 769 320.1 768 321.1 767 321.1 766 322.1 765 322.1 764 324.1 762 324.1 761 325.1 760 325.1 759 326.1 758 326.1 757 327.1 756 327.1 755 330.1 750 330.1 749 331.1 748 331.1 747 334.1 742 334.1 741 335.1 740 335.1 739 336.1 738 336.1 737 337.1 736 337.1 735 338.1 734 338.1 733 339.1 732 339.1 731 341.1 729 342.1 726 343.1 725 343.1 724 346.1 719 346.1 718 347.1 717 347.1 716 350.1 711 350.1 710 353.1 705 353.1 704 354.1 703 354.1 702 355.1 701 355.1 700 356.1 699 356.1 698 358.1 696 358.1 695 359.1 694 359.1 693 360.1 692 360.1 691 361.1 690 361.1 689 362.1 688 362.1 687 363.1 686 363.1 685 364.1 684 364.1 683 365.1 682 365.1 681 366.1 680 366.1 679 367.1 678 367.1 677 368.1 676 368.1 675 369.1 674 369.1 673 370.1 672 370.1 671 371.1 670 372.1 667 374.1 665 374.1 664 375.1 663 375.1 662 378.1 657 378.1 656 379.1 655 379.1 654 380.1 653 380.1 652 381.1 651 381.1 650 382.1 649 382.1 648 383.1 647 383.1 646 384.1 645 384.1 644 385.1 643 385.1 642 386.1 641 386.1 640 387.1 639 387.1 638 388.1 637 388.1 636 389.1 635 389.1 634 391.1 632.5 392.1 632.5 393.1 632.5 395 632.5 436 632.5 441 632.5 462 632.5 484 632.5 498.5 632.5 498.2 641 488.3 668 476 704.2 465.3 739 453.8 772 436.8 826 435.1 833 434.7 844.5 433.9 844.5 426 844.5Z" fill-opacity="0.058"/><path d="M407 844.5L303 844.5 296 844.5 292.9 844.5 292 844.5 291.8 836 292.7 833 298 821 305.8 797 307.5 795 309.4 790 310.4 789 310.4 788 311.3 787 311.4 786 314.3 781 314.3 780 317.2 775 317.3 774 318.2 773 318.2 772 319.2 771 319.2 770 320.2 769 320.2 768 321.2 767 321.2 766 322.2 765 322.2 764 324.2 762 324.2 761 325.2 760 325.2 759 326.2 758 326.2 757 327.2 756 327.2 755 330.2 750 330.2 749 331.2 748 331.2 747 334.2 742 334.2 741 335.2 740 335.2 739 336.2 738 336.2 737 337.2 736 337.2 735 338.2 734 338.2 733 339.2 732 339.2 731 341.2 729 342.2 726 343.2 725 343.2 724 346.2 719 346.2 718 347.2 717 347.2 716 350.2 711 350.2 710 353.2 705 353.2 704 354.2 703 354.2 702 355.2 701 355.2 700 356.2 699 356.2 698 358.2 696 358.2 695 359.2 694 359.2 693 360.2 692 360.2 691 361.2 690 361.2 689 362.2 688 362.2 687 363.2 686 363.2 685 364.2 684 364.2 683 365.2 682 365.2 681 366.2 680 366.2 679 367.2 678 367.2 677 368.2 676 368.2 675 369.2 674 369.2 673 370.2 672 370.2 671 371.2 670 372.2 667 374.2 665 374.2 664 375.2 663 375.2 662 378.2 657 378.2 656 379.2 655 379.2 654 380.2 653 380.2 652 381.2 651 381.2 650 382.2 649 382.2 648 383.1 647 383.2 646 384.1 645 384.2 644 385.1 643 385.2 642 386.1 641 386.1 640 387.1 639 387.1 638 388.1 637 388.1 636 389.1 635 389.1 634 391.1 632.5 392.1 632.5 393.1 632.5 394.7 632.5 398 632.5 435 632.5 441 632.5 462 632.5 469 632.5 484 632.5 487.7 632.5 492.1 632.5 495.7 632.5 496.3 635 495.4 640 484.1 671 473 703.8 462.8 739 452 770 443.3 798 433.6 831 432.9 844.5 431.2 844.5 427 844.5Z" fill-opacity="0.073"/><path d="M406 844.5L306 844.5 298 844.5 293.7 844.5 292.8 844.5 292.6 836 299.2 820 306.5 797 310.5 789 310.6 788 311.5 787 311.5 786 312.5 785 312.5 784 313.4 783 313.5 782 314.4 781 314.4 780 317.4 775 317.4 774 318.3 773 318.4 772 319.3 771 319.4 770 320.3 769 320.4 768 321.3 767 321.3 766 322.3 765 322.3 764 324.3 762 324.3 761 325.3 760 325.3 759 326.3 758 326.3 757 327.3 756 327.3 755 330.3 750 330.3 749 331.3 748 331.3 747 334.3 742 334.3 741 335.3 740 335.3 739 336.3 738 336.3 737 337.3 736 337.3 735 338.3 734 338.3 733 339.3 732 339.3 731 341.3 729 342.3 726 343.3 725 343.3 724 346.3 719 346.3 718 347.3 717 347.3 716 350.3 711 350.3 710 353.3 705 353.3 704 354.3 703 354.3 702 355.3 701 355.3 700 356.3 699 356.3 698 358.2 696 358.3 695 359.2 694 359.3 693 360.2 692 360.3 691 361.2 690 361.3 689 362.2 688 362.3 687 363.2 686 363.3 685 364.2 684 364.3 683 365.2 682 365.3 681 366.2 680 366.3 679 367.2 678 367.3 677 368.2 676 368.3 675 369.2 674 369.3 673 370.2 672 370.3 671 371.2 670 372.3 667 374.2 665 374.2 664 375.2 663 375.2 662 378.2 657 378.2 656 379.2 655 379.2 654 380.2 653 380.2 652 381.2 651 381.2 650 382.2 649 382.2 648 383.2 647 383.2 646 384.2 645 384.2 644 385.2 643 385.2 642 386.2 641 386.2 640 387.2 639 387.2 638 388.2 637 388.2 636 389.2 635 389.2 634 391.2 632.5 392.2 632.5 393.2 632.5 395 632.5 435 632.5 486.1 632.5 489 632.5 491.7 634 492.3 637 491.9 640 481 670 470 702.5 460.3 738 448.6 772 431.7 830 430.5 844.5 429.1 844.5 427 844.5Z" fill-opacity="0.091"/><path d="M418 844.5L404 844.5 301 844.5 296.9 844.5 294.5 844.5 293.6 844.5 293.5 836 300.1 820 309 792 312.6 785 312.7 784 313.6 783 313.6 782 314.6 781 314.6 780 318.5 773 318.5 772 319.5 771 319.5 770 320.4 769 320.5 768 321.4 767 321.5 766 322.4 765 322.5 764 324.4 762 324.4 761 325.4 760 325.4 759 326.4 758 326.4 757 327.4 756 327.4 755 330.4 750 330.4 749 331.4 748 331.4 747 334.4 742 334.4 741 335.4 740 335.4 739 336.4 738 336.4 737 337.4 736 337.4 735 338.4 734 338.4 733 339.4 732 339.4 731 341.4 729 342.4 726 343.4 725 343.4 724 346.4 719 346.4 718 347.4 717 347.4 716 350.4 711 350.4 710 353.4 705 353.4 704 354.4 703 354.4 702 355.4 701 355.4 700 356.4 699 356.4 698 358.3 696 358.4 695 359.3 694 359.4 693 360.3 692 360.4 691 361.3 690 361.4 689 362.3 688 362.4 687 363.3 686 363.4 685 364.3 684 364.4 683 365.3 682 365.4 681 366.3 680 366.4 679 367.3 678 367.4 677 368.3 676 368.4 675 369.3 674 369.4 673 370.3 672 370.4 671 371.3 670 372.4 667 374.3 665 374.3 664 375.3 663 375.3 662 378.3 657 378.3 656 379.3 655 379.3 654 380.3 653 380.3 652 381.3 651 381.3 650 382.3 649 382.3 648 383.3 647 383.3 646 384.3 645 384.3 644 385.3 643 385.3 642 386.3 641 386.3 640 387.3 639 387.3 638 388.3 637 388.3 636 389.3 635 389.3 634 391.3 632.5 392.3 632.5 393.3 632.5 395 632.5 436 632.5 461 632.5 485 632.5 486.2 632.5 487.2 632.5 488.4 637 488.2 640 477.2 670 466.4 702 457.4 738 446 771 429.3 831 428.1 844.5 427.6 844.5 425.7 844.5Z" fill-opacity="0.113"/><path d="M416 844.5L403 844.5 301 844.5 297 844.5 295.3 844.5 294.5 844.5 294.4 836 295.2 833 301.1 820 311.3 788 313.8 782 314.7 781 314.8 780 318.6 773 318.7 772 319.6 771 319.6 770 320.6 769 320.6 768 321.6 767 321.6 766 322.6 765 322.6 764 324.5 762 324.6 761 325.5 760 325.6 759 326.5 758 326.6 757 327.5 756 327.6 755 330.5 750 330.6 749 331.5 748 331.6 747 334.5 742 334.6 741 335.5 740 335.5 739 336.5 738 336.5 737 337.5 736 337.5 735 338.5 734 338.5 733 339.5 732 339.5 731 341.5 729 342.5 726 343.5 725 343.5 724 346.5 719 346.5 718 347.5 717 347.5 716 350.5 711 350.5 710 353.5 705 353.5 704 354.5 703 354.5 702 355.5 701 355.5 700 356.5 699 356.5 698 358.4 696 358.5 695 359.4 694 359.5 693 360.4 692 360.5 691 361.4 690 361.5 689 362.4 688 362.5 687 363.4 686 363.5 685 364.4 684 364.5 683 365.4 682 365.5 681 366.4 680 366.5 679 367.4 678 367.5 677 368.4 676 368.5 675 369.4 674 369.5 673 370.4 672 370.5 671 371.4 670 372.5 667 374.4 665 374.4 664 375.4 663 375.4 662 378.4 657 378.4 656 379.4 655 379.4 654 380.4 653 380.4 652 381.4 651 381.4 650 382.4 649 382.4 648 383.4 647 383.4 646 384.4 645 384.4 644 385.4 643 385.4 642 386.4 641 386.4 640 387.4 639 387.4 638 388.4 637 388.4 636 389.4 635 389.4 634 391.4 632.5 392.4 632.5 393.4 632.5 395 632.5 396 632.5 435 632.5 461 632.5 482 632.5 483.6 632.5 484 632.5 483.8 639 473.5 668 462.8 701 454.5 737 443 771 427 831 426.3 844.5 425 844.5Z" fill-opacity="0.135"/><path d="M412 844.5L403 844.5 301 844.5 297 844.5 295.3 844.5 295.2 836 296.1 833 302 820 315 780 319.7 771 319.8 770 320.7 769 320.8 768 321.7 767 321.8 766 322.7 765 322.8 764 324.7 762 324.7 761 325.7 760 325.7 759 326.7 758 326.7 757 331.7 748 331.7 747 334.6 742 334.7 741 335.6 740 335.7 739 336.6 738 336.7 737 337.6 736 337.7 735 338.6 734 338.7 733 339.6 732 339.7 731 341.6 729 342.6 726 343.6 725 343.6 724 346.6 719 346.6 718 347.6 717 347.6 716 350.6 711 350.6 710 353.6 705 353.6 704 354.6 703 354.6 702 355.6 701 355.6 700 356.6 699 356.6 698 358.5 696 358.6 695 359.5 694 359.6 693 360.5 692 360.6 691 361.5 690 361.6 689 362.5 688 362.6 687 363.5 686 363.6 685 364.5 684 364.6 683 365.5 682 365.6 681 366.5 680 366.6 679 367.5 678 367.6 677 368.5 676 368.6 675 369.5 674 369.6 673 370.5 672 370.6 671 371.5 670 372.6 667 374.5 665 374.5 664 375.5 663 375.5 662 378.5 657 378.5 656 379.5 655 379.5 654 380.5 653 380.5 652 381.5 651 381.5 650 382.5 649 382.5 648 383.5 647 383.5 646 384.5 645 384.5 644 385.5 643 385.5 642 386.5 641 386.5 640 387.5 639 387.5 638 388.5 637 388.5 636 389.5 635 389.5 634 391.5 632.5 392.5 632.5 393.5 632.5 395 632.5 406 632.5 436 632.5 464.6 632.5 470.9 632.5 477 632.8 477.9 636 477.2 640 468.4 668 459.4 699 451.2 737 440.2 770 430.4 807 424.5 831 423.8 844.5 422.7 844.5 419.8 844.5Z" fill-opacity="0.157"/><path d="M410 844.5L403 844.5 301 844.5 296.9 844.5 296.1 844.5 295.9 836 296.8 833 302.8 820 315.4 781 319 772 322.9 765 322.9 764 324.8 762 324.9 761 325.8 760 325.9 759 331.8 748 331.8 747 334.8 742 334.8 741 335.8 740 335.8 739 336.8 738 336.8 737 337.7 736 337.8 735 338.7 734 338.8 733 339.7 732 339.8 731 341.7 729 342.7 726 346.7 719 346.7 718 347.7 717 347.7 716 350.7 711 350.7 710 354.7 703 354.7 702 355.7 701 355.7 700 356.7 699 356.7 698 358.7 696 358.7 695 359.7 694 359.7 693 360.7 692 360.7 691 361.7 690 361.7 689 362.7 688 362.7 687 363.7 686 363.7 685 364.7 684 364.7 683 365.7 682 365.7 681 366.7 680 366.7 679 367.7 678 367.7 677 368.7 676 368.7 675 369.7 674 369.7 673 370.7 672 370.7 671 371.7 670 372.7 667 374.6 665 374.7 664 375.6 663 375.7 662 378.6 657 378.6 656 379.6 655 379.6 654 380.6 653 380.6 652 381.6 651 381.6 650 382.6 649 382.6 648 383.6 647 383.6 646 384.6 645 384.6 644 385.6 643 385.6 642 386.6 641 386.6 640 387.6 639 387.6 638 388.6 637 388.6 636 389.6 635 389.6 634 391.6 632.5 392.6 632.5 393.6 632.5 395 632.5 406 632.5 436 632.5 444 632.5 462.6 632.5 466 632.5 469.9 636 471 639 470.6 642 462.9 669 455.2 699 447.7 737 436.8 771 427.5 806 422 831 421.3 844.5 420.1 844.5 418.2 844.5Z" fill-opacity="0.186"/><path d="M408 844.5L301 844.5 297.6 844.5 296.8 844.5 296.7 836 297.6 833 303.7 820 316.6 780 321.5 768 329.9 752 332 747 335.9 740 335.9 739 336.9 738 336.9 737 337.9 736 337.9 735 338.9 734 338.9 733 339.9 732 339.9 731 341.8 729 342.9 726 346.8 719 346.8 718 347.8 717 347.8 716 350.8 711 350.8 710 354.8 703 354.8 702 355.8 701 355.8 700 356.8 699 356.8 698 358.8 696 358.8 695 359.8 694 359.8 693 360.8 692 360.8 691 361.8 690 361.8 689 362.8 688 362.8 687 363.8 686 363.8 685 364.8 684 364.8 683 365.8 682 365.8 681 366.8 680 366.8 679 367.8 678 367.8 677 368.8 676 368.8 675 369.8 674 369.8 673 370.8 672 372.8 667 374.7 665 374.8 664 375.7 663 375.8 662 378.7 657 378.7 656 379.7 655 379.7 654 380.7 653 380.7 652 381.7 651 381.7 650 382.7 649 382.7 648 383.7 647 383.7 646 384.7 645 384.7 644 385.7 643 385.7 642 386.7 641 386.7 640 387.7 639 387.7 638 388.7 637 388.7 636 389.7 635 389.7 634 391.7 632.5 392.7 632.5 393.7 632.5 395 632.5 396 632.5 434 632.5 443 632.5 461 632.5 462.8 632.5 463.8 632.5 464.7 638 464.4 642 457.9 668 451 699.8 444.3 737 433.6 771 424.8 805 419.5 832 418.9 844.5 418.4 844.5 416.4 844.5Z" fill-opacity="0.228"/><path d="M407 844.5L301.3 844.5 298.6 844.5 297.7 844.5 297.6 836 299 831.8 304.6 820 317 781.4 322 768.8 340 731.6 341.9 729 343 726 346.9 719 347 718 347.9 717 347.9 716 350.9 711 350.9 710 354.9 703 354.9 702 355.9 701 355.9 700 356.9 699 356.9 698 358.9 696 358.9 695 359.9 694 359.9 693 360.9 692 360.9 691 361.9 690 361.9 689 362.9 688 362.9 687 363.9 686 363.9 685 364.9 684 364.9 683 365.9 682 365.9 681 366.9 680 366.9 679 367.9 678 367.9 677 368.9 676 368.9 675 369.9 674 369.9 673 370.9 672 372.9 667 374.8 665 374.9 664 375.8 663 375.9 662 378.8 657 378.8 656 379.8 655 379.8 654 380.8 653 380.8 652 381.8 651 381.8 650 382.8 649 382.8 648 383.8 647 383.8 646 384.8 645 384.8 644 385.8 643 385.8 642 386.8 641 386.8 640 387.8 639 387.8 638 388.8 637 388.8 636 389.8 635 389.8 634 391.8 632.5 392.8 632.5 393.8 632.5 395 632.5 396 632.5 435 632.5 458 632.5 459.4 632.5 460 632.5 459.7 640 453.7 667 447.7 697 440.9 736 430.5 770 421.9 805 417.3 832 417 844.5 416.4 844.5 415 844.5Z" fill-opacity="0.279"/><path d="M405 844.5L303.1 844.5 299.6 844.5 298.7 844.5 298.6 836 299.5 833 305.6 820 318 781.5 323 768.9 354 704.8 357.4 698 359 696 359 695 360 694 360 693 361 692 361 691 362 690 362 689 363 688 363 687 364 686 364 685 365 684 365 683 366 682 366 681 367 680 367 679 368 678 368 677 369 676 369 675 370 674 370 673 371 672 373 667 374.9 665 375 664 378.9 657 378.9 656 379.9 655 379.9 654 380.9 653 380.9 652 381.9 651 381.9 650 382.9 649 382.9 648 383.9 647 383.9 646 384.9 645 384.9 644 385.9 643 385.9 642 386.9 641 386.9 640 387.9 639 387.9 638 388.9 637 388.9 636 389.9 635 389.9 634 391.8 632.5 392.8 632.5 393.9 632.5 396 632.5 436.3 632.5 446.1 632.5 453 633 454.1 635 454.1 639 443.2 697 436.8 735 426.4 770 418.8 804 414.8 831 414.5 844.5 414.2 844.5 412.9 844.5Z" fill-opacity="0.341"/><path d="M408 844.5L402 844.5 303 844.5 300.8 844.5 299.8 844.5 299.6 836 301 832 306.4 821 319 781.6 324 769.1 354 707 381 653 381 652 384 647 384 646 384.9 645 385 644 385.9 643 386 642 386.9 641 387 640 387.9 639 387.9 638 388.9 637 388.9 636 389.9 635 389.9 634 391.9 632.5 392.9 632.5 393.9 632.5 398 632.5 436 632.5 438.9 632.5 441.5 632.5 447.2 638 447.7 642 432.2 735 422.1 770 415.6 803 412.2 831 411.8 844.5 410 844.5Z" fill-opacity="0.448"/><path d="M406 844.5L303 844.5 301.1 844.5 300.9 844.5 300.9 836 302 832.7 307.7 821 320 782.7 325 769.9 355 707.7 379.4 659 389 636.2 390 635 390 634 392 632.5 393 632.5 394 632.5 399 632.5 437 632.5 438.6 632.5 439.1 632.5 440.5 641 437.1 671 426.7 736 416.7 772 411.6 804 409.2 831 408.9 844.5 408.1 844.5Z" fill-opacity="0.688"/></g></g>
<g transform="translate(292.5 638.5) scale(.5)" fill="none" stroke="#000" stroke-width="5.56" stroke-linecap="round"><g stroke-opacity="0.10"><path d="M0 0m81 214h0m261-200h0m15-17h0m13 1h0m0 3h0m-18 8h0m1 1h0m0 11h0m3 1h0m4-9h0m7 7h0m-25 6h0m-8 23h0m5 3h0m-1 3h0m14-31h0m14 2h0m5 5h0m1 2h0m-16 12h0m2 6h0m4-9h0m-24 27h0m-15 8h0m-1 6h0m35-18h0m18-9h0m-3 3h0m0 4h0m-5 1h0m-2 4h0m4 1h0m-25 13h0m-14 10h0m-2 7h0m1 2h0m4 14h0m0 3h0m0 1h0m32-19h0m-19 18h0m8-4h0m4 4h0m0 1h0m5-5h0m9-2h0m8-110h0m18 3h0m4-4h0m1 3h0m-21 11h0m1 0h0m1-7h0m4 0h0m12 0h0m-5 14h0m6-2h0m-19 8h0m-2 3h0m2 6h0m9-5h0m7-6h0m-4 8h0m2 4h0m5-5h0m-10 9h0m-15 13h0m12-4h0m6-10h0m10 5h0m-25 12h0m10-1h0m-4 3h0m4 2h0m-7 5h0m-4 4h0m21-12h0m3-2h0m2 5h0m-13 14h0m-13 5h0m-1 3h0m2 0h0m17-9h0m6 3h0m-9 3h0m1 0h0m5 0h0m-19 9h0m5-1h0m5 14h0m7-4h0m3 1h0m-9 5h0m-3 2h0m-10 9h0m10-2h0m-4 2h0m1 1h0m8-4h0m4-1h0m-68 9h0m5 0h0m-2 5h0m3 1h0m3-4h0m3 1h0m-1 2h0m-9 10h0m-2 7h0m14 2h0m8-25h0m-3 11h0m4-2h0m2 1h0m13 4h0m-14 3h0m2 13h0m7-9h0m6 7h0m-41 10h0m-12 8h0m1 17h0m11-3h0m15-10h0m-12 7h0m10 3h0m5-28h0m4 5h0m5-5h0m1 6h0m1 1h0m-5 1h0m-2 3h0m3 1h0m19-11h0m2 5h0m-13 3h0m8 0h0m-15 11h0m-8 6h0m5 4h0m11-13h0m12 4h0m-9 9h0m4-5h0m1 2h0m3-1h0m-63 15h0m-6 10h0m-8 26h0m15-8h0m-2 6h0m-7 7h0m-3 13h0m27-56h0m-7 8h0m2-2h0m10-9h0m-2 5h0m-10 13h0m3-5h0m3 0h0m2 12h0m6-7h0m8-1h0m-12 4h0m16-24h0m6 0h0m8 0h0m8 13h0m-15 2h0m4 3h0m-3 1h0m1 4h0m1 5h0m16-10h0m-7 6h0m8 3h0m-59 6h0m17 1h0m2 10h0m2-1h0m4-4h0m-1 1h0m-21 12h0m11-2h0m0 3h0m2-2h0m8 3h0m-4 7h0m4-4h0m0 1h0m7-2h0m0 1h0m4-24h0m-2 2h0m13-1h0m-14 7h0m2 5h0m6-1h0m14-11h0m1 7h0m-1 2h0m0 3h0m-22 6h0m5 1h0m4-5h0m0 8h0m-1 1h0m5 0h0m15-8h0m0 3h0m12-106h0m13-6h0m-17 25h0m24-7h0m-10 8h0m-15 8h0m3-3h0m9-4h0m-2 4h0m0 3h0m6-3h0m6 3h0m-4 1h0m-14 10h0m-7 11h0m12 2h0m8-9h0m-8 12h0m14 3h0m-12 49h0m-14 3h0m27-7h0m-5 8h0m-370 76h0m6-1h0m-18 41h0m-15 15h0m-1 2h0m11-12h0m3-2h0m-5 12h0m2 0h0m5 0h0m8-16h0m-26 22h0m8-2h0m-4 5h0m5-2h0m-10 6h0m-1 2h0m4 0h0m1 14h0m302-149h0m8 6h0m-4 3h0m-24 8h0m12 0h0m-12 8h0m3 0h0m5-1h0m3 1h0m6-12h0m11-2h0m-3 13h0m-25 11h0m9 2h0m12-9h0m-3 12h0m-1 1h0m-16 8h0m5 6h0m11-4h0m0 2h0m-1 5h0m5-5h0m15-58h0m6 5h0m-8 7h0m2 2h0m3-5h0m3 3h0m5-8h0m6 3h0m-6 5h0m-13 8h0m-1 1h0m3-1h0m-1 2h0m5-3h0m0 4h0m-5 4h0m1 0h0m2-2h0m5 3h0m8-8h0m-3 4h0m32-17h0m11-7h0m-11 11h0m-1 3h0m12-2h0m-17 10h0m-9 7h0m27-11h0m-61 14h0m2 0h0m3 0h0m-6 6h0m5 6h0m3-3h0m3 2h0m5-11h0m10 3h0m-16 13h0m4 4h0m-8 4h0m11-6h0m3 3h0m-5 8h0m38-27h0m-21 22h0m2 1h0m-68 20h0m-11 9h0m-4 3h0m38-24h0m-4 10h0m-14 8h0m7 6h0m4 2h0m4-11h0m1 0h0m-4 11h0m5 2h0m6 1h0m-49 17h0m2 15h0m14 1h0m18-26h0m-9 3h0m3 1h0m-3 6h0m28-9h0m-8 5h0m3 4h0m5-3h0m-27 5h0m6 6h0m-9 4h0m2 4h0m10-6h0m2 0h0m4-8h0m19-43h0m4 0h0m5 1h0m-8 1h0m0 3h0m1 0h0m7-2h0m-1 5h0m17-8h0m-30 10h0m0 5h0m10-3h0m-9 9h0m13-1h0m10 1h0m9-26h0m12 14h0m6-15h0m11 5h0m-62 36h0m1 3h0m17-6h0m10-6h0m-5 5h0m-20 22h0m14-9h0m46-109h0m4-1h0m-4 13h0m3 5h0m14 10h0m-4 47h0m-130 49h0m7 8h0m0 4h0m1 0h0m6-4h0m0 5h0m0 11h0m16-22h0m2 3h0m4 2h0m-13 5h0m0 3h0m5 0h0m18-14h0m-8 10h0m11 2h0m-25 3h0m-2 4h0m22 0h0m7-3h0m4-14h0m33-1h0"/><path d="M0 0m348-4h0m4 10h0m11 1h0m-2 3h0m13 5h0m-2 6h0m1 1h0m-30 13h0m-7 9h0m7 0h0m23-17h0m-1 7h0m-3 3h0m8 1h0m-20 3h0m12 5h0m8 1h0m3 0h0m-12 3h0m-1 5h0m-32 2h0m4 16h0m3 2h0m-3 5h0m27-18h0m6 3h0m-4 6h0m-15 4h0m-2 2h0m27 4h0m-39 29h0m1 0h0m9-6h0m3-7h0m1-1h0m3 7h0m25-8h0m-1 1h0m-1 1h0m-2 3h0m1 3h0m-17 12h0m9-2h0m7 5h0m2-2h0m30-115h0m1 3h0m-26 8h0m10 5h0m9 0h0m2 2h0m-3 2h0m8-3h0m0 3h0m-22 7h0m-2 4h0m4 1h0m12-8h0m7 4h0m-4 5h0m4 2h0m-19 7h0m1-3h0m-3 8h0m-2 6h0m5-6h0m6 3h0m2-4h0m7 4h0m-21 10h0m7-4h0m3-1h0m-3 10h0m9-7h0m8 0h0m-11 20h0m-9 8h0m12-13h0m-2 3h0m1 0h0m10 0h0m0 8h0m-21 6h0m1 4h0m-2 1h0m3 1h0m3 2h0m7-3h0m2 7h0m4-7h0m2 3h0m-25 19h0m6 1h0m1-6h0m1 0h0m8-4h0m1 5h0m-68 21h0m5-14h0m-2 2h0m1 0h0m-16 25h0m23-10h0m2 5h0m-7 1h0m-2 4h0m9-2h0m14-14h0m4 1h0m14-13h0m-10 8h0m2 2h0m7 2h0m3 2h0m0 1h0m-26 2h0m-3 4h0m10-2h0m1 1h0m-9 7h0m25-11h0m-3 12h0m-41 5h0m0 9h0m9-4h0m5 7h0m-20 3h0m3 7h0m4 3h0m5 4h0m4-6h0m14-21h0m3 3h0m-9 8h0m10-4h0m2 5h0m10-15h0m-7 6h0m7-1h0m3-4h0m-2 2h0m1 3h0m-5 5h0m-17 12h0m3-1h0m4-6h0m1 3h0m-1 3h0m2 0h0m2 0h0m-13 9h0m12 0h0m14-10h0m-11 4h0m2 0h0m-61 51h0m2 1h0m-8 12h0m2-1h0m7 6h0m13-56h0m23-6h0m1 6h0m-5 3h0m1 3h0m2 1h0m-16 10h0m5 0h0m9-1h0m-6 2h0m7 6h0m3 0h0m7-27h0m1 4h0m6-4h0m2 3h0m-6 6h0m4-4h0m9-2h0m-2 4h0m3 5h0m-17 3h0m-1 4h0m-1 1h0m12-1h0m-8 2h0m-1 6h0m5-1h0m3 2h0m7-11h0m3 11h0m2-1h0m-51 9h0m1 1h0m12-3h0m11-1h0m-7 4h0m5 2h0m-3 8h0m7-15h0m6-1h0m-5 5h0m11-1h0m-5 3h0m-3 4h0m7 1h0m6-14h0m4 4h0m0 10h0m7-6h0m-1 4h0m-1 1h0m-21 6h0m-2 1h0m12 0h0m-8 5h0m-3 1h0m6-2h0m11-6h0m15-112h0m-3 2h0m-1 2h0m26-5h0m-5 7h0m-17 11h0m2 6h0m1 0h0m9-8h0m1 9h0m3 18h0m-19 4h0m2 6h0m-1 8h0m1 0h0m15-1h0m2-1h0m3 2h0m-11 8h0m-9 8h0m18-12h0m0 8h0m-17 6h0m-4 14h0m17-12h0m-3 23h0m1 19h0m-370 88h0m-6 11h0m2-5h0m18-26h0m-19 38h0m-1 3h0m-15 16h0m12-5h0m1 3h0m-4 3h0m-1 5h0m5-1h0m-14 2h0m8 9h0m-3 2h0m-1 6h0m-1 3h0m306-142h0m-5 6h0m-7 5h0m3-1h0m3 0h0m6 12h0m-35 29h0m12-13h0m-1 2h0m16-2h0m-17 11h0m-3 2h0m9 2h0m8-4h0m13-2h0m-11 4h0m4 1h0m11-57h0m0 8h0m2 4h0m9-1h0m6-10h0m5 9h0m6 3h0m-25 2h0m-2 12h0m18-9h0m26-7h0m4-11h0m1-1h0m-14 28h0m6 2h0m5-7h0m-49 16h0m12-5h0m-8 8h0m-1 5h0m17-13h0m-4 4h0m3 1h0m11-1h0m-11 7h0m-3 2h0m7-2h0m6 1h0m-23 4h0m4-2h0m1 12h0m9-2h0m5-1h0m14-24h0m5 17h0m-8 6h0m-81 8h0m6 8h0m-10 8h0m4 8h0m21-11h0m7 1h0m4-7h0m1 5h0m3 0h0m4-4h0m-14 9h0m-12 9h0m14-1h0m4-8h0m-3 10h0m9-1h0m-1 1h0m0 1h0m-35 4h0m1 7h0m7-7h0m-12 15h0m4 0h0m-6 3h0m-8 9h0m18 3h0m8-30h0m17 1h0m5 3h0m5-2h0m1 0h0m-12 9h0m7 0h0m7-3h0m-2 5h0m-25 10h0m-4 1h0m1 6h0m8-5h0m1 0h0m0 4h0m18 1h0m6-58h0m12-2h0m-8 12h0m0 1h0m3-2h0m16-12h0m5 0h0m1 2h0m-10 11h0m0 1h0m-18 3h0m-1 5h0m34-13h0m-3 7h0m13 4h0m-6 9h0m19-14h0m-55 22h0m8-2h0m3 11h0m3-13h0m-1 2h0m-4 17h0m12-3h0m-3 10h0m14-17h0m4 13h0m35-81h0m-10 4h0m-114 86h0m-9 14h0m3 0h0m14-8h0m8-3h0m7 3h0m8-4h0m-1 3h0m-13 4h0m5 1h0m-1 3h0m4-6h0m3 2h0m2-2h0m-8 10h0m9 0h0m-7 9h0m9-10h0m0 3h0m5 0h0m6 7h0m11-14h0m25 0h0m-25 8h0"/><path d="M0 0m370 2h0m5 1h0m-5 1h0m-17 6h0m-7 6h0m21 5h0m-25 27h0m1 2h0m5-26h0m19 5h0m4 0h0m2 0h0m-10 3h0m-9 11h0m3-2h0m-2 8h0m12-8h0m-2 2h0m10 1h0m-12 7h0m-28 21h0m-3 13h0m9 1h0m12-19h0m2-1h0m15-3h0m-16 18h0m15-3h0m4 5h0m-3 3h0m-37 10h0m-1 5h0m-7 17h0m32-24h0m5-5h0m1 0h0m3 4h0m2 2h0m2 2h0m3 6h0m1 0h0m-22 1h0m-4 10h0m-2 5h0m4-1h0m22-5h0m3 0h0m11-114h0m1 2h0m14-1h0m2 2h0m-17 10h0m-5 4h0m4 5h0m2 0h0m-1 5h0m11 5h0m7-4h0m-9 6h0m-19 22h0m15-2h0m3-7h0m3-2h0m-4 10h0m-10 3h0m-7 14h0m19-12h0m-1 1h0m2 2h0m2 0h0m1 5h0m2-3h0m-23 12h0m9-3h0m-3 3h0m2 1h0m5-1h0m-8 8h0m0 3h0m1-7h0m14-1h0m-5 3h0m3 0h0m3 1h0m-15 10h0m6-1h0m-8 6h0m22-8h0m-10 8h0m3-2h0m0 5h0m6 0h0m-15 4h0m3 6h0m-8 4h0m3-1h0m11-5h0m2 3h0m3 5h0m-93 57h0m6-53h0m18-1h0m10 15h0m-24 16h0m9-14h0m8 2h0m5 11h0m10-28h0m7 0h0m-11 13h0m11-4h0m16-10h0m-13 8h0m10 5h0m-18 7h0m0 1h0m0 1h0m0 4h0m15 1h0m1 0h0m-50 4h0m4 7h0m-9 5h0m8 0h0m19-8h0m-6 6h0m4 1h0m-23 19h0m9-3h0m4-6h0m12-3h0m1 1h0m-4 4h0m-5 2h0m4 6h0m21-26h0m-9 9h0m7-5h0m7-9h0m10 3h0m1 8h0m-18 6h0m3 0h0m-12 9h0m2 4h0m12-13h0m2 1h0m0 1h0m1-3h0m1 7h0m6-3h0m0 11h0m-73 35h0m4 7h0m1 3h0m-8 10h0m45-50h0m-7 4h0m4 3h0m3 3h0m-27 5h0m5-1h0m-2 6h0m4 4h0m2 2h0m10-12h0m11 4h0m-4 7h0m5-25h0m9-4h0m-1 7h0m-8 8h0m16-8h0m3 1h0m-9 8h0m-10 11h0m2-1h0m19-4h0m1 3h0m-52 12h0m10-2h0m0 2h0m5-2h0m13 6h0m-2 2h0m-24 11h0m11 3h0m3-2h0m13-1h0m-8 8h0m2-5h0m2-1h0m-1 4h0m13-28h0m2 2h0m1 1h0m2 1h0m-4 5h0m2 1h0m14-8h0m-8 10h0m-5 14h0m12-10h0m4 1h0m4 4h0m-5 8h0m10-119h0m6 0h0m4 1h0m-13 13h0m3 0h0m-3 5h0m2 2h0m11 4h0m4-9h0m2 7h0m-20 5h0m11 9h0m14-6h0m-23 15h0m11-3h0m3 0h0m4 4h0m8-2h0m-9 11h0m-12 5h0m-7 4h0m4-1h0m10-4h0m-12 6h0m-2 4h0m17-7h0m11 4h0m-21 8h0m-2 4h0m5 0h0m-10 28h0m5 8h0m6 4h0m8 1h0m-353 52h0m15-37h0m-39 73h0m7-1h0m-9 11h0m1 1h0m-3 8h0m-4 4h0m-4 9h0m4 5h0m0 3h0m2-2h0m2 3h0m-14 3h0m1 5h0m3 0h0m-1 1h0m-2 3h0m5 8h0m-8 5h0m0 3h0m5-3h0m290-137h0m14-11h0m-24 17h0m7 10h0m8-8h0m3 8h0m7-5h0m-29 7h0m24 0h0m-4 13h0m-11 2h0m10 2h0m-2 3h0m4 2h0m13-53h0m3 1h0m3-1h0m0 4h0m8-1h0m-9 10h0m19-13h0m-6 9h0m1 2h0m-7 3h0m-11 8h0m7 3h0m7-3h0m11 0h0m5-24h0m7 0h0m15 2h0m8 13h0m-26 15h0m5 0h0m3-1h0m19-5h0m-5 6h0m-57 2h0m7 1h0m3 6h0m3 0h0m-10 8h0m26-10h0m-29 11h0m5 1h0m9-1h0m-13 9h0m11 2h0m10-5h0m-3 9h0m13-30h0m23 1h0m-6 10h0m-13 5h0m9-1h0m-8 8h0m-80 12h0m3 1h0m-1 1h0m-6 6h0m6 12h0m20-12h0m5-9h0m11 4h0m-10 6h0m6-5h0m-21 9h0m10 3h0m-10 6h0m2 0h0m10 0h0m2-8h0m12 0h0m-8 6h0m3 6h0m-26 12h0m-19 6h0m-1 13h0m10-13h0m10 15h0m3-30h0m6 0h0m-4 4h0m6-2h0m4 0h0m-2 10h0m4 1h0m1-9h0m0 2h0m7-2h0m-3 1h0m-18 12h0m6 1h0m1 7h0m0 1h0m7 0h0m7-2h0m-2 3h0m9-1h0m3-51h0m0 3h0m1 3h0m6-2h0m8-11h0m12 1h0m-24 16h0m-2 5h0m8 1h0m27-2h0m-35 22h0m20-9h0m4 20h0m-6 3h0m-4 2h0m30-10h0m20-111h0m15 6h0m-3 34h0m1 26h0m-128 71h0m12-8h0m-6 8h0m8 0h0m0 12h0m9-20h0m9-3h0m-2 6h0m-13 4h0m9-3h0m4 2h0m2 5h0m1-8h0m13 1h0m1 6h0m-27 5h0m4-3h0m0 2h0m-5 2h0m7 2h0m5-2h0m-12 6h0m6-2h0m8 2h0m21-20h0m14-5h0m-2 1h0m12 0h0m-4 5h0m-24 11h0m-1 5h0m31 4h0"/></g><g stroke-opacity="0.19"><path d="M0 0m343 13h0m25-13h0m-24 18h0m14 2h0m5-6h0m-10 18h0m13-3h0m-1 3h0m9 22h0m-39 9h0m6-2h0m-11 20h0m-1 3h0m14-3h0m22-22h0m-7 25h0m5-5h0m10-4h0m-8 6h0m4 3h0m-30 5h0m-13 29h0m35-28h0m3 3h0m2 7h0m1 3h0m4-5h0m-24 14h0m-2 3h0m13-3h0m0 3h0m24-115h0m3 2h0m18-5h0m1 0h0m-22 16h0m4-3h0m10 3h0m7 4h0m-23 17h0m6-2h0m-1 3h0m0 2h0m9-3h0m-2 5h0m3 7h0m6 3h0m1 0h0m-10 9h0m1 10h0m-11 8h0m16 18h0m-13 10h0m0 5h0m1 2h0m-6 8h0m-70 21h0m20-19h0m12 12h0m12-7h0m0 12h0m2 2h0m2 2h0m-6 7h0m17-8h0m-8 5h0m-33 9h0m14 7h0m-25 17h0m10 3h0m5-9h0m-2 9h0m4-1h0m-2 2h0m14-24h0m2 11h0m8 1h0m-11 6h0m15-6h0m10 9h0m-2 3h0m4-1h0m-63 18h0m16-7h0m2 1h0m3-4h0m0 3h0m-5 16h0m10-8h0m-6 4h0m5 1h0m13-12h0m-3 14h0m26 0h0m-31 9h0m-2 1h0m-23 25h0m9 2h0m9-10h0m3 9h0m1 0h0m0 3h0m6 0h0m4-17h0m19-9h0m3-5h0m2 2h0m-10 27h0m1 2h0m20-121h0m14 3h0m-1 8h0m2 1h0m-20 28h0m14-2h0m-8 71h0m1 8h0m10-8h0m-370 98h0m9-6h0m-15 17h0m-14 31h0m292-122h0m11-3h0m5-2h0m-27 31h0m5-1h0m10-14h0m-20 43h0m12-20h0m14-1h0m-15 20h0m36-52h0m-11 5h0m4 0h0m13-9h0m-7 18h0m-3 8h0m7-3h0m2 3h0m8 2h0m16-29h0m17 4h0m-60 27h0m7 0h0m0 12h0m1 0h0m18-4h0m3 0h0m1 3h0m-25 5h0m22 6h0m-9 5h0m2 1h0m22-28h0m-2 5h0m0 2h0m-77 51h0m8-16h0m26-6h0m0 1h0m-15 14h0m-12 12h0m25-10h0m-2 2h0m-4 14h0m5 5h0m-23 19h0m5-5h0m10-7h0m2 3h0m-3 7h0m21-53h0m18 12h0m16-12h0m-34 26h0m12 12h0m-15 4h0m80-97h0m-121 113h0m3 5h0m15-2h0m-2 6h0m14-4h0m7-1h0m-8 10h0m-11 9h0m17-7h0m-5 10h0m16-26h0m16 19h0m6 3h0"/><path d="M0 0m368-2h0m-21 23h0m12 1h0m15-12h0m-12 8h0m10 5h0m0 15h0m-19 2h0m21 7h0m0 4h0m-42 11h0m-8 11h0m27-3h0m22-14h0m-29 17h0m6 13h0m17-11h0m5 2h0m2 8h0m-41 10h0m23 0h0m-5 16h0m13 5h0m20-113h0m2 8h0m-6 5h0m-1 4h0m24 2h0m-1 1h0m-18 1h0m6 1h0m-3 4h0m-7 9h0m8-2h0m14-8h0m-18 16h0m4 6h0m11-4h0m-13 11h0m-8 12h0m10 0h0m10-6h0m-22 16h0m15-3h0m-6 7h0m10-8h0m-2 10h0m7-4h0m-14 7h0m-6 21h0m1 2h0m8-7h0m10 13h0m1-3h0m-84 9h0m13 6h0m-8 20h0m17-12h0m1 9h0m8-19h0m-3 18h0m29 0h0m-55 19h0m24-11h0m-8 15h0m7 0h0m9-6h0m3-2h0m11 17h0m-61 21h0m0 7h0m-6 3h0m1 9h0m13 1h0m-5 21h0m25-53h0m14 12h0m7-5h0m5 4h0m5-8h0m5 2h0m2-4h0m-20 24h0m-29 7h0m-8 9h0m28-1h0m-14 10h0m-3 9h0m6-9h0m9 3h0m3 3h0m7-22h0m7-4h0m1 3h0m-4 7h0m-4 8h0m1 1h0m26-1h0m3-110h0m2 2h0m9 7h0m-7 24h0m-6 3h0m16-4h0m1 36h0m5 14h0m3-6h0m-22 39h0m-334 49h0m0 3h0m-25 43h0m7-14h0m-5 26h0m-6 6h0m3 6h0m-13 13h0m18-14h0m-20 43h0m290-133h0m-4 6h0m8-4h0m13 10h0m-32 16h0m8-8h0m21 3h0m-24 12h0m10 9h0m3-8h0m13-4h0m15-49h0m2 9h0m1 1h0m6 2h0m-13 17h0m22 0h0m6-24h0m1 15h0m-16 13h0m-13 20h0m-6 7h0m9 0h0m32-25h0m-10 8h0m9-1h0m-74 35h0m20-15h0m5 8h0m0 6h0m-12 5h0m-2 11h0m13 0h0m4 0h0m-14 10h0m6-6h0m2 12h0m-12 9h0m11-6h0m4 2h0m2 10h0m14-59h0m12 2h0m7 5h0m-2 21h0m18-18h0m6 5h0m-30 28h0m-14 5h0m4 1h0m33-17h0m26-88h0m12 4h0m-117 118h0m-11 5h0m1 3h0m-3 7h0m9-3h0m7-15h0m6 2h0m-1 3h0m5-5h0m5 5h0m-5 6h0m12 1h0m-9 9h0m-3 3h0m7-5h0m9-2h0m-5 9h0m10 0h0m8-22h0m11 16h0"/></g><g stroke-opacity="0.34"><path d="M0 0m371 2h0m-27 27h0m9-1h0m9 27h0m10-6h0m-2 20h0m-35 50h0m17-29h0m5 17h0m18 12h0m1-113h0m6 10h0m10-1h0m11 68h0m-25 19h0m19 10h0m-1 3h0m-26 6h0m4-1h0m-9 26h0m-30 29h0m4 6h0m22-19h0m14 9h0m-79 69h0m19-35h0m-1 3h0m41-17h0m12 4h0m-19 7h0m11 11h0m-31 17h0m50-86h0m18 20h0m-7 7h0m14-2h0m-366 132h0m-3 13h0m-5 23h0m-9 11h0m-17 32h0m282-127h0m25 11h0m0 5h0m-40 39h0m6 1h0m14-4h0m15 5h0m12-56h0m15 24h0m20-21h0m19-2h0m-22 12h0m18 10h0m-48 3h0m8 3h0m8 11h0m-35 39h0m-42 37h0m1 3h0m4 0h0m5-11h0m12-9h0m5 9h0m-4 6h0m5 6h0m12-1h0m25-60h0m-1 9h0m8-4h0m15-2h0m9-4h0m-32 85h0"/><path d="M0 0m357 35h0m6 12h0m-7 14h0m-2 22h0m21-6h0m-35 38h0m6-27h0m1 7h0m22 9h0m-9 15h0m12-4h0m24-115h0m-10 22h0m-3 9h0m3-7h0m-4 65h0m9 13h0m-26 18h0m-3 9h0m0 1h0m-43 30h0m18 0h0m-26 38h0m25-11h0m0 1h0m-9 16h0m-12 8h0m47 1h0m-30 8h0m-19 18h0m8-2h0m11 1h0m29-18h0m-5 23h0m7-11h0m36-102h0m-21 13h0m3 33h0m0 56h0m-330 40h0m-21 45h0m-6 41h0m278-97h0m-9 25h0m15 1h0m-1 3h0m-22 13h0m46-50h0m-18 20h0m8 1h0m12-7h0m23-19h0m14 22h0m-40 23h0m9-3h0m-12 8h0m-44 27h0m13-11h0m7 1h0m-2 5h0m-16 9h0m2-1h0m13 39h0m-1 2h0m28-38h0m24-5h0m-7 3h0m-11 24h0m47-102h0m-92 127h0m20 4h0m-22 18h0m51-21h0"/></g><g stroke-opacity="0.52"><path d="M0 0m368 9h0m-5 82h0m30-50h0m8 24h0m-90 99h0m37-41h0m-34 33h0m-2 11h0m21 10h0m35 1h0m-30 24h0m28 22h0m19-96h0m-3 26h0m11 12h0m6 17h0m-384 162h0m281-36h0m32-48h0m5 3h0m13-10h0m-3 30h0m-45 51h0m-18 24h0m10-5h0m23 16h0m15-8h0m-44 38h0"/><path d="M0 0m360 33h0m-9 17h0m15-3h0m38-9h0m-3 15h0m-16 44h0m-46 26h0m-3 3h0m5 23h0m12-28h0m6 12h0m3 20h0m2 20h0m-64 55h0m20-40h0m-8 8h0m89-69h0m2 1h0m-127 182h0m35-9h0m6-28h0m19 28h0m5 9h0m-40 24h0m8 32h0m11-26h0m-33 47h0"/></g></g>
<path d="M297.9 842.3L299 835.5 305.8 820.8 310.3 806.1 314.9 792.5 319.4 779 323.9 767.7 328.4 758.6 333 749.6 337.5 740.5 339.7 736 342.1 730 357.5 700 372.8 670 390.2 636 398.4 620 425 629.2 425 638.5 427.3 645 426.2 656.3 421.7 658.6 421.1 665.4 422.8 668.8 419.4 672.2 422.8 675.6 420 679.5 422.8 682.3 422.2 690.3 417.1 693.7 416.6 701.6 417.1 709.5 416 715.1 413.7 721.9 414.9 726.4 409.2 731 408.1 740 407 747.3 407 756.3 404.7 759.7 405.8 768.8 401.3 771 400.2 779 400.7 786.9 399 795.9 393.4 798.7 395.7 803.8 395.7 810.6 392.8 815.1 394.5 821.9 397.9 826.4 401.3 832.1 404.7 837.2 405.8 842.3Z" fill="#fff" fill-rule="evenodd"/>
<path d="M297.9 842.3L299 835.5 305.8 820.8 310.3 806.1 314.9 792.5 319.4 779 323.9 767.7 328.4 758.6 333 749.6 337.5 740.5 339.7 736 342.1 730 357.5 700 372.8 670 390.2 636 398.4 620 425 629.2 425 638.5 427.3 645 426.2 656.3 421.7 658.6 421.1 665.4 422.8 668.8 419.4 672.2 422.8 675.6 420 679.5 422.8 682.3 422.2 690.3 417.1 693.7 416.6 701.6 417.1 709.5 416 715.1 413.7 721.9 414.9 726.4 409.2 731 408.1 740 407 747.3 407 756.3 404.7 759.7 405.8 768.8 401.3 771 400.2 779 400.7 786.9 399 795.9 393.4 798.7 395.7 803.8 395.7 810.6 392.8 815.1 394.5 821.9 397.9 826.4 401.3 832.1 404.7 837.2 405.8 842.3Z" fill="#cccccc" fill-rule="evenodd" stroke="#000" stroke-width="4" stroke-linejoin="round" paint-order="stroke"/>
<path d="M300.2 842.3L301.3 835.5 307 823 310.9 812.9 312.6 803.8 316.6 792.5 321.1 779 325.3 768.2 329.6 759.2 333.9 750.1 338.4 741.1 340.6 736.6 343.7 730 359.1 700 364.2 690 367.5 685.7 370.9 682.3 373.1 674.4 374.3 671 380.5 654.1 383.3 650.7 387.8 648.4 390.7 640.5 392.3 631.5 396.9 631.5 396.9 638.5 395.7 645 396.9 653 400.3 657.5 399.1 660.9 395.7 663.1 399.1 666.5 400.3 673.3 399.1 677.8 395.7 679.5 399.1 682.3 399.1 689.1 396.9 693.7 394.6 695.9 395.7 703.8 398 708.3 398 715.1 394.6 719.7 392.3 725.3 390.1 729.8 392.3 734.3 391.2 740 389.7 740.5 386.3 745 383 750.7 385.2 756.3 385.2 760.9 389.7 763.7 385.2 766 380.7 772.2 385.2 772.7 387.5 775.6 385.2 777.8 377.3 778.7 370.5 779.2 367.7 780.1 369.4 784.6 370.5 791.4 371.7 797 370 800.4 375 802.1 377.3 805 375 808.3 378.4 809.5 380.7 812.9 383 817.4 385.2 823 388.6 827.6 394.3 831 401.6 835.3 403.3 842.3Z" fill="#999999" fill-rule="evenodd" stroke="#000" stroke-width="2" stroke-linejoin="round"/>
<path d="M302.4 842.3L304.1 835.5 308.7 826.4 312.6 819.7 317.1 812.9 320.5 806.1 320 799.3 321.7 792.5 322.8 785.7 326.2 783.5 325 779 323.9 774.4 327.3 768.8 330.7 760.9 335.2 751.8 339.7 746.2 343.1 740.5 345.4 736 347.1 732.1 350.5 726.4 357.3 724.2 359.6 727.6 359.6 732.1 354.7 734.9 355.8 740.5 357 747.3 358.1 755.2 358.7 760.3 353.6 758.6 349 756.3 349.6 761.4 355.8 763.1 350.7 765.6 350.2 768.8 357 771 360.9 772.4 360.3 775 360.3 783.5 359.2 790.3 357 795.9 353.6 797 350.2 799.3 353.6 802.7 358.1 800.4 360.3 805 360.3 812.9 361.5 819.7 367.1 820.8 373.9 824.2 380.7 826.4 387.5 828.7 396.5 832.1 401 834.9 402.2 842.3Z" fill="#666666" fill-rule="evenodd" stroke="#000" stroke-width="2" stroke-linejoin="round"/>
<path d="M307 842.3L309.2 835.5 314.9 831.5 321.7 829.3 329.6 828.7 337.5 829.3 346.5 830.4 357.8 832.1 369.1 833.8 380.4 835.3 387.2 836.2 391.7 842.3Z" fill="#000000" fill-rule="evenodd" stroke="#000" stroke-width="0.5" stroke-linejoin="round"/>
<path d="M367 695.9L366.7 697 365.8 697.5 364.9 697 364.5 695.9 364.9 694.8 365.8 694.3 366.7 694.8ZM354.6 720.2L354.4 720.7 353.9 720.9 353.4 720.7 353.2 720.2 353.4 719.7 353.9 719.5 354.4 719.7ZM388.2 711.5L387.2 712.2 385 712.4 382.8 712.2 381.8 711.5 382.8 710.9 385 710.6 387.2 710.9ZM383.1 723L382.8 726.1 382.2 727.3 381.5 726.1 381.3 723 381.5 720 382.2 718.7 382.8 720ZM387.4 736L387 736.8 386.1 737.1 385.3 736.8 384.9 736 385.3 735.3 386.1 735 387 735.3ZM367.3 739.4L366.7 739.8 365.2 739.9 363.8 739.8 363.2 739.4 363.8 739.1 365.2 739 366.7 739.1ZM401.5 639.4L401.3 639.7 400.8 639.8 400.3 639.7 400.1 639.4 400.3 639.1 400.8 638.9 401.3 639.1ZM422.9 651.8L422.6 652.5 422 652.7 421.4 652.5 421.1 651.8 421.4 651.2 422 650.9 422.6 651.2ZM362.2 751.3L362 751.7 361.5 751.9 361 751.7 360.8 751.3 361 750.8 361.5 750.6 362 750.8ZM374.9 771.6L374.6 771.9 373.9 772.1 373.2 771.9 372.9 771.6 373.2 771.3 373.9 771.2 374.6 771.3ZM387.6 736.6L387.2 737 386.3 737.2 385.5 737 385.1 736.6 385.5 736.1 386.3 735.9 387.2 736.1Z" fill="#000000" stroke="#000" stroke-width="2" stroke-linejoin="round"/>
<path d="M357.4 781.2L357.1 784.9 356.2 787.6 354.9 788.6 353.7 787.6 352.8 784.9 352.4 781.2 352.8 777.5 353.7 774.9 354.9 773.9 356.2 774.9 357.1 777.5ZM367.5 741.1L367.1 742.7 366.1 743.8 364.8 743.8 363.8 742.7 363.4 741.1 363.8 739.4 364.8 738.4 366.1 738.4 367.1 739.4ZM375.5 811.2L374.9 812.8 373.3 813.4 371.8 812.8 371.2 811.2 371.8 809.6 373.3 808.9 374.9 809.6Z" fill="#999999" stroke="#000" stroke-width="2" stroke-linejoin="round"/>
<path d="M380.1 789.7L379.6 792.5 378.2 794.2 376.4 794.2 375 792.5 374.5 789.7 375 786.9 376.4 785.2 378.2 785.2 379.6 786.9Z" fill="#cccccc" stroke="#000" stroke-width="2" stroke-linejoin="round"/>
<path d="M329 638.5V838.5M292.5 836H492.5" stroke="#4682b4" stroke-width="2" fill="none"/>
<rect x="325" y="832" width="9" height="9" fill="#4682b4"/>
</g>
<g clip-path="url(#cp32)">
<g fill="#000" fill-rule="evenodd" filter="url(#bl)"><path d="M608 844.5L496.5 844.5 496.5 632.5 536 632.5 543 632.5 544.5 632.5 544.9 632.5 544.9 795 545.9 802 548 809.8 549 812.4 554.1 819 561.5 824 571.1 828 574 828.4 575 829.1 579 829.4 579.6 830 584 830.3 585.1 831 601 832.3 601.9 833 607 833.4 609 834.1 618 834.5 621 835.6 625.4 842 626.6 844.5 627.2 844.5 625 844.5 609 844.5Z" fill-opacity="0.055"/><path d="M607 844.5L595 844.5 496.5 844.5 496.5 632.5 535 632.5 543 632.5 544.6 632.5 544.7 795 545 799.2 548 811 550 814.5 554.7 820 562.6 825 570.5 828 584.3 831 598 832.3 609 834.3 619 835.2 620.7 836 625 843 626.6 844.5 624 844.5Z" fill-opacity="0.058"/><path d="M601 844.5L595 844.5 496.5 844.5 496.5 632.5 535 632.5 543 632.5 544.3 632.5 544.4 794 544.6 799 545.5 803 548 812 549.9 815 554.2 820 561.9 825 569.8 828 577.9 830 620 835.9 623.3 841 625.9 844.5 625.9 844.5 624 844.5Z" fill-opacity="0.073"/><path d="M599 844.5L594 844.5 496.5 844.5 496.5 632.5 534 632.5 542 632.5 544 632.5 544.1 794 544.9 802 547.2 811 548.7 814 553.6 820 561.2 825 569 828 576.8 830 619 836.1 621 838.6 624.9 844.5 624.8 844.5 623 844.5 608 844.5Z" fill-opacity="0.091"/><path d="M597 844.5L496.5 844.5 496.5 632.5 534 632.5 541 632.5 543.6 632.5 543.7 795 544.6 803 547 812 548.8 815 553 820.1 560.5 825 568.2 828 575.7 830 602 833.6 618 837 619.6 839 623.1 844.5 621.5 844.5 609 844.5Z" fill-opacity="0.113"/><path d="M594 844.5L496.5 844.5 496.5 632.5 534 632.5 541 632.5 543.1 632.5 543.3 795 544.1 803 546.5 812 548.2 815 553 820.7 559.7 825 567.2 828 574 829.9 585 831.8 602 833.8 612.8 837 617.2 839 620.3 844.5 620.3 844.5 619 844.5 610 844.5Z" fill-opacity="0.135"/><path d="M610 844.5L595 844.5 496.5 844.5 496.5 632.5 534 632.5 540 632.5 542.6 632.5 542.8 798 543.5 803 545.6 811 546.8 814 551.5 820 557.2 824 562 826.5 576 830.6 602 833.9 607.5 836 615 840 617.3 843 617.7 844.5 617.3 844.5 614.7 844.5Z" fill-opacity="0.157"/><path d="M609 844.5L594 844.5 496.5 844.5 496.5 632.5 534 632.5 540 632.5 542 632.5 542.3 799 542.8 803 545.3 812 546.8 815 551.7 821 561 826.5 574 830.5 585 832.3 601.1 834 606 836 613.1 841 614.9 843 614.6 844.5 612.4 844.5Z" fill-opacity="0.186"/><path d="M608 844.5L594 844.5 496.5 844.5 496.5 632.5 534 632.5 540 632.5 541.4 632.5 541.8 799 542.1 803 544.6 812 546.1 815 550.9 821 556 824.4 562 827.3 573 830.6 603.4 835 610.4 841 611.9 843 611.7 844.5 610.4 844.5Z" fill-opacity="0.228"/><path d="M607 844.5L496.5 844.5 496.5 632.5 534 632.5 539.3 632.5 540.7 632.5 541.1 632.5 541.1 799 541.3 803 543.2 810 545.2 815 549.8 821 559 826.6 567 829.5 576 831.5 602.4 835 604.8 837 609.2 843 609.4 844.5Z" fill-opacity="0.279"/><path d="M600 844.5L496.5 844.5 496.5 632.5 534 632.5 538 632.5 539.9 632.5 540.5 804 543.2 813 544.7 816 549.6 822 557 826.5 566 829.7 573 831.4 600 835 602.7 836 606.9 843 608.3 844.5Z" fill-opacity="0.341"/><path d="M598 844.5L496.5 844.5 496.5 632.5 534 632.5 536.2 632.5 538.8 632.5 539.1 801 539.3 804 540.5 809 543.2 816 548 822 557 827.5 571 831.6 592 834.3 601 836.7 602.1 838 606.1 844.5 605.2 844.5Z" fill-opacity="0.448"/><path d="M594 844.5L496.5 844.5 496.5 632.5 533.3 632.5 536.8 632.5 537.2 632.5 537.2 803 537.8 810 541 817 545.4 822 548 824.2 556 828.5 561 830.4 567 831.8 576 833.3 592 835 594.1 836 597.8 841 599.4 844.5 598.7 844.5Z" fill-opacity="0.688"/></g>
<g transform="translate(502.5 638.5) scale(.5)" fill="none" stroke="#000" stroke-width="5.56" stroke-linecap="round"><g stroke-opacity="0.10"><path d="M0 0m82-1h0m2-1h0m-6 3h0m5 12h0m-5 3h0m7 23h0m3 6h0m1 10h0m-5 1h0m1 5h0m-6 11h0m0 11h0m1 0h0m14-25h0m-15 35h0m3 24h0m1 2h0m9-26h0m11 22h0m-17 5h0m-3 13h0m3 2h0m-7 5h0m6 0h0m-3 6h0m9-25h0m0 26h0m-9 6h0m-1 2h0m5 2h0m-3 3h0m1 24h0m-4 20h0m5 11h0m-2 6h0m-1 14h0m-3 6h0m18-18h0m-15 31h0m17-4h0m-11 19h0m1 9h0m-3 2h0m-3 12h0m6-11h0m0 15h0m2 3h0m13-1h0m-19 21h0m1 6h0m0 4h0m3 2h0m8 16h0m-3 9h0m-2 2h0m10 5h0m3 4h0m1 2h0m49-10h0m-12 21h0m-1 2h0m15-6h0m11 10h0m17-8h0m14 8h0m6 4h0m10-2h0m12 7h0m10 5h0m3 2h0m32-15h0m-13 16h0m17 0h0m63 1h0"/><path d="M0 0m83 0h0m0 5h0m1 17h0m9-10h0m-9 34h0m0 10h0m-3 14h0m-3 7h0m4 0h0m11-12h0m-10 36h0m4-1h0m-3 3h0m9-1h0m-3 16h0m-7 9h0m0 6h0m1 3h0m1 10h0m3-6h0m-8 14h0m7 31h0m-7 3h0m5 1h0m-3 3h0m-1 7h0m3 16h0m6-29h0m7 18h0m-15 23h0m1 3h0m1 13h0m19-4h0m-20 24h0m2-2h0m-5 3h0m7 8h0m7-15h0m-12 38h0m-2 7h0m7 8h0m5-27h0m-2 3h0m-8 35h0m6 4h0m21-12h0m-20 16h0m1 0h0m3 20h0m13 4h0m7 6h0m4 8h0m-7 2h0m36-16h0m9 1h0m78 20h0m-108 2h0m-1 2h0m20-2h0m1 6h0m16 2h0m19-1h0m-7 5h0m4-1h0m6 0h0m10 0h0m-1 3h0m14-3h0m6 15h0m6-12h0m1 3h0m6 0h0m2 4h0m45-6h0m98 12h0"/><path d="M0 0m103 8h0m-15 13h0m3 1h0m3-2h0m3 0h0m-10 20h0m0 7h0m0 1h0m-3 12h0m-1 7h0m-3 6h0m12-9h0m-6 32h0m2 9h0m21 13h0m-23 6h0m0 15h0m4-16h0m-1 18h0m-2 14h0m-7 3h0m0 15h0m6 5h0m14-15h0m-20 31h0m5 13h0m20 7h0m-23 15h0m0 2h0m2-2h0m-4 10h0m0 1h0m4 4h0m4-15h0m4 3h0m14 1h0m-16 35h0m-2 6h0m-5 8h0m3 29h0m2-2h0m-2 30h0m7-25h0m-1 8h0m-4 5h0m8-7h0m13-7h0m-5 15h0m-17 19h0m9 4h0m4 8h0m7-12h0m-1 3h0m11 4h0m2 4h0m-2 12h0m-3 2h0m14-22h0m-8 2h0m21 23h0m-16 4h0m6-3h0m25 2h0m-3 2h0m13 4h0m11 2h0m19 0h0m0 3h0m9-6h0m0 6h0m5 5h0m27-3h0m32-15h0m29 23h0"/></g><g stroke-opacity="0.19"><path d="M0 0m84 4h0m11 14h0m12-8h0m-23 42h0m14-27h0m-14 43h0m0 6h0m0 2h0m5 3h0m-5 45h0m0 26h0m2 6h0m10 21h0m-9 7h0m-1 24h0m4-4h0m-6 20h0m2 29h0m-1 5h0m1 3h0m-5 9h0m3 9h0m-3 13h0m-1 6h0m10-1h0m3 52h0m54 26h0m2 7h0m-2 2h0m49-1h0m12 14h0m35 5h0m40-9h0m26 0h0m47 0h0"/><path d="M0 0m79 4h0m7-3h0m3-4h0m-5 47h0m6 34h0m-9 15h0m0 9h0m4 10h0m8 3h0m-8 8h0m2 46h0m1-6h0m-8 22h0m5 1h0m8-1h0m-10 34h0m2-1h0m2 17h0m0 19h0m2 9h0m-6 22h0m0 12h0m0 12h0m-2 5h0m6 16h0m1 8h0m9 20h0m30 16h0m-3 4h0m55 9h0m45 14h0m16-2h0m-4 1h0m55-4h0"/></g><g stroke-opacity="0.34"><path d="M0 0m79 33h0m8 22h0m-2 27h0m0 56h0m4 11h0m15 13h0m-13 181h0m20 21h0m81 22h0m1 1h0m26 4h0m1 3h0m31 2h0"/><path d="M0 0m93 20h0m-11 35h0m11 40h0m18 53h0m-25 6h0m-4 38h0m-2 47h0m9 37h0m-6 59h0m21 4h0m94 51h0m29 2h0m6 9h0"/></g><g stroke-opacity="0.52"><path d="M0 0m88 14h0m-1 35h0m0 11h0m5 285h0m66 40h0"/><path d="M0 0m83 37h0m-1 149h0m6 9h0m2 41h0"/></g></g>
<path d="M516 631.4L516 638.5 514.5 647.4 512.9 655 512.2 662.6 511.4 670.2 510.3 677.9 509.5 685.5 508.4 693.1 507.4 702.3 507.6 707.6 506.1 715.2 504.6 722.8 502.7 723.6 495.4 723.6 495.4 843.1 547.2 843.1 547.2 829.5 544.1 829 541.1 827.8 536.5 824 532.7 818.7 530.4 811.9 528.9 804.2 528.2 796.6 528 785.2 527.8 770 527.8 760.9 528 745.7 528.2 730.4 528.3 715.2 528.2 700 527.8 696.9 527.8 685.5 527.4 674.1 527.4 662.6 526.6 655 526.6 647.4 527 638.5 527 631.4Z" fill="#fff" fill-rule="evenodd"/>
<path d="M516 631.4L516 638.5 514.5 647.4 512.9 655 512.2 662.6 511.4 670.2 510.3 677.9 509.5 685.5 508.4 693.1 507.4 702.3 507.6 707.6 506.1 715.2 504.6 722.8 502.7 723.6 495.4 723.6 495.4 843.1 547.2 843.1 547.2 829.5 544.1 829 541.1 827.8 536.5 824 532.7 818.7 530.4 811.9 528.9 804.2 528.2 796.6 528 785.2 527.8 770 527.8 760.9 528 745.7 528.2 730.4 528.3 715.2 528.2 700 527.8 696.9 527.8 685.5 527.4 674.1 527.4 662.6 526.6 655 526.6 647.4 527 638.5 527 631.4Z" fill="#cccccc" fill-rule="evenodd" stroke="#000" stroke-width="4" stroke-linejoin="round" paint-order="stroke"/>
<path d="M519.9 663.4L518.3 667.2 516.7 674.1 517.1 678.6 515.2 681.7 513.7 687.8 512.6 695.4 511.8 700.7 511.8 707.6 511.4 711.4 509.5 715.2 509.1 722.8 508.4 730.4 506.8 738.1 505.3 745.7 504.2 751.8 503 754.4 495.4 754.8 495.4 843.1 545.7 843.1 545.7 830.3 544.1 830.1 539.6 828.6 534.2 825.6 530.4 821.8 527.8 815.7 525.9 808.1 524.7 800.4 524 792.8 523.6 781.4 523.7 770 524 760.9 524 753.3 524.4 745.7 524.7 738.1 524.4 730.4 524.7 722.8 524 715.2 523.6 707.6 524 700 524.7 700.7 524.4 696.1 522.8 692.3 524.4 687 522.8 683.2 522.1 679.4 524.4 675.6 522.8 672.5 521.7 668Z" fill="#999999" fill-rule="evenodd" stroke="#000" stroke-width="2" stroke-linejoin="round"/>
<path d="M515.8 729.7L514.1 732.7 513.3 736.5 511.4 739.6 511 745.7 509.9 751.8 509.5 757.1 508.4 762.4 506.8 770 506.1 776.1 505.3 781.4 504.6 786.7 503 788.3 495.4 788.3 495.4 843.1 544.1 843.1 544.1 830.9 541.1 830.5 535 828.6 530.4 826.3 526.6 823.3 523.6 819.5 521.3 814.1 520.2 808.1 519.4 802 518.3 795.1 519 789 518.3 783.7 519.8 776.1 519 770 519.8 763.9 519.4 759.4 519.8 754.8 518.3 750.2 516.7 747.6 519 743.4 519.4 738.1 518.3 733.5Z" fill="#666666" fill-rule="evenodd" stroke="#000" stroke-width="2" stroke-linejoin="round"/>
<path d="M509.9 823.3L511.4 820.2 515.2 821.8 519 824 522.8 825.9 526.6 827.5 530.4 828.6 535 829.7 541.1 830.9 545.7 831.3 545.7 843.1 509.1 843.1 511.4 836.2 509.9 834.7 509.1 830.9 510.7 827.1Z" fill="#000000" fill-rule="evenodd" stroke="#000" stroke-width="0.5" stroke-linejoin="round"/>
<path d="M512.6 807.7L512.4 809 511.9 809.5 511.5 809 511.3 807.7 511.5 806.4 511.9 805.8 512.4 806.4Z" fill="#000000" stroke="#000" stroke-width="2" stroke-linejoin="round"/>
<path d="M547 638.5V838.5M502.5 836H702.5" stroke="#4682b4" stroke-width="2" fill="none"/>
<rect x="543" y="832" width="9" height="9" fill="#4682b4"/>
</g>
<g clip-path="url(#cp00)">
<path d="M82.5 208.5V208.3H86.5V208.3H90.5V208.2H94.5V207.4H98.5V206.4H102.5V203.2H106.5V199.4H110.5V192.4H114.5V182.5H118.5V173.5H122.5V158.3H126.5V147.4H130.5V130.2H134.5V118.2H138.5V104.3H142.5V93.3H146.5V81.2H150.5V70.4H154.5V63.4H158.5V55.3H162.5V49.2H166.5V39.3H170.5V39.3H174.5V36.3H178.5V40.2H182.5V36.3H186.5V29.5H190.5V26.5H194.5V33.2H198.5V29.5H202.5V30.3H206.5V27.3H210.5V28.4H214.5V31.3H218.5V31.3H222.5V30.2H226.5V31.3H230.5V33.2H234.5V37.3H238.5V39.3H242.5V36.3H246.5V37.3H250.5V42.4H254.5V42.4H258.5V43.3H262.5V45.3H266.5V45.3H270.5V45.3H274.5V47.4H278.5V48.4H282.5V208.5" fill="none" stroke="#000" stroke-width="1.39" stroke-linejoin="miter"/>
<path d="M147 8.5V208.5" stroke="#4682b4" stroke-width="2" fill="none"/>
</g>
<g clip-path="url(#cp11)">
<path d="M292.5 418.5V418.3H296.5V416.4H300.5V408.4H304.5V392.4H308.5V368.3H312.5V343.2H316.5V317.3H320.5V296.4H324.5V279.4H328.5V268.3H332.5V258.4H336.5V254.4H340.5V248.4H344.5V245.4H348.5V244.3H352.5V245.4H356.5V239.4H360.5V243.4H364.5V241.4H368.5V244.3H372.5V243.4H376.5V236.5H380.5V236.5H384.5V237.4H388.5V241.4H392.5V254.4H396.5V270.4H400.5V288.3H404.5V301.3H408.5V318.3H412.5V327.3H416.5V341.3H420.5V350.3H424.5V359.3H428.5V370.4H432.5V376.5H436.5V384.4H440.5V390.4H444.5V394.5H448.5V399.5H452.5V402.5H456.5V404.5H460.5V407.3H464.5V407.3H468.5V409.4H472.5V411.3H476.5V412.3H480.5V413.2H484.5V414.2H488.5V415.4H492.5V418.5" fill="none" stroke="#000" stroke-width="1.39" stroke-linejoin="miter"/>
<path d="M329 218.5V418.5" stroke="#4682b4" stroke-width="2" fill="none"/>
</g>
<g clip-path="url(#cp22)">
<path d="M502.5 628.5V519.4H506.5V488.3H510.5V459.3H514.5V446.3H518.5V456.3H522.5V483.4H526.5V522.4H530.5V559.3H534.5V586.5H538.5V603.4H542.5V611.5H546.5V615.4H550.5V618.4H554.5V619.4H558.5V620.4H562.5V621.3H566.5V622.3H570.5V623.2H574.5V623.2H578.5V624.2H582.5V624.2H586.5V624.2H590.5V626.2H594.5V625.3H598.5V626.2H602.5V626.2H606.5V626.2H610.5V627.2H614.5V627.2H618.5V627.2H622.5V627.2H626.5V627.2H630.5V627.2H634.5V627.2H638.5V627.2H642.5V627.2H646.5V627.2H650.5V627.2H654.5V628H658.5V628H662.5V628H666.5V628H670.5V628H674.5V628H678.5V628H682.5V628H686.5V628H690.5V628H694.5V628H698.5V628H702.5V628.5" fill="none" stroke="#000" stroke-width="1.39" stroke-linejoin="miter"/>
<path d="M547 428.5V628.5" stroke="#4682b4" stroke-width="2" fill="none"/>
</g>
<g clip-path="url(#cp33)">
<path d="M712.5 838.5V656.3H716.5V749.3H720.5V776.4H724.5V788.3H728.5V794.3H732.5V797.4H736.5V799.3H740.5V800.3H744.5V801.3H748.5V802.4H752.5V803.5H756.5V802.4H760.5V802.4H764.5V804.4H768.5V803.5H772.5V803.5H776.5V804.4H780.5V805.4H784.5V804.4H788.5V805.4H792.5V805.4H796.5V806.4H800.5V807.3H804.5V807.3H808.5V807.3H812.5V808.3H816.5V809.5H820.5V809.5H824.5V810.4H828.5V811.4H832.5V811.4H836.5V812.4H840.5V812.4H844.5V812.4H848.5V813.4H852.5V814.3H856.5V814.3H860.5V814.3H864.5V816.4H868.5V817.4H872.5V816.4H876.5V817.2H880.5V817.2H884.5V818.3H888.5V819.4H892.5V820.3H896.5V821.3H900.5V821.3H904.5V822.4H908.5V822.4H912.5V838.5" fill="none" stroke="#000" stroke-width="1.39" stroke-linejoin="miter"/>
<path d="M714 638.5V838.5" stroke="#4682b4" stroke-width="2" fill="none"/>
</g>
<path d="M82.5 8.5h200v200h-200zM82.5 218.5h200v200h-200zM292.5 218.5h200v200h-200zM82.5 428.5h200v200h-200zM292.5 428.5h200v200h-200zM502.5 428.5h200v200h-200zM82.5 638.5h200v200h-200zM292.5 638.5h200v200h-200zM502.5 638.5h200v200h-200zM712.5 638.5h200v200h-200z" fill="none" stroke="#000" stroke-width="1.11" stroke-linejoin="miter"/>
<path d="M127.5 208.5v5.3M179.5 208.5v5.3M230.5 208.5v5.3M127.5 418.5v5.3M179.5 418.5v5.3M230.5 418.5v5.3M82.5 382.5h-5.3M82.5 341.5h-5.3M82.5 300.5h-5.3M82.5 259.5h-5.3M328.5 418.5v5.3M369.5 418.5v5.3M410.5 418.5v5.3M451.5 418.5v5.3M127.5 628.5v5.3M179.5 628.5v5.3M230.5 628.5v5.3M82.5 587.5h-5.3M82.5 546.5h-5.3M82.5 506.5h-5.3M82.5 465.5h-5.3M328.5 628.5v5.3M369.5 628.5v5.3M410.5 628.5v5.3M451.5 628.5v5.3M292.5 587.5h-5.3M292.5 546.5h-5.3M292.5 506.5h-5.3M292.5 465.5h-5.3M543.5 628.5v5.3M584.5 628.5v5.3M624.5 628.5v5.3M665.5 628.5v5.3M127.5 838.5v5.3M179.5 838.5v5.3M230.5 838.5v5.3M82.5 798.5h-5.3M82.5 758.5h-5.3M82.5 718.5h-5.3M82.5 678.5h-5.3M328.5 838.5v5.3M369.5 838.5v5.3M410.5 838.5v5.3M451.5 838.5v5.3M292.5 798.5h-5.3M292.5 758.5h-5.3M292.5 718.5h-5.3M292.5 678.5h-5.3M543.5 838.5v5.3M584.5 838.5v5.3M624.5 838.5v5.3M665.5 838.5v5.3M502.5 798.5h-5.3M502.5 758.5h-5.3M502.5 718.5h-5.3M502.5 678.5h-5.3M752.5 838.5v5.3M792.5 838.5v5.3M832.5 838.5v5.3M872.5 838.5v5.3" fill="none" stroke="#000" stroke-width="1"/>
<text transform="translate(127.2 855.5) rotate(-45)" text-anchor="middle" dominant-baseline="central">4</text>
<text transform="translate(179.2 855.5) rotate(-45)" text-anchor="middle" dominant-baseline="central">6</text>
<text transform="translate(230.2 855.5) rotate(-45)" text-anchor="middle" dominant-baseline="central">8</text>
<text transform="translate(327.5 855.5) rotate(-45)" text-anchor="middle" dominant-baseline="central">4</text>
<text transform="translate(368.5 855.5) rotate(-45)" text-anchor="middle" dominant-baseline="central">8</text>
<text transform="translate(408.8 859.4) rotate(-45)" text-anchor="middle" dominant-baseline="central">12</text>
<text transform="translate(449.8 859.4) rotate(-45)" text-anchor="middle" dominant-baseline="central">16</text>
<text transform="translate(542.5 855.5) rotate(-45)" text-anchor="middle" dominant-baseline="central">2</text>
<text transform="translate(583.5 855.5) rotate(-45)" text-anchor="middle" dominant-baseline="central">4</text>
<text transform="translate(623.5 855.5) rotate(-45)" text-anchor="middle" dominant-baseline="central">6</text>
<text transform="translate(664.5 855.5) rotate(-45)" text-anchor="middle" dominant-baseline="central">8</text>
<text transform="translate(751.5 855.5) rotate(-45)" text-anchor="middle" dominant-baseline="central">2</text>
<text transform="translate(791.5 855.5) rotate(-45)" text-anchor="middle" dominant-baseline="central">4</text>
<text transform="translate(831.5 855.5) rotate(-45)" text-anchor="middle" dominant-baseline="central">6</text>
<text transform="translate(871.5 855.5) rotate(-45)" text-anchor="middle" dominant-baseline="central">8</text>
<text transform="translate(63 384.5) rotate(-45)" text-anchor="middle" dominant-baseline="central">4</text>
<text transform="translate(63 343.5) rotate(-45)" text-anchor="middle" dominant-baseline="central">8</text>
<text transform="translate(60.1 306.6) rotate(-45)" text-anchor="middle" dominant-baseline="central">12</text>
<text transform="translate(60.1 265.6) rotate(-45)" text-anchor="middle" dominant-baseline="central">16</text>
<text transform="translate(63 589.5) rotate(-45)" text-anchor="middle" dominant-baseline="central">2</text>
<text transform="translate(63 548.5) rotate(-45)" text-anchor="middle" dominant-baseline="central">4</text>
<text transform="translate(63 508.5) rotate(-45)" text-anchor="middle" dominant-baseline="central">6</text>
<text transform="translate(63 467.5) rotate(-45)" text-anchor="middle" dominant-baseline="central">8</text>
<text transform="translate(63 800.5) rotate(-45)" text-anchor="middle" dominant-baseline="central">2</text>
<text transform="translate(63 760.5) rotate(-45)" text-anchor="middle" dominant-baseline="central">4</text>
<text transform="translate(63 720.5) rotate(-45)" text-anchor="middle" dominant-baseline="central">6</text>
<text transform="translate(63 680.5) rotate(-45)" text-anchor="middle" dominant-baseline="central">8</text>
<text x="181.3" y="908.6" text-anchor="middle">Slip rate (mm/yr)</text>
<text x="391.3" y="908.6" text-anchor="middle">Locking depth (km)</text>
<text x="602.2" y="908.6" text-anchor="middle">creep rate (mm/yr)</text>
<text x="812.2" y="908.6" text-anchor="middle">creep depth (km)</text>
<text transform="translate(17.6 319.4) rotate(-90)" text-anchor="middle">Locking depth (km)</text>
<text transform="translate(17.6 528.5) rotate(-90)" text-anchor="middle">creep rate (mm/yr)</text>
<text transform="translate(17.6 738.5) rotate(-90)" text-anchor="middle">creep depth (km)</text>
</svg>
</body></html>
